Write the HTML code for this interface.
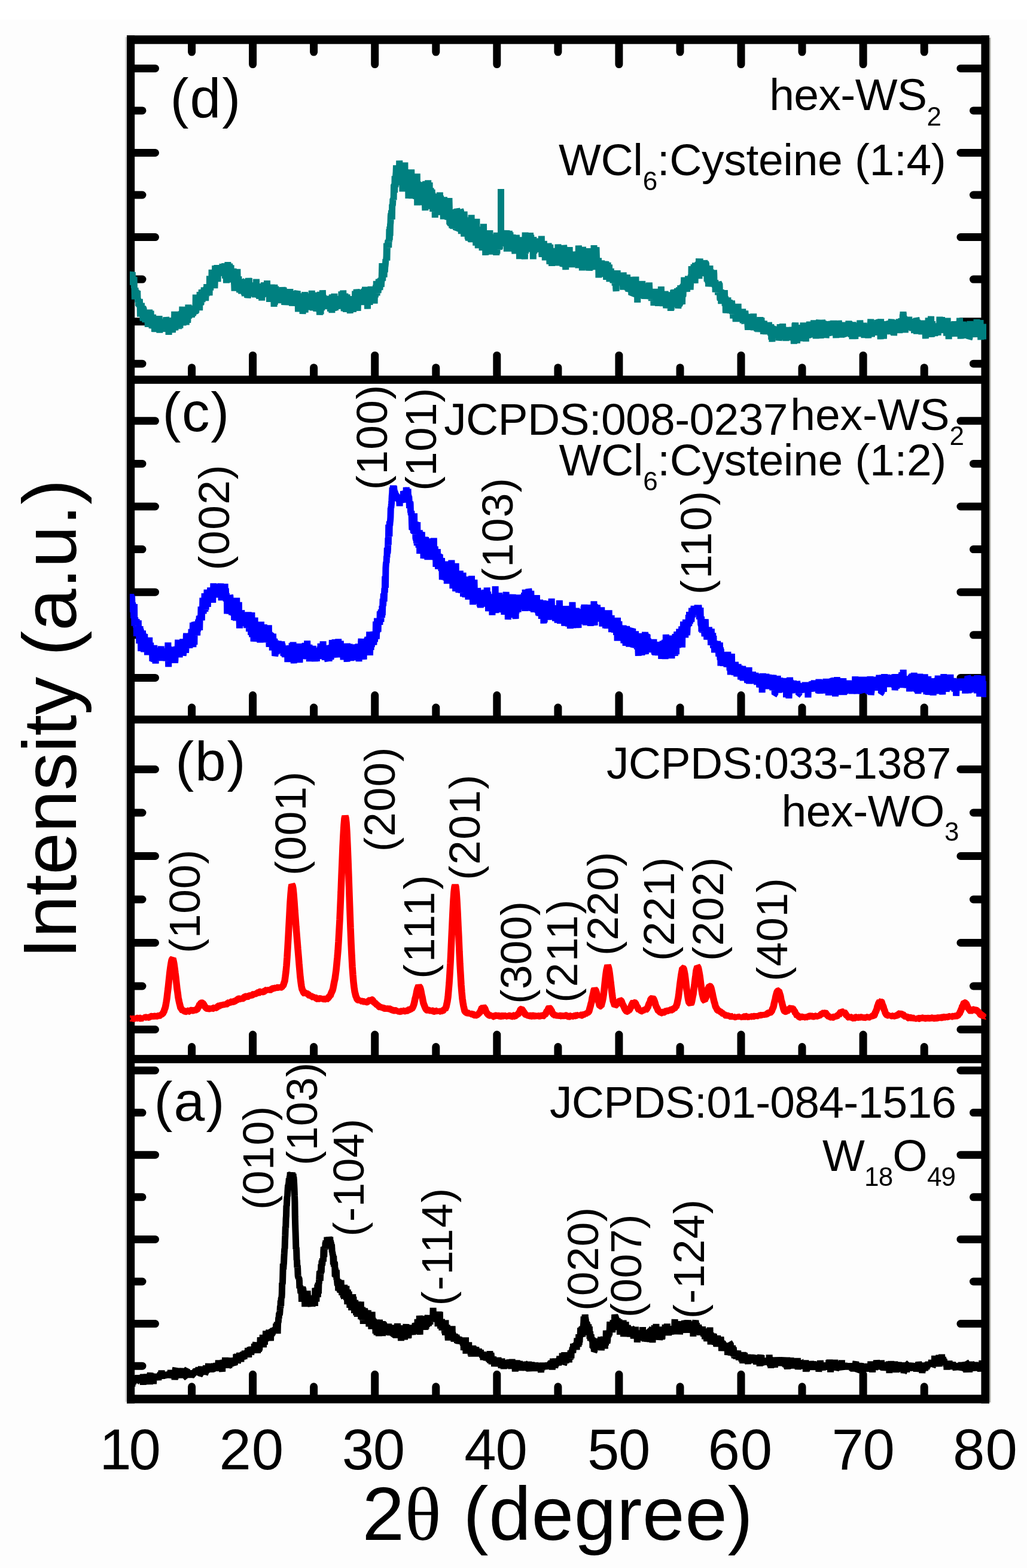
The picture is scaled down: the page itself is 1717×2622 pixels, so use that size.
<!DOCTYPE html><html><head><meta charset="utf-8"><title>XRD</title><style>html,body{margin:0;padding:0;background:#fff}svg{display:block}text{font-family:"Liberation Sans",Arial,sans-serif;fill:#000}</style></head><body>
<svg width="1717" height="2622" viewBox="0 0 1717 2622">
<rect x="0" y="0" width="1717" height="2622" fill="#fdfdfd"/>
<rect x="0" y="0" width="1717" height="33" fill="#fff"/>
<rect x="209.2" y="62" width="2.8" height="2282" fill="#d4d4d4"/>
<rect x="1654" y="63" width="2.4" height="2282" fill="#a8a8a2"/>
<rect x="212.0" y="59.2" width="13.2" height="2287.6" fill="#000"/>
<rect x="1640.4" y="59.2" width="13.6" height="2287.6" fill="#000"/>
<rect x="212.0" y="59.2" width="1442.0" height="14.4" fill="#000"/>
<rect x="212.0" y="2332.3" width="1442.0" height="14.3" fill="#000"/>
<rect x="212.0" y="628.2" width="1442.0" height="13.6" fill="#000"/>
<rect x="212.0" y="1196.6" width="1442.0" height="13.2" fill="#000"/>
<rect x="212.0" y="1764.1" width="1442.0" height="13.8" fill="#000"/>
<path fill="none" stroke="#000" stroke-width="13" stroke-linecap="round" d="M320.6 70.0V87.1M320.6 631.2V614.7M320.6 1199.6V1183.1M320.6 1767.1V1750.6M320.6 2335.3V2318.8M422.6 70.0V107.6M422.6 631.2V594.2M422.6 1199.6V1162.6M422.6 1767.1V1730.1M422.6 2335.3V2298.3M524.6 70.0V87.1M524.6 631.2V614.7M524.6 1199.6V1183.1M524.6 1767.1V1750.6M524.6 2335.3V2318.8M626.7 70.0V107.6M626.7 631.2V594.2M626.7 1199.6V1162.6M626.7 1767.1V1730.1M626.7 2335.3V2298.3M728.8 70.0V87.1M728.8 631.2V614.7M728.8 1199.6V1183.1M728.8 1767.1V1750.6M728.8 2335.3V2318.8M830.8 70.0V107.6M830.8 631.2V594.2M830.8 1199.6V1162.6M830.8 1767.1V1730.1M830.8 2335.3V2298.3M932.9 70.0V87.1M932.9 631.2V614.7M932.9 1199.6V1183.1M932.9 1767.1V1750.6M932.9 2335.3V2318.8M1034.9 70.0V107.6M1034.9 631.2V594.2M1034.9 1199.6V1162.6M1034.9 1767.1V1730.1M1034.9 2335.3V2298.3M1137.0 70.0V87.1M1137.0 631.2V614.7M1137.0 1199.6V1183.1M1137.0 1767.1V1750.6M1137.0 2335.3V2318.8M1239.0 70.0V107.6M1239.0 631.2V594.2M1239.0 1199.6V1162.6M1239.0 1767.1V1730.1M1239.0 2335.3V2298.3M1341.0 70.0V87.1M1341.0 631.2V614.7M1341.0 1199.6V1183.1M1341.0 1767.1V1750.6M1341.0 2335.3V2318.8M1443.1 70.0V107.6M1443.1 631.2V594.2M1443.1 1199.6V1162.6M1443.1 1767.1V1730.1M1443.1 2335.3V2298.3M1545.2 70.0V87.1M1545.2 631.2V614.7M1545.2 1199.6V1183.1M1545.2 1767.1V1750.6M1545.2 2335.3V2318.8M222.0 114.4H259.5M1643.0 114.4H1605.9M222.0 184.9H238.0M1643.0 184.9H1627.4M222.0 255.5H259.5M1643.0 255.5H1605.9M222.0 326.0H238.0M1643.0 326.0H1627.4M222.0 396.6H259.5M1643.0 396.6H1605.9M222.0 467.1H238.0M1643.0 467.1H1627.4M222.0 537.7H259.5M1643.0 537.7H1605.9M222.0 608.2H238.0M1643.0 608.2H1627.4M222.0 703.8H259.5M1643.0 703.8H1605.9M222.0 775.4H238.0M1643.0 775.4H1627.4M222.0 847.0H259.5M1643.0 847.0H1605.9M222.0 918.6H238.0M1643.0 918.6H1627.4M222.0 990.2H259.5M1643.0 990.2H1605.9M222.0 1061.8H238.0M1643.0 1061.8H1627.4M222.0 1133.4H259.5M1643.0 1133.4H1605.9M222.0 1286.5H259.5M1643.0 1286.5H1605.9M222.0 1359.0H238.0M1643.0 1359.0H1627.4M222.0 1431.5H259.5M1643.0 1431.5H1605.9M222.0 1504.0H238.0M1643.0 1504.0H1627.4M222.0 1576.5H259.5M1643.0 1576.5H1605.9M222.0 1649.0H238.0M1643.0 1649.0H1627.4M222.0 1721.5H259.5M1643.0 1721.5H1605.9M222.0 1790.0H259.5M1643.0 1790.0H1605.9M222.0 1860.6H238.0M1643.0 1860.6H1627.4M222.0 1931.2H259.5M1643.0 1931.2H1605.9M222.0 2001.8H238.0M1643.0 2001.8H1627.4M222.0 2072.4H259.5M1643.0 2072.4H1605.9M222.0 2143.0H238.0M1643.0 2143.0H1627.4M222.0 2213.6H259.5M1643.0 2213.6H1605.9M222.0 2284.2H238.0M1643.0 2284.2H1627.4"/>
<defs><clipPath id="cp"><rect x="217" y="59" width="1432" height="2288"/></clipPath></defs>
<g clip-path="url(#cp)" fill="none" stroke-linejoin="bevel" stroke-linecap="butt">
<path stroke="#008080" stroke-width="11" d="M218.5 471.7l.4 2.6 .4-11.4 .4-6.4 .4-1.8 .4 11.3 .4-8.3 .4-2.6 .4 15.8 .4 .6 .4 4.8 .4-11.8 .4 9.3 .4 .5 .4-11.5 .4 19.2 .4-.7 .4 19.3 .4-17.8 .4-1.7 .4 13.3 .4-7.6 .4 7.6 .4-9.6 .4 6.5 .4 8.3 .4-1.3 .4-3.4 .4-8.8 .4 14.4 .4-1.7 .4 6.9 .4-2.8 .4 8.8 .4-7.9 .4 3.7 .4 5.5 .4-12.9 .4 7.2 .4 .7 .4 21.7 .4-15.6 .4 7.3 .4 .8 .4-6.2 .4-9.3 .4 21.2 .4-10.2 .4 9.8 .4-15.5 .4 7.7 .4 14.3 .4 2 .4-21.1 .4 .4 .4 10.8 .4 6.8 .4-4 .4 1.7 .4-9.6 .4 13 .4 4.7 .4-11.7 .4-7.4 .4 5.9 .4 12.4 .4-19.1 .4 13.4 .4-6.6 .4 7.2 .4-.4 .4 2.4 .4 12 .4-8 .4 7.5 .4-11.2 .4-2.3 .4 7 .4-22.1 .4 19.4 .4 1.8 .4-10.5 .4 13.4 .4-7.8 .4-14.5 .4 17.6 .4-5.8 .4 3.7 .4 3 .4 11 .4-8.7 .4-.9 .4 3.3 .4-16.9 .4 23.7 .4-17.8 .4 11.8 .4-12 .4 1.2 .4 4.6 .4 17.7 .4-9.1 .4-10 .4 2.5 .4-6.6 .4 8.7 .4-4.1 .4 10 .4-15.9 .4 7.9 .4-3.8 .4 1 .4 11.1 .4-4.4 .4 3.5 .4 4.7 .4-.2 .4-19.3 .4 14.7 .4-17.6 .4 13.1 .4 15.3 .4-16.2 .4-1.4 .4 4.2 .4-1.1 .4 .1 .4-6 .4 14.2 .4-1.5 .4-8.4 .4 4 .4 2.7 .4 2.9 .4-5 .4 2.4 .4-7.4 .4-6.2 .4 4.4 .4 11.6 .4-.3 .4-6.4 .4-5.6 .4 6.7 .4 10.4 .4-2.4 .4-15.8 .4 4.9 .4-10.9 .4 2.4 .4 10.1 .4-1.4 .4 7.2 .4 2.2 .4-3.4 .4 3.7 .4-14.5 .4-4.6 .4 12.5 .4 15.3 .4-16.6 .4-11.7 .4 10.6 .4 9.1 .4-19.1 .4 14.1 .4-11 .4 14.5 .4-3.9 .4-3.7 .4 13 .4-18.7 .4-2.2 .4 19.6 .4-21.2 .4 23.7 .4-17.3 .4-7.8 .4 7.9 .4 1 .4 .5 .4-3.1 .4 9.7 .4-26.4 .4 13.6 .4 2.2 .4 16 .4-29.6 .4 12.7 .4-6.4 .4 3.6 .4 10 .4-1.9 .4 7.8 .4-16 .4 6.6 .4 6.8 .4-2.3 .4-9.8 .4 11.2 .4-16.2 .4 21 .4-13 .4-2.3 .4 2.7 .4 4.3 .4 6.7 .4-14.9 .4-2.1 .4 7.2 .4-11.6 .4-6.7 .4 19.5 .4-9.8 .4 11.6 .4-17.2 .4-11.8 .4 21.6 .4-1.3 .4 11.1 .4-8.7 .4-2 .4 1.9 .4-7.8 .4 3.2 .4-11.6 .4 14.5 .4-10.8 .4 2.5 .4 8.8 .4 1.4 .4-15.6 .4 23.5 .4-21 .4 11 .4 .6 .4-6.2 .4-.8 .4 12.5 .4-7.6 .4-4 .4-18.6 .4 8.1 .4 14.9 .4-8.2 .4-9.7 .4 2 .4 2.2 .4 7.5 .4-2.9 .4 4.4 .4-15.1 .4 14 .4-12.5 .4 1.1 .4 16 .4-13.9 .4-2.3 .4-1.1 .4-1.9 .4 15.3 .4-1.9 .4-5.9 .4-4.9 .4 6.5 .4-9.6 .4 3.8 .4-.9 .4-3.1 .4 12.3 .4 .4 .4-4.1 .4-27.3 .4 30.5 .4-9.9 .4-10.1 .4 3 .4 9.2 .4-.3 .4-3.1 .4-6.5 .4-1.4 .4 6.1 .4-8.2 .4-7.3 .4 1.8 .4 3.6 .4 3.4 .4 15.7 .4-31 .4 15 .4-5.2 .4 2.8 .4 8.4 .4-1.4 .4-12.3 .4-3.9 .4-7.3 .4 10.5 .4 10.7 .4-13.3 .4 7.7 .4-.4 .4-3.2 .4 5.4 .4-10.7 .4-6.6 .4-3.4 .4 17.4 .4-11.5 .4-.1 .4 9.3 .4-14.4 .4 21.5 .4-10 .4-10.8 .4-1.5 .4 14.3 .4-20.1 .4 4.2 .4 5.1 .4 1.2 .4-2.2 .4 2.7 .4-7.1 .4 1.6 .4 11.5 .4-5.9 .4-10.1 .4 18.3 .4-33 .4 17.6 .4 4.5 .4 2.1 .4-8.2 .4-5 .4 7.9 .4-7.6 .4 5.3 .4-27.1 .4 24.9 .4-11.2 .4 14.7 .4-2.4 .4-.9 .4-10.8 .4 6.8 .4-7.7 .4 4.3 .4-3.9 .4-7.3 .4 24.8 .4-12 .4-26 .4 25.9 .4-21.5 .4 9.7 .4-4 .4-.4 .4 6.3 .4-5.9 .4-10.9 .4 12.5 .4 2.9 .4 12.4 .4-20.4 .4-7.3 .4 7.2 .4 9.4 .4-14.2 .4 1.5 .4 11.8 .4-5.2 .4 2.2 .4-7.8 .4-1.8 .4 4.6 .4 1.4 .4-1.9 .4 6.8 .4 .7 .4-.3 .4-.9 .4-12.8 .4-2.4 .4 17.7 .4-7.3 .4 1.1 .4-11.6 .4 9.1 .4-3.6 .4-1.7 .4 2.6 .4-7.6 .4 14.9 .4 10.3 .4-16.8 .4 7.6 .4-10.6 .4 16.4 .4 11.1 .4-28.2 .4 9.3 .4 15.2 .4-9.6 .4-2.2 .4-19.6 .4 17.3 .4 9.9 .4 4.8 .4-7.2 .4-11.1 .4-.8 .4-10.2 .4 6.9 .4 20.2 .4-11.1 .4-10.9 .4 24.4 .4-27 .4 27 .4-14.1 .4 6.4 .4 3.4 .4-3.4 .4 9.5 .4-11 .4-2.8 .4-2.6 .4-6.7 .4 7.2 .4 15.5 .4-1.1 .4 5.5 .4 10.4 .4-15.8 .4-1.5 .4-15.9 .4 10 .4 22.3 .4-14.6 .4-5.5 .4 4.4 .4-19.3 .4 9.9 .4-3.8 .4-7 .4 26.4 .4 2.2 .4-9.7 .4 5.1 .4-11.6 .4 13.5 .4 3.2 .4 7.3 .4 .7 .4-9 .4-5 .4-5.7 .4 2.4 .4 11.2 .4 0 .4-4.4 .4 14.9 .4-8.5 .4-5.1 .4-1.5 .4 2.8 .4-8.6 .4 .1 .4 12 .4-7.8 .4 3.2 .4 13.4 .4-12 .4 13.5 .4-11.1 .4 13.6 .4-8.8 .4-19 .4 26.4 .4-12.2 .4-15 .4 18.3 .4 .7 .4-12.3 .4 6.2 .4 10.3 .4 7.7 .4-2.2 .4 .9 .4-.7 .4-30.9 .4 15.3 .4 8 .4-23 .4 28.3 .4 1.2 .4-14.3 .4 3.5 .4-4.8 .4 8.1 .4-.2 .4 .4 .4-8.7 .4 12.2 .4-6.2 .4 11.1 .4-5.4 .4-15.5 .4 .4 .4 13.1 .4-4.8 .4 8.3 .4 2.9 .4-6.7 .4-14.7 .4 4.3 .4 15.2 .4-13.9 .4 18.6 .4-10.3 .4 5.3 .4-12 .4 6.8 .4-20.7 .4 19.8 .4 6.8 .4-12.6 .4 .5 .4 6.8 .4 1 .4-7.4 .4 12.7 .4-19.9 .4 23.8 .4-21.7 .4 5.1 .4 18.5 .4-20 .4-5.6 .4 14.9 .4-8.6 .4-1.6 .4 3.6 .4-.4 .4-1.9 .4-.5 .4 22.8 .4-19.6 .4 14.1 .4-20.4 .4 16.8 .4-15.4 .4 6.9 .4 9.4 .4-10 .4-12.2 .4 12.1 .4 3.5 .4 6.3 .4-13.4 .4 6 .4 3.2 .4-14.6 .4 13.3 .4-6.2 .4 10.9 .4-4.6 .4-.4 .4-19.2 .4 19.8 .4-2.2 .4-4.8 .4 3.8 .4-6.4 .4 12.4 .4 4.2 .4-.5 .4-9.5 .4 18.9 .4-7 .4-15.4 .4 7 .4-12.6 .4 13 .4 7.1 .4 4.8 .4-14.3 .4-11.7 .4 13.9 .4 13.2 .4-10.4 .4 9.7 .4-3.7 .4 6.3 .4-8.2 .4-10.7 .4 9.5 .4 17.6 .4-25.8 .4-11.3 .4 33.8 .4-14.4 .4-8.8 .4 .2 .4-7.9 .4 19.2 .4-4.7 .4-6.6 .4 1.9 .4 0 .4 12.8 .4-10.6 .4 13.4 .4-18.8 .4 2 .4 1.2 .4-.4 .4 3.9 .4 9.6 .4 1.7 .4-19.4 .4 20.2 .4-10 .4 12.9 .4-14.9 .4-5.5 .4 14 .4-1.3 .4-9 .4 4.2 .4 1.1 .4 1.7 .4-17.1 .4 4.5 .4 10.9 .4 1.9 .4-6.5 .4-10.3 .4 26.5 .4-13.9 .4-6.1 .4 22.6 .4-3.8 .4-.6 .4-1.6 .4-2 .4-12.9 .4 8.6 .4 2.9 .4 2.5 .4-1.1 .4-12.4 .4 3.5 .4 2.5 .4 1.3 .4-5.6 .4-7.8 .4 5.2 .4 13 .4-2.5 .4 5.1 .4-20.6 .4 12.5 .4 11.1 .4-23.8 .4 7.5 .4-4.7 .4 24.3 .4-9.8 .4-4.9 .4 6.2 .4-1.9 .4 8.5 .4 2.3 .4-2 .4-4.7 .4 3.7 .4 .5 .4 3.1 .4-25.1 .4 18.4 .4-2.1 .4 .8 .4-3.4 .4 1.6 .4 4.8 .4-2.4 .4-.5 .4-9.9 .4-1.5 .4 4.3 .4-8.6 .4 10.7 .4-2.7 .4-7.9 .4-1.1 .4 12.3 .4-.9 .4 23.1 .4-10.9 .4-13.7 .4 2.4 .4-4.2 .4 1.9 .4 3.7 .4 2.6 .4-4.8 .4 12.2 .4-1.5 .4 11 .4-27.2 .4 16.6 .4-8.7 .4-10.2 .4 11 .4-11.1 .4 13.5 .4 21.1 .4-9.9 .4 4.4 .4-5.2 .4-22.7 .4 16.4 .4-2.2 .4 2.5 .4-12.2 .4-7.8 .4 34.1 .4-7.5 .4-7.3 .4-6.6 .4 5.7 .4-11.8 .4 18.4 .4-6.6 .4-2.5 .4-2.3 .4 3.1 .4 1.7 .4-4.4 .4 11.4 .4-6.2 .4-2.5 .4-6.3 .4 17.3 .4 .7 .4-5 .4-21 .4 12.4 .4 11.2 .4-7.9 .4 10.3 .4-14.2 .4 10.2 .4-2.2 .4-24.7 .4 17 .4 1.4 .4-3.3 .4-2.2 .4 20.6 .4-14.2 .4 7.6 .4-17.7 .4-6.1 .4 13.3 .4 7.3 .4-9.4 .4 10.4 .4 2.2 .4-10.4 .4 3.3 .4-5.7 .4 15.1 .4 5.7 .4-10.6 .4-8.3 .4-1.7 .4 3.6 .4 9.7 .4-13.7 .4 18.6 .4-22.4 .4 10 .4 11 .4 3.9 .4-18.2 .4 10 .4 14.1 .4-11 .4-27.9 .4 20.5 .4 17.4 .4-29.3 .4 17.2 .4-24.9 .4 30.5 .4-20.2 .4 13.7 .4 .9 .4-28.3 .4 8.8 .4 14.6 .4-15.3 .4 12.4 .4-7.7 .4 19 .4-15.3 .4-3.4 .4 12.9 .4 4.8 .4-11.4 .4 3.6 .4 1.8 .4-8.2 .4-5.8 .4 14.3 .4-7.3 .4-8.5 .4 18.5 .4-3.5 .4-2.4 .4-7.5 .4 4.5 .4 6.9 .4-1.1 .4-10.8 .4-.7 .4 10.3 .4-1.3 .4 5.5 .4-16.6 .4 17.2 .4 7 .4-6.7 .4-6.8 .4 6.4 .4-18.2 .4 7 .4 20.8 .4-30.7 .4 4 .4 16.4 .4-12.3 .4 .8 .4-4.6 .4 23.3 .4-19.1 .4 2.8 .4-12.8 .4 21.5 .4-6.5 .4 4.2 .4 9 .4-11.9 .4-11.1 .4 1.4 .4 9.1 .4 10.3 .4-20.9 .4 7.9 .4 .8 .4 6.7 .4-12.9 .4 10 .4 3.9 .4-6.8 .4-.5 .4 6 .4-.3 .4 5.6 .4-19.4 .4 19.2 .4-12.1 .4-7.6 .4 4.9 .4-5.6 .4 8.6 .4 10.2 .4-27.2 .4 8.9 .4 16.2 .4-8.9 .4 9.1 .4-17.5 .4 10.6 .4-20.3 .4 13.7 .4 13.2 .4 4 .4 3.5 .4-14 .4-6.8 .4 4.1 .4-12.6 .4 27.1 .4-1.4 .4-17.3 .4 22.8 .4-26.4 .4 15.9 .4-11.3 .4-7.6 .4 17.7 .4-12.8 .4 19.5 .4-17.3 .4 8.4 .4-4.8 .4 5.2 .4-6.3 .4 12.2 .4-1.6 .4-4.4 .4-1.5 .4 17.5 .4-21.8 .4 2.2 .4 10.2 .4-6.3 .4-13.3 .4 12.5 .4-1.9 .4-5 .4 9.9 .4-11 .4 7.3 .4-7.4 .4 22.2 .4-15.4 .4 5.8 .4-1.5 .4 3.2 .4-7.4 .4 7.2 .4-5.6 .4-21.6 .4 22.5 .4-13.7 .4 18.3 .4-6.5 .4-5.2 .4-18 .4 2.6 .4 7.8 .4 6.3 .4-8.6 .4 27.8 .4-13 .4-4.8 .4-7.8 .4 5.1 .4 .6 .4-2 .4 2.8 .4 7.1 .4-21.8 .4 16.5 .4 7.1 .4-21 .4 9.7 .4-1.9 .4-6.6 .4 17.4 .4-10.9 .4 12.2 .4-6.3 .4-6 .4 4.6 .4-5.7 .4-10.8 .4 25.8 .4-9.1 .4 6.6 .4-25.1 .4 24 .4-1.9 .4-7.4 .4-17.7 .4 18.7 .4-6.5 .4 3.9 .4 2 .4-8.2 .4 6.5 .4 1.1 .4 12.2 .4-13.2 .4 20.7 .4-29.9 .4 8.9 .4 11.6 .4-23.8 .4 18.6 .4-1.9 .4-8.5 .4 3.1 .4 15 .4-16.9 .4 6.1 .4 1.3 .4 6.4 .4-27.8 .4 4.9 .4 .9 .4 8.8 .4 7.3 .4 1.6 .4-9.8 .4 15 .4-13.8 .4 6.2 .4-12.7 .4 13.2 .4-13.7 .4 15.6 .4-2.9 .4 8.1 .4-20.1 .4-6.9 .4 16.5 .4-4.9 .4-7.9 .4-7.6 .4 17.7 .4-24.5 .4 12 .4 12.5 .4-12.3 .4 5.2 .4-.6 .4 0 .4 3.1 .4-4.5 .4-10 .4-8.5 .4 7.4 .4-4.2 .4 8.4 .4 6.4 .4-4.8 .4-14 .4 7 .4-2.7 .4-5.3 .4 14.8 .4-7.3 .4-3.6 .4-15.7 .4-13.1 .4 14.3 .4 15.2 .4-14.3 .4-.1 .4-4.1 .4 4.9 .4-6.4 .4 14.1 .4-19 .4-3.3 .4 13.8 .4-8.3 .4-2.6 .4-3.6 .4-7.5 .4 1.2 .4 0 .4-6.4 .4-21.4 .4 29.3 .4-20.3 .4-3.2 .4-.2 .4-6.2 .4-4.1 .4 5.3 .4 7 .4-14.5 .4 4.9 .4-21.5 .4 18.4 .4-22.6 .4 15.4 .4-18.7 .4-2.8 .4-11.5 .4-4.7 .4 7 .4-11.9 .4 4.3 .4 11 .4-25.3 .4 1.9 .4-1.5 .4-9.9 .4 1.8 .4-2.7 .4 3 .4-25.8 .4 1.9 .4-2.3 .4 14 .4-27.7 .4 12.3 .4 5.8 .4-3.4 .4-16.4 .4-5.3 .4-11 .4 14.2 .4 1.9 .4-16 .4 26.7 .4-9.1 .4-5.8 .4-4.2 .4 11.3 .4-9.6 .4 9 .4-12.1 .4 18.2 .4-32.4 .4 6.6 .4 34.5 .4-9 .4 7.3 .4-29.1 .4 18.5 .4 3.5 .4-.7 .4-12.9 .4 20.2 .4-12.3 .4-20.1 .4 45.4 .4-27.5 .4 14 .4-22.8 .4-2.3 .4 22.1 .4-.2 .4-18.1 .4 12.3 .4-18.3 .4-8.1 .4 37.8 .4-26.1 .4 22.8 .4 4.3 .4-7.8 .4 14 .4-13.2 .4-.4 .4-3 .4 5.3 .4-.3 .4-14.8 .4 10.9 .4-3.4 .4 34.3 .4-14.5 .4-23.2 .4 16.7 .4-27.1 .4 21.7 .4 21.2 .4-19.8 .4 14.6 .4-18.7 .4 10.2 .4-.4 .4-29.3 .4 16.9 .4 32 .4-31.1 .4 24.2 .4 6.6 .4-19.9 .4 12.7 .4-6.9 .4-10.6 .4 14.2 .4-1.3 .4-16 .4 6.7 .4-10.1 .4 12 .4 3.8 .4-10.5 .4-9.9 .4 29.5 .4 7 .4-24.7 .4 11.5 .4-8.3 .4-20.8 .4 53.2 .4-20.7 .4-19.3 .4 30.9 .4-6.1 .4 8.1 .4-7.6 .4-2.1 .4 10.6 .4-19.4 .4 6.1 .4-14.9 .4-.5 .4 15.7 .4 .5 .4-20.5 .4 22.6 .4 7.5 .4-25.6 .4 10.7 .4 23.7 .4-29 .4 16.4 .4 2.7 .4-6.7 .4-.1 .4 5 .4-2.9 .4-1.4 .4-18.2 .4 19.8 .4-11.5 .4 26.2 .4 8.4 .4-12.3 .4-36.8 .4 36 .4-9.8 .4-13.4 .4-1.2 .4 26 .4-19.1 .4 6.7 .4 1.9 .4 10.1 .4-38.6 .4 42.4 .4-22.8 .4 4.8 .4 11.8 .4-2.6 .4-30 .4 33.1 .4-8.2 .4-9.7 .4 5 .4-10.9 .4 27.1 .4 8 .4-23.5 .4 2.1 .4-10.9 .4 8.7 .4-3.3 .4 11.9 .4 19.5 .4-7.5 .4-.6 .4-21.7 .4 20.4 .4-17.2 .4-1.7 .4 18.4 .4-9.2 .4 29.1 .4-25.5 .4-5.3 .4 11.9 .4-21.1 .4 20.8 .4 10 .4-18.7 .4-4 .4 18.5 .4-24.8 .4 16.9 .4-9.8 .4 9.4 .4-11.8 .4 15.8 .4-.2 .4 13.6 .4-23.2 .4 9.3 .4-24.1 .4 11.2 .4 12.1 .4-17.7 .4 14.4 .4-8.3 .4 15.7 .4 1.7 .4-11.3 .4 12.9 .4-12.9 .4 7.9 .4 4.9 .4 .9 .4 .9 .4 12.6 .4-25.3 .4 5.9 .4-17.9 .4 30.1 .4-21.4 .4 6.2 .4 1.3 .4 10.6 .4-7.2 .4 .4 .4 4.3 .4-4 .4 3.8 .4-10 .4 5.1 .4-6.8 .4 22.9 .4 .9 .4-2.2 .4-3.1 .4-9.8 .4 13 .4-22.4 .4-9.9 .4 14.6 .4 29.4 .4-13.2 .4 14.5 .4-24.1 .4 19 .4 6.6 .4-6.2 .4-7.2 .4 8.9 .4-16.2 .4 24.1 .4-31 .4 4.6 .4 8.7 .4-8.2 .4 27.3 .4-11.3 .4-14.8 .4 26.1 .4-3.1 .4-18.3 .4 21 .4-3.8 .4-17.7 .4-.3 .4 9.5 .4 9.2 .4 4.8 .4-.4 .4-20.9 .4-13.6 .4 1.3 .4 34.3 .4-4.5 .4 1.6 .4-12.3 .4 1.2 .4 4.5 .4 0 .4-3.7 .4-10.9 .4-3.9 .4 16.4 .4-3 .4 16.9 .4-26 .4-9.4 .4 .5 .4 20.7 .4 18.3 .4-21 .4-3.5 .4 11.6 .4 12.6 .4-4.5 .4-2 .4 .9 .4-12.6 .4 4.2 .4 3.8 .4 14.9 .4-41.9 .4 17.7 .4 9.9 .4-6.1 .4 1.4 .4-1.1 .4-6.9 .4 15.5 .4 8.6 .4-17.1 .4 8.7 .4 7.2 .4-18.1 .4 6.2 .4-12.4 .4 30.4 .4 1.7 .4-19.8 .4 23.2 .4-11.6 .4-27.7 .4 24.4 .4-2.2 .4 3 .4 2.1 .4-11.5 .4 16.7 .4-8.2 .4 16.7 .4-20.6 .4-24.4 .4 45.9 .4-13.7 .4-24.5 .4 13 .4-1.6 .4 18.1 .4-15.9 .4 18.8 .4-16.9 .4 15.4 .4-15.9 .4-5.8 .4 18.7 .4-8.2 .4 8 .4-22 .4 6.6 .4 7.3 .4 24.1 .4-15.8 .4-21.1 .4-8.1 .4 45 .4-15.4 .4-16.1 .4 23.4 .4-1.1 .4 13.5 .4-19.7 .4-6.8 .4 13.8 .4-21.9 .4 9.5 .4-5.3 .4 4.6 .4-7 .4-1.4 .4 3.8 .4 15.5 .4-3.4 .4-.8 .4 5.8 .4 3.1 .4-2.5 .4 16.5 .4-17.9 .4 1.3 .4-8.5 .4 16.2 .4 3.8 .4-39.5 .4 33.9 .4-19.1 .4 14.9 .4-2.4 .4-13.3 .4-.6 .4 11.3 .4 28 .4-37.4 .4 8.7 .4 1.4 .4 .5 .4 14.2 .4 9.6 .4-21 .4 4.8 .4-7.2 .4 19.2 .4-16.2 .4 7.5 .4-8.7 .4 13.4 .4-11.9 .4-7.7 .4 27.6 .4-38.6 .4 21.3 .4-5.3 .4-5.5 .4 30 .4-17.5 .4-7.6 .4-4.8 .4 12.3 .4-3.5 .4-2.4 .4-4.3 .4 21.9 .4-13.2 .4-4.1 .4-10.8 .4 4.7 .4 15.1 .4-15 .4 14 .4-7.8 .4 5 .4-.6 .4-8.1 .4 1.6 .4 1.8 .4 7.1 .4 17.4 .4-15.7 .4-22.2 .4 35.4 .4-23.8 .4-6 .4 8.1 .4-2.1 .4 3 .4-3 .4-.2 .4 12.9 .4 4.3 .4-16.3 .4 15 .4-6.7 .4 2.6 .4-9.4 .4-.6 .4 5.9 .4-17.8 .4 10.4 .4-12 .4 20.7 .4-7 .4 3.9 .4-9.3 .4-4.3 .4 17.6 .4-14 .4 2.3 .4 2.6 .4 4.5 .4-4 .4-11 .4 .1 .4 20.9 .4-13.3 .4 .9 .4-6.3 .4 18.4 .4-4.6 .4-10 .4-11.7 .4 35.6 .4-23.6 .4-5.9 .4 7 .4-6.4 .4 11.6 .4-5.3 .4-6.1 .4 18.9 .4-15.2 .4-9.8 .4 22.2 .4-8.7 .4-5.2 .4-5.6 .4 9.8 .4 1.2 .4 1.3 .4 0 .4 17.8 .4-1.9 .4-7.3 .4 2.6 .4-10.1 .4-9.9 .4 20 .4 8.5 .4-20.6 .4 .1 .4 .1 .4-6.2 .4 18.8 .4-16.3 .4 24.7 .4 2.9 .4-15.7 .4-1.2 .4-8 .4 17.6 .4-8.1 .4-15.7 .4 5.6 .4 14.1 .4-9.6 .4 9.4 .4-1.9 .4 11.9 .4-15.3 .4 11.6 .4 .5 .4 2.2 .4-16.6 .4 6.3 .4 22.1 .4-26.8 .4-4 .4 7.2 .4-12.9 .4 3.3 .4 4.2 .4 1.5 .4 12.9 .4-21 .4 9.2 .4 4.4 .4-5.5 .4 10.3 .4 14.9 .4-33 .4 2.2 .4 3.5 .4-.2 .4 0 .4 9.6 .4 13.2 .4 7.2 .4-25.3 .4-19.6 .4 35.9 .4-15.3 .4-4.3 .4 15.1 .4-12 .4-1.1 .4-6.5 .4 17.9 .4-.7 .4-16.9 .4 2.9 .4 17.9 .4-19.5 .4 3 .4-3.4 .4 5.2 .4 10.9 .4-7.9 .4 9.3 .4-3.9 .4-26.1 .4 19.9 .4-.1 .4-16.3 .4 24.3 .4-8.2 .4-4.6 .4 10.2 .4 4.4 .4-2.3 .4-12.4 .4 4.8 .4 24.8 .4-37.3 .4 13.7 .4-.4 .4 14.6 .4-8.8 .4-3.8 .4-5.2 .4 15.4 .4-11.6 .4-1.6 .4 2.7 .4 5.2 .4-6.4 .4 2.3 .4 5.4 .4-15 .4 5 .4 3.2 .4 6.2 .4-1.1 .4-10.2 .4-5.3 .4 6.7 .4-1 .4 14 .4-2.3 .4-5.5 .4-11 .4-2 .4 14.3 .4 5.1 .4-2 .4-6 .4 8.5 .4-24.8 .4 31 .4 3.8 .4-12.8 .4 1 .4-4.1 .4 11.1 .4-17.5 .4 3.6 .4 9.9 .4-17.6 .4 19.1 .4-.1 .4-4.3 .4-4.5 .4 22.2 .4-22.1 .4 7 .4 6.6 .4-7.7 .4 10.6 .4-9.9 .4 2.7 .4-2.3 .4 6.8 .4-12.4 .4 15.2 .4 1.7 .4-20 .4-4.1 .4 1.9 .4 5.5 .4 14.7 .4-5.8 .4 17.9 .4-2.7 .4-30 .4 11.4 .4 1.1 .4 18.7 .4-7.8 .4 1.6 .4-16.6 .4 27.7 .4-30.1 .4 11.1 .4-9.4 .4 .8 .4 11.2 .4-10.9 .4 15.4 .4-1.5 .4-4.4 .4 5.7 .4 4.8 .4-.3 .4-21.4 .4 17.4 .4 2.3 .4-12.1 .4-.1 .4 15.4 .4-5.2 .4-5.1 .4 12.6 .4-4.8 .4 7.8 .4-20.4 .4 13.2 .4-28.5 .4 12.9 .4 22.3 .4-25.4 .4 7.9 .4-1.8 .4 8 .4 6.4 .4 4.5 .4-16.8 .4 4.7 .4 5.3 .4 2.8 .4-13.8 .4 15.8 .4-26.8 .4 16.5 .4-15.8 .4 8.8 .4-3.1 .4 24.7 .4-.9 .4-8.5 .4-5.8 .4-20.3 .4 2.5 .4 18.2 .4 5.3 .4-2.1 .4-11.8 .4-.4 .4 12.7 .4 16.7 .4-14.7 .4-7.3 .4-.7 .4 5.4 .4-1.2 .4-16.6 .4 28.6 .4-10.3 .4 1 .4-9.6 .4 15 .4-.8 .4-16.6 .4 16.9 .4-16.5 .4-10.8 .4 25.8 .4-17.5 .4 4.3 .4-3.5 .4 8.3 .4-2.6 .4 5 .4 3.1 .4 11.2 .4-11.1 .4 .6 .4-.1 .4 3.2 .4 .9 .4-5.8 .4-13.7 .4 2 .4 12 .4-5.7 .4-.8 .4-.9 .4-1.8 .4 17.4 .4-2.9 .4-19.5 .4 14 .4-1.9 .4-4.1 .4 14.5 .4-6.9 .4-2.2 .4-8.8 .4 17.3 .4-6.5 .4 .4 .4-9.2 .4 20.9 .4-37.9 .4 10.7 .4-2.5 .4 3.6 .4 2.6 .4 5.1 .4 1.7 .4 5.1 .4 11.1 .4-7.4 .4-4.1 .4-2.5 .4 5.1 .4 4.2 .4-14.6 .4 23.7 .4-16.7 .4 8.4 .4-31.3 .4 25.1 .4-5.5 .4 16.7 .4-3.2 .4-6.5 .4 3 .4-8.9 .4-5.5 .4 19.4 .4-22.1 .4 6.4 .4-6 .4 2.1 .4 5.2 .4 11.8 .4-17.1 .4 16.2 .4-24.5 .4 9.7 .4-.3 .4 14.6 .4 6.2 .4-34.4 .4 22.6 .4 14.6 .4-15.1 .4 15.4 .4-4.7 .4-8.2 .4-16.1 .4 7 .4 20.9 .4-23.1 .4-1.9 .4 5.9 .4 16.2 .4-11 .4-15.5 .4 8.4 .4 12.3 .4 4.4 .4 3.5 .4-9.7 .4-.4 .4-13.7 .4 3.8 .4-7.6 .4 11.5 .4 5.2 .4-3.4 .4-9.4 .4 14.3 .4 3.4 .4 3.1 .4-32.1 .4-2.3 .4 12.8 .4 15.7 .4 5.1 .4-2.2 .4-5.9 .4 2.6 .4-4.2 .4-3.5 .4-2.5 .4 33.2 .4-25.3 .4 8 .4 .4 .4 3.7 .4-8.3 .4 9.6 .4 10.4 .4-24.1 .4 1 .4-3.4 .4 6.4 .4-7.6 .4 14.9 .4 3.5 .4 5.5 .4 1.1 .4-15 .4 5.6 .4-8.8 .4 8.3 .4 .7 .4 4.1 .4-4.8 .4-8.9 .4 19.3 .4-10.1 .4-11.1 .4-2.7 .4 22.3 .4-22.2 .4 22.8 .4 8 .4-8.6 .4 2.9 .4-1.9 .4-10.4 .4 7.8 .4-18.7 .4 23 .4 .5 .4-4.1 .4 8.8 .4-11 .4-13.7 .4 28.7 .4-11.6 .4-6.1 .4 1.2 .4 1.7 .4 5.5 .4-13 .4 12.8 .4-3.8 .4 9.4 .4-8.4 .4 8.9 .4-13.2 .4 11.4 .4-5.5 .4 12.6 .4-5.8 .4 6.1 .4-13 .4-.8 .4 5.5 .4-8.5 .4 7.1 .4 14 .4-20.4 .4 4.8 .4 6.1 .4 14.1 .4 4.8 .4-23.5 .4 1.1 .4 6.8 .4-7.8 .4-11.4 .4 23 .4-1.6 .4-.6 .4 2.6 .4-2.9 .4-6.9 .4 11.3 .4-5.6 .4 2 .4-10.8 .4 10.5 .4-1 .4-6.8 .4 1 .4 3.1 .4 4 .4-5.3 .4-4 .4 10.4 .4-11.1 .4 13.6 .4-10.1 .4 5.9 .4 11.7 .4-29 .4 7.8 .4 7.3 .4 3.5 .4-6.2 .4-.5 .4 3 .4-3.2 .4 9.8 .4-6.7 .4 4.8 .4 1.9 .4 5.7 .4-11.1 .4 1.9 .4 7.6 .4-22.2 .4 19.4 .4-8.2 .4 15.6 .4-10.2 .4-4.6 .4 16.8 .4-13.6 .4-2.6 .4 11.7 .4-20.5 .4 15.4 .4 7.8 .4-16.7 .4 19.1 .4-10.6 .4-1.9 .4-9.5 .4 26.7 .4-.4 .4-14.3 .4 6.3 .4-19.3 .4 17.1 .4 2.8 .4-9.6 .4 1.3 .4 3.9 .4-5.1 .4-7.2 .4 21 .4 1.2 .4-2.3 .4 1.4 .4 2.9 .4-11.4 .4-18.7 .4 22 .4-4.8 .4-5 .4 14.4 .4-12.7 .4-1.3 .4 30.7 .4-23.6 .4 5 .4 3.8 .4 .3 .4-5.8 .4 5.4 .4-5 .4-2.8 .4 1.8 .4 7.6 .4 .8 .4-2 .4-16.3 .4 11.1 .4 6.4 .4-7.4 .4 7.6 .4-3 .4 9.2 .4-29.2 .4 20.9 .4 7.8 .4-3.2 .4-9.8 .4 2.6 .4-.9 .4 6.7 .4 2.8 .4-11 .4 14 .4-4.9 .4-21.2 .4 14.4 .4 2.3 .4-4.4 .4 6.6 .4-1.1 .4-.2 .4-1.4 .4 4.9 .4-7.2 .4 9.7 .4-19.4 .4 15.7 .4-4.5 .4 1 .4 5.7 .4-7.5 .4-15.8 .4 9.2 .4 10.6 .4-.5 .4-1.6 .4-1.2 .4 11.3 .4-5.5 .4-8.6 .4 1.6 .4 15.3 .4-6.9 .4 2.3 .4-2.8 .4 1.8 .4-6.2 .4-3.5 .4 .2 .4 1 .4 22.1 .4-9.3 .4-4.7 .4-1.2 .4-12.4 .4 19.9 .4-20.6 .4 23 .4-12.5 .4-7.4 .4 24 .4-20.3 .4 6.1 .4 1 .4-10.9 .4 16.1 .4-14.6 .4 9.6 .4-7.7 .4 22.7 .4-12.7 .4 11.8 .4-16.3 .4 6.4 .4 2.7 .4-3.8 .4-2.6 .4 11.6 .4-6.1 .4-2.4 .4 6.3 .4-27.6 .4 12.5 .4 12.6 .4-6.9 .4 .9 .4-9.9 .4 9.3 .4 14.4 .4-15.4 .4-4.1 .4 5.9 .4 11.1 .4-14 .4-8.1 .4 15.4 .4-4.8 .4 4.1 .4-15.3 .4 4.9 .4 6.5 .4 5.3 .4 11.6 .4-3.2 .4-1.9 .4-1.6 .4 .6 .4-3.4 .4-.1 .4-8.5 .4-1 .4 14.8 .4-20.5 .4 4.7 .4 2.8 .4 3.3 .4-7.2 .4 1.6 .4-2.9 .4 .3 .4 2.8 .4 24.2 .4-31 .4 29.8 .4-30.6 .4 11.6 .4-2.2 .4 5.7 .4-7.9 .4-6.5 .4 4.2 .4 1.7 .4-9.7 .4 11.4 .4 1.4 .4-13.4 .4 1.4 .4 17.5 .4-14.7 .4 2.3 .4 .4 .4-.5 .4 9.6 .4-2.7 .4 15.6 .4-20.8 .4 5.9 .4-9 .4 13.5 .4-20.8 .4 5.6 .4 4.9 .4 22.9 .4-3 .4-2.2 .4-16.9 .4-13.1 .4 17.3 .4 4.1 .4-15 .4 21.8 .4-.3 .4-31.2 .4 10.3 .4 .8 .4-.4 .4 .3 .4 1.1 .4-3.1 .4 23.1 .4-26.2 .4-7 .4 19.7 .4-2.2 .4-18.9 .4 1.4 .4-.7 .4-11.7 .4 6.4 .4 14.5 .4-16.1 .4 8.6 .4-.9 .4-3.4 .4 8.6 .4-3.3 .4 8.6 .4-8.6 .4-8.9 .4 19.1 .4-12.7 .4 1 .4-2.5 .4-6.2 .4-6.1 .4 18.4 .4-18.1 .4 3 .4 9.8 .4 .3 .4-9.3 .4 16.8 .4-20.4 .4 22.2 .4-9.3 .4-11.2 .4-4.4 .4 11.5 .4-25.9 .4 21 .4-.9 .4 7.5 .4-2.2 .4-10.5 .4 1 .4-13.5 .4 13.1 .4-12.5 .4-6 .4 27.8 .4-.3 .4-17.6 .4 3.3 .4 18.5 .4-34.6 .4 25.8 .4-17.1 .4 8.2 .4-6.9 .4 14.4 .4-3.4 .4-12.9 .4 12.1 .4-2.6 .4 3.9 .4-22.9 .4 17.4 .4-8.2 .4 2.1 .4-16.9 .4 34 .4-20.5 .4 4.6 .4-17.9 .4 11.7 .4 3.5 .4-.5 .4-11.3 .4 13.6 .4-6.8 .4 12.2 .4-18.6 .4 21.6 .4-20.1 .4-.5 .4 15.1 .4 1.6 .4-1.2 .4-8.8 .4 3.1 .4-5.3 .4 19.3 .4-25.9 .4 5.9 .4 .9 .4 16.1 .4-17.7 .4 21.6 .4-22.1 .4 .5 .4 19.4 .4 1.3 .4-6.3 .4 16.1 .4-15.5 .4-.1 .4 3.6 .4 14.3 .4-13.1 .4 19.1 .4-4.1 .4-2 .4-1.1 .4 4 .4-6.8 .4-24.9 .4 23.3 .4-2.3 .4-8.8 .4-5.7 .4 18.5 .4-10.5 .4 10.3 .4-6.8 .4 10.8 .4-11 .4 11.2 .4-2 .4-3.1 .4 2.2 .4 5.3 .4-24 .4 5.7 .4 18.3 .4-.1 .4 2.3 .4 1.4 .4-11 .4 20.4 .4-4.2 .4-3.1 .4-4.6 .4-3.6 .4 1.6 .4 9 .4-1.8 .4 6.8 .4-4.5 .4-5.4 .4 14.5 .4-21.7 .4 1.2 .4 15.6 .4-6.8 .4-7.5 .4 .3 .4 13.3 .4 12.4 .4 1.2 .4-12.4 .4-.6 .4-4.1 .4 23.9 .4-16.2 .4-1.6 .4 10.3 .4 4 .4-8.7 .4 10.9 .4-20.3 .4 15.1 .4 2 .4-.8 .4 2.9 .4-3.2 .4 4.1 .4-21.4 .4 12.4 .4 14 .4-15.4 .4 2.6 .4 24.7 .4-15.3 .4 2.4 .4 1.5 .4 11.7 .4-15.8 .4-4.1 .4 9.4 .4 9.7 .4-25.6 .4 13.9 .4-1.8 .4 4.7 .4 4.6 .4-2.5 .4-15 .4 11.2 .4 1.1 .4 .9 .4 9.4 .4-11 .4-2.3 .4 4.1 .4 1.8 .4 5.7 .4-19.3 .4 3.2 .4 10.6 .4 8.4 .4-7.7 .4 2.7 .4 12.4 .4-12.9 .4 1.7 .4-2.4 .4 8.4 .4-3.4 .4-5.9 .4 8.1 .4-1.8 .4-7.2 .4 10.1 .4 10.8 .4-24.9 .4 .5 .4 8 .4-.4 .4 3.8 .4-1.9 .4 1.8 .4 8 .4 1.6 .4-26.6 .4 21.3 .4-3.8 .4 4.3 .4-3.6 .4 2.8 .4-4.3 .4-3.1 .4 4.1 .4 7.9 .4-5.8 .4-.6 .4 10.7 .4-2.8 .4-13.5 .4 1 .4 5.2 .4 5.4 .4 4.6 .4-21.3 .4 24.1 .4-9.8 .4 1.5 .4 5.1 .4-4.1 .4-.4 .4 6.4 .4 1.8 .4-17.7 .4-3.5 .4 4.4 .4 10.6 .4-3.9 .4 .7 .4-2.1 .4-2.5 .4 11 .4-4.2 .4 2.9 .4 2.1 .4 7.5 .4 5.3 .4-20.8 .4 14.8 .4-8.3 .4 2.2 .4 5.6 .4-13.1 .4 3.8 .4 8.8 .4-2.6 .4 9.7 .4-9 .4-3.6 .4-1.6 .4 5.8 .4-18.4 .4 24.2 .4-7.1 .4-7.1 .4 5.8 .4 3.7 .4-13 .4 16.2 .4-23.3 .4 28.1 .4-13.1 .4 4.3 .4-3.7 .4-2.3 .4 12.2 .4-14.5 .4 7 .4 4.9 .4-13.1 .4 14.2 .4-11.4 .4 13.8 .4-9.1 .4 12.6 .4-10.1 .4-7 .4 15.2 .4 1.9 .4-1.7 .4-18.3 .4 3.3 .4 15.3 .4-3.2 .4-5.8 .4 1 .4 2.9 .4-17.5 .4 7.4 .4 0 .4 17.2 .4-10.6 .4-12.8 .4 14.8 .4-1.4 .4-2.6 .4-5.4 .4 4.2 .4 9.3 .4-5.4 .4 9.2 .4 4.4 .4-12.5 .4-9.2 .4 4.7 .4 8 .4 5.3 .4-6.9 .4 1.2 .4 2.1 .4 7.7 .4-3.7 .4-8 .4-1.6 .4 4.4 .4-4.2 .4-2.7 .4 15.3 .4-6.2 .4-9.4 .4 11.3 .4-10.9 .4 .8 .4-4.8 .4 3.4 .4 5.4 .4 5.6 .4-2.5 .4 3 .4-1.7 .4-3.6 .4 12.2 .4-16.9 .4 .8 .4 23 .4-13.5 .4 0 .4 17.3 .4-26.8 .4 20.2 .4-12.2 .4-1.1 .4-5.9 .4 7 .4 6.1 .4-5.6 .4-3.4 .4 6.6 .4 6.5 .4-9 .4-3.4 .4 .2 .4 5.9 .4-7.2 .4 14.9 .4-14.6 .4 12.2 .4-9.2 .4 6.8 .4-14 .4 7.1 .4-5.8 .4 1.6 .4 5.6 .4-8.4 .4 23.5 .4-2.1 .4-5.7 .4-6.6 .4-4.4 .4-8.3 .4 18.9 .4-14.8 .4 8.4 .4-4 .4 4.6 .4 12.5 .4-13 .4-.7 .4 8.3 .4-10.6 .4-10.5 .4 8.8 .4 3.9 .4-3.8 .4 13.2 .4 1.6 .4-16.3 .4 7.9 .4 1.3 .4-4.6 .4-1.6 .4 8.1 .4-6.2 .4 16.5 .4-13.6 .4 .3 .4 1.4 .4 .3 .4-4.8 .4 7.5 .4 1.8 .4-4.4 .4 1.4 .4-13.2 .4 7 .4 3.9 .4-3 .4 10.4 .4-5.3 .4-2.9 .4-4.8 .4 2.1 .4 1 .4 14.1 .4-21.1 .4 15.8 .4-9.7 .4 14.8 .4-5.1 .4-13.3 .4 8.9 .4-12.9 .4 15.6 .4-6.3 .4-6.8 .4 7.5 .4 4.6 .4 13.7 .4-11.8 .4-3.5 .4-3.2 .4-16.2 .4 5.7 .4-6.6 .4 8.5 .4 16.3 .4 2.1 .4-7.4 .4-5.1 .4 8.2 .4 12.1 .4-16.1 .4 9.1 .4-.3 .4-16.1 .4 7 .4-7.1 .4 8.5 .4-5.7 .4-3.7 .4 12.1 .4-5.7 .4-1.4 .4 8.2 .4-3.1 .4 5.8 .4 4.4 .4-22.9 .4 12.7 .4-16.7 .4 19.8 .4 7.6 .4-21.6 .4 16.1 .4-4 .4-2.3 .4-19.3 .4 8.4 .4 4.9 .4 3.2 .4 .4 .4 5 .4-5.2 .4-2.5 .4-6.1 .4 1.6 .4 4 .4 18 .4-19.5 .4 2 .4 7.9 .4-1.6 .4-1.4 .4-4.1 .4 11.2 .4-16.5 .4 14.7 .4 .9 .4-9.7 .4-6.2 .4-.8 .4 6.6 .4-17 .4 24.4 .4-16.2 .4-2.9 .4 12.8 .4-3.3 .4-7.1 .4 16.2 .4-18.8 .4 4.4 .4-7.7 .4 24.9 .4-8.9 .4-15.3 .4 14.5 .4-8.5 .4-2 .4 5 .4-13.6 .4 16.1 .4-1.6 .4 11.2 .4-18 .4-4 .4 3.2 .4 2.7 .4 10.7 .4 10.4 .4-12.5 .4-1.2 .4-11.8 .4-2.2 .4 1.5 .4 14 .4 3.6 .4-10.3 .4-8.2 .4 15.7 .4-6.7 .4-4.8 .4-6.2 .4-2 .4 25.3 .4-14.9 .4 5.9 .4 1.4 .4 3 .4 10.2 .4-18.1 .4 10.5 .4-15.6 .4-4.2 .4 10.7 .4-14.5 .4 3.3 .4 5.7 .4 10.7 .4-6.4 .4-11.7 .4 13.3 .4-4.1 .4 .6 .4-.4 .4 3.6 .4 6.7 .4-1.9 .4-3.5 .4-6.5 .4-5.5 .4 26.2 .4-2.8 .4-24.2 .4 15.7 .4 .2 .4-2.1 .4 .6 .4-4.5 .4 13.9 .4-8.1 .4 4.9 .4-5.4 .4-.6 .4-4.9 .4 12.5 .4-23 .4 24.1 .4-12 .4 3.5 .4-5.9 .4-9.9 .4 6.8 .4 9.9 .4-6.6 .4 7 .4-10.4 .4-6.9 .4 12.3 .4-2.3 .4-2.7 .4 16.5 .4-24.6 .4 14.5 .4-3.3 .4 12 .4-9 .4 1.5 .4-.8 .4-.4 .4-3.4 .4 .4 .4 7.5 .4 10.3 .4-24.4 .4 9.3 .4-10.1 .4 22.6 .4-1.4 .4-11.3 .4 8.8 .4-9.1 .4-10.5 .4 22.4 .4-25.4 .4 3.9 .4 16.8 .4-2.2 .4-2.2 .4-7.3 .4-2.5 .4-3.6 .4 18.1 .4-5 .4 12.5 .4-13.2 .4 .8 .4-8.3 .4 .5 .4 7.5 .4-9.9 .4 14 .4 .2 .4-17.6 .4 14.2 .4-2.7 .4-.2 .4-4.2 .4 11.4 .4-7.1 .4 3.3 .4-2 .4-7.7 .4-3.9 .4 21.4 .4 .5 .4-13.2 .4 8.4 .4 1.8 .4 1.5 .4-4.1 .4-8.1 .4 6.1 .4-8.9 .4 5.6 .4-8.9 .4-5.1 .4 5.5 .4-4.9 .4 14.9 .4 2 .4-1.6 .4-9.2 .4 5.6 .4-9.6 .4 13 .4 1.2 .4 10.2 .4-22 .4 6.5 .4 .4 .4 18.5 .4-15.8 .4 1.7 .4-14.6 .4 10.2 .4 17.6 .4-6.1 .4-5.2 .4-7.8 .4-3.9 .4 8.6 .4-6.3 .4 21.6 .4-21.1 .4 .6 .4 9.3 .4-3.7 .4-8.5 .4-3.2 .4 3.8 .4 18 .4-16.1 .4 3.2 .4 8.1 .4 5.2 .4-5.9 .4-3.1 .4-7.4 .4-2.4 .4 8.1 .4-1.6 .4 2.2 .4-17.1 .4 5 .4 16.4 .4 5.1 .4-9.8 .4-10.5 .4 13.8 .4-11.1 .4 4.4 .4 .1 .4 7.7 .4 2.5 .4-3.6 .4-11.8 .4 15.1 .4-11.6 .4-7.6 .4 18.2 .4 7.1 .4-22 .4 4.9 .4-1.7 .4 .9 .4 12.5 .4-2.9 .4-4.8 .4-.1 .4-7 .4 1.7 .4-1.4 .4 9.7 .4 .4 .4-7.7 .4 8.1 .4-11.9 .4 22 .4-23.7 .4 3.9 .4 3.4 .4 6.7 .4-4.2 .4-8.6 .4 10.8 .4 1.6 .4-14.4 .4-7.7 .4 20.3 .4-12.1 .4 15.3 .4 6 .4-4.1 .4-7.3 .4 4 .4-7.7 .4-5.2 .4 5.4 .4-2.2 .4 4.9 .4-10.6 .4 .8 .4 8.6 .4 .1 .4-.5 .4 6.7 .4-18.1 .4 15.7 .4-6.7 .4 1.7 .4 8.4 .4-7.2 .4 5.7 .4 5.3 .4-12.4 .4-13.3 .4 9.8 .4 .3 .4 5.1 .4-7.7 .4 7.2 .4 .7 .4-16.4 .4 26.5 .4-16.5 .4-5.7 .4 4.3 .4 11.4 .4 13.4 .4-34 .4 9.9 .4 13.8 .4-13.8 .4 5.5 .4-3.8 .4 3.1 .4 2.4 .4-9.7 .4-.1 .4-3.4 .4 12.5 .4 16.6 .4-9.7 .4-9.4 .4 10.4 .4-5.1 .4-7.1 .4-2.5 .4 5.8 .4-7.2 .4 5.8 .4 3.4 .4-12.6 .4 .6 .4 6.4 .4-4 .4 5.3 .4 3.1 .4 .2 .4 2.5 .4-4.7 .4 1.5 .4-3.1 .4 1.4 .4-1.2 .4 .4 .4-2.6 .4 4.8 .4 3.8 .4 3.8 .4 1.8 .4-6.2 .4-10.5 .4-5.3 .4-2.2 .4 9.5 .4 3.7 .4 6.2 .4-7.1 .4-.7 .4-9.3 .4 14.4 .4 8.8 .4-17.4 .4 19.1 .4-10.6 .4-11.9 .4 10.9 .4-3.1 .4 .9 .4-12 .4 11.8 .4 3.8 .4-15.9 .4 12.6 .4 5.8 .4-7.3 .4-7.8 .4 3.5 .4 7.1 .4-1.6 .4-5.1 .4-4.3 .4-.6 .4 3.8 .4-7.7 .4 11.8 .4 11.8 .4-16.6 .4 1.1 .4 1.1 .4 3.6 .4-6.7 .4 6 .4-10.6 .4-2 .4 3.7 .4 8.3 .4-8.8 .4-.7 .4 7.3 .4-17.1 .4 11.8 .4-14.4 .4 13.1 .4 19.1 .4-26.9 .4 21.2 .4-13.1 .4 .5 .4 1.4 .4 17.9 .4-19.2 .4 4.9 .4-4 .4 1.8 .4 7.7 .4-3.2 .4-1.3 .4-5.9 .4 6.8 .4-3 .4 1.5 .4 1.1 .4-4.5 .4-5.6 .4 12.9 .4-16.6 .4 20.6 .4-11 .4-2.4 .4 14.9 .4-12.7 .4 5.6 .4-7.3 .4 10.2 .4-.6 .4-4.3 .4 .4 .4-10 .4 20.4 .4-13.5 .4 4 .4-2.6 .4 5.6 .4-3.4 .4-1.1 .4 .6 .4 3.9 .4 10.1 .4-20.1 .4 16.4 .4-7 .4 2.8 .4-8.5 .4 12.6 .4-1.7 .4-19.8 .4 1.1 .4 25.8 .4-17 .4 2.6 .4-9.6 .4 11.3 .4 .6 .4-4.1 .4 13.5 .4-11.2 .4 7.9 .4-6 .4 1.1 .4-3.4 .4-2.1 .4 15 .4-2.2 .4 .3 .4-13.7 .4 1.9 .4 4.3 .4-3.8 .4 7.3 .4 7.7 .4-16.4 .4 1.1 .4-8.3 .4 20.8 .4-7.9 .4 1.2 .4-7.6 .4 5.3 .4-2.4 .4-2.8 .4 9.1 .4 5.9 .4-.5 .4-11.6 .4 21.4 .4-23.9 .4 5.1 .4-10 .4 7.8 .4 4.4 .4-6.9 .4 3.8 .4-6.5 .4 4.1 .4-6 .4 5.9 .4-12.7 .4 9.8 .4 2.9 .4 2.3 .4 10.6 .4-17.6 .4 2.8 .4 11.6 .4-13 .4 4.1 .4-10.1 .4-6 .4 35 .4-10.5 .4 9.6 .4-16 .4-9.9 .4 13.4 .4-9.7 .4 8.7 .4 1.3 .4 1.4 .4-10.3 .4 7 .4 1.8 .4 7.4 .4-13 .4 17 .4-9.4 .4-1.8 .4-7.5 .4 7.1 .4 2.1 .4-12.1 .4 12.3 .4-2.8 .4-4 .4-4.1 .4 4.5 .4 6.6 .4 7.8 .4-11.8 .4-3.6 .4 7.7 .4 2 .4-1.6 .4-6.8 .4-17 .4 19.6 .4-1.9 .4-8.2 .4 9 .4-7.8 .4 5.1 .4 11.6 .4-13.6 .4-13.4 .4 25.5 .4-8.6 .4 .8 .4-13.6 .4-.3 .4 11.2 .4-1.3 .4 5.2 .4-2.8 .4 4.1 .4-5.7 .4 5.9 .4-6.5 .4 7.5 .4 1.1 .4-16.2 .4 11.3 .4-2.6 .4 2.7 .4 13.9 .4-18.4 .4 3.4 .4 2.9 .4-17.9 .4 26.9 .4-6.1 .4-5.7 .4 8.1 .4 12.2 .4-25.1 .4 16.1 .4 2.9 .4-18.9 .4 9.6 .4-13.3 .4 11.9 .4-7.2 .4 9.6 .4-7.3 .4 12.3 .4-.2 .4 3.7 .4-13.5 .4-1.6 .4 .1 .4-2.4 .4 3.9 .4-6.7 .4 5.6 .4 8 .4 1.4 .4-4.3 .4-14.6 .4 22.9 .4 2.4 .4-7.1 .4-9.5 .4 7.9 .4-5.5 .4-11.1 .4 20.3 .4-2 .4-2.5 .4 1.3 .4-4.8 .4-9.2 .4 20.2 .4-13.6 .4 0 .4 6.1 .4-15.9 .4 10.7 .4 6 .4-6 .4-16 .4 19 .4 5.4 .4-16.4 .4 27 .4-15.7 .4-.9 .4 3.1 .4 4.2 .4-5.6 .4-2.4 .4 3.2 .4-11.5 .4 23.9 .4-27.4 .4 11.3 .4-4.4 .4 6.6 .4-1.6 .4 8.5 .4-8.3 .4-1.4 .4 17.6 .4-23 .4 7.6 .4-2.7 .4 10.1 .4-7.2 .4 9 .4-14.5 .4 7.8 .4 2.1 .4-4.1 .4 2.2 .4-13.9 .4 15.4 .4-5.7 .4 16.1 .4-21 .4-4 .4 26.2 .4-.6 .4-15.9 .4-12.8 .4 9 .4 7.7 .4 1.1 .4 4.2 .4 1.4 .4-4 .4-6 .4 11.5 .4 1.7 .4-9 .4-5.5 .4 8.7 .4-4.6 .4-1.3 .4 1 .4 7.9 .4 2.6 .4-3.6 .4-4.3 .4-5.7 .4-9.1 .4 10.2 .4 5.3 .4-10 .4 9.5 .4-9 .4 8 .4-20.8 .4 22 .4 2.3 .4-5.1 .4 5 .4-12.3 .4 7.9 .4-3.6 .4 3.6 .4-.5 .4 1.4 .4-6.7 .4 2.3 .4-9.9 .4 11.4 .4-16.6 .4 21.1 .4 12 .4-17.9 .4 .4 .4 3.9 .4 2.6 .4 2.4 .4-9.3 .4 1.7 .4 5.4 .4 .1 .4-12.1 .4 12.8 .4 9.1 .4-25.6 .4 10 .4 .9 .4-5.4 .4-2.1 .4 22.3 .4-10.9"/>
<path stroke="#008080" stroke-width="11" stroke-linecap="butt" d="M837.5 400.0L837.5 316.0"/>
<path stroke="#008080" stroke-width="11" stroke-linecap="butt" d="M993.0 430.0L993.0 410.0"/>
<path stroke="#008080" stroke-width="11" stroke-linecap="butt" d="M1510.0 538.0L1510.0 521.0"/>
<path stroke="#0000ff" stroke-width="11" d="M218.5 1023.8l.4-30.6 .4 12.8 .4 .3 .4 9.6 .4-19.6 .4 12.5 .4-.6 .4-.6 .4 4.8 .4 5.6 .4 4.6 .4-3.7 .4 14.9 .4-7.2 .4-16.6 .4 36.8 .4-13.1 .4-1.5 .4 11.2 .4 1.4 .4 .1 .4-6.7 .4 11.3 .4-14.3 .4 28.8 .4-23.2 .4 11 .4 3.4 .4 3.1 .4-3 .4 7.7 .4-25.6 .4 21.3 .4 .5 .4-1.5 .4 18.4 .4-21.3 .4 8.8 .4-16.4 .4 21.2 .4-15.9 .4 1.2 .4 35.3 .4-13.8 .4-5.5 .4 2.2 .4-13.5 .4 4 .4 13.5 .4-21.6 .4 21.3 .4-17 .4 16.7 .4-10.3 .4 25.4 .4-6 .4-12.8 .4-11.5 .4 10.1 .4 6.8 .4-7.7 .4 11.5 .4 6.5 .4-8.6 .4-2.8 .4 10.9 .4-8.9 .4 10.2 .4-9.6 .4 16.9 .4-15.9 .4-6.3 .4 10.3 .4-5.9 .4-2.3 .4 7.3 .4 7.8 .4-24.6 .4 18.4 .4-.6 .4 .3 .4 8.4 .4-17.6 .4 17 .4-7.3 .4 3.2 .4-2.6 .4-.6 .4-1.4 .4 8.2 .4 14.5 .4-8.6 .4-1.4 .4-2.2 .4-8.5 .4 9.4 .4 12.5 .4-28 .4 18 .4 1.8 .4-6 .4 4.5 .4 5.2 .4 7.1 .4-7.5 .4 3.1 .4-10.9 .4 4.3 .4-5.3 .4 1.1 .4-6.2 .4 9.7 .4 6.5 .4-13.3 .4 3.6 .4 3.1 .4-4.9 .4 7.8 .4-5.6 .4-11.8 .4 1.3 .4 14.7 .4-.7 .4 4 .4-7 .4-.3 .4-14.7 .4 24.7 .4-19.1 .4 16.3 .4-18 .4 4 .4 6.9 .4-4.7 .4-2.2 .4 13.3 .4-1.8 .4-2.3 .4-5.9 .4-4 .4 2.9 .4-.3 .4 4.2 .4 6.6 .4-7.7 .4-5.1 .4 1.4 .4 15.7 .4-9.2 .4 .6 .4 .4 .4 2.5 .4-3.7 .4 8.5 .4-3.1 .4-27.1 .4 19.2 .4 21.6 .4-31.2 .4 11.5 .4 7.7 .4-9 .4 10.9 .4-21.5 .4-.1 .4 8.7 .4-4.7 .4-2.9 .4 13.5 .4-2.6 .4-2.3 .4-3.6 .4 5.4 .4-3.3 .4-5.1 .4 10.1 .4-1.3 .4-2.5 .4 4.9 .4-15 .4 7.8 .4-3.3 .4 15.2 .4-6.9 .4 13.1 .4-4.6 .4-16.3 .4-6.2 .4 12.9 .4-6.5 .4 .8 .4-7.7 .4 13.6 .4-3.6 .4 1.5 .4-1 .4-10.3 .4-11.4 .4 16.1 .4-3.3 .4 .6 .4 12.1 .4-9.2 .4 13.2 .4-11.4 .4 3.9 .4-1.8 .4 2.2 .4-17.6 .4 19.4 .4-8.5 .4-9.5 .4 13.1 .4-2.6 .4 7.7 .4-5.1 .4-3.4 .4-17.3 .4 27.7 .4-2 .4-6.4 .4-3.1 .4 6 .4-18.1 .4 12.9 .4-6.2 .4-9.2 .4 11.3 .4-.6 .4 11.1 .4-6.9 .4-22.3 .4-3.6 .4 15.7 .4-1.6 .4-6.8 .4-5 .4 10.4 .4-8.9 .4 3.5 .4 13 .4-6 .4-9.2 .4-3.9 .4 7.6 .4 16.2 .4-20.2 .4 18.9 .4-22.7 .4 4.5 .4 7.3 .4-13.6 .4 6.7 .4-13 .4 17.2 .4 3.8 .4-16.6 .4 6.9 .4-5.9 .4-16.2 .4 41 .4-17.3 .4 1.2 .4-4.5 .4-2.5 .4 19.1 .4-38.4 .4 13 .4-1.7 .4 1.2 .4 7.5 .4-13.6 .4-6.2 .4 1 .4 13.7 .4 3.7 .4-2.1 .4 6.4 .4-20.3 .4 13 .4-3.7 .4-8.9 .4-6.4 .4 14.1 .4-15.6 .4 2.5 .4-7.5 .4 24.4 .4-18.1 .4-5.4 .4 1.2 .4-1 .4 1.8 .4-18.3 .4 3.9 .4 14.8 .4 4.3 .4-21.5 .4 9.6 .4-8 .4-17.9 .4 17.8 .4-8.9 .4 17.9 .4-11.9 .4 .4 .4-15.3 .4 14.6 .4-22.1 .4 20.3 .4 10.4 .4-27.2 .4 19.5 .4 4.5 .4-17.3 .4 12.2 .4-11.4 .4-6.9 .4-10.2 .4 5.7 .4-3.8 .4 26.9 .4-16 .4-3.8 .4-9.1 .4 21.6 .4-21.3 .4 18.6 .4-3.3 .4-7.7 .4-5.8 .4 4.1 .4-9.6 .4 14 .4 7.2 .4-6 .4 .9 .4-13 .4 7.1 .4-9.9 .4 4 .4 8.4 .4 12.7 .4-17.8 .4-.5 .4-14.2 .4 15 .4-8 .4-3.8 .4-.7 .4 11.8 .4-4 .4 7.8 .4-6.8 .4 1.6 .4 10.7 .4-4.9 .4-.3 .4 5.1 .4-9.2 .4-8.9 .4 1.4 .4-5.7 .4 14.1 .4-5.6 .4 6.8 .4 2.4 .4-12.1 .4 7.4 .4 8.1 .4-8.6 .4 6.3 .4-8.1 .4-5.3 .4 5.5 .4-11.9 .4 19.2 .4-8.7 .4 18.1 .4-26.6 .4 14.5 .4 2.6 .4-5.4 .4 6.5 .4-11.5 .4-3 .4-3.1 .4 9.2 .4-2.2 .4 11.4 .4-5.9 .4-2.5 .4-.3 .4-11.6 .4 16.4 .4 8.5 .4-17.5 .4 11.7 .4 10.2 .4-13.5 .4 9.8 .4-5.7 .4 30.3 .4-10.2 .4-1.4 .4-18.4 .4 14.3 .4-7.6 .4 6.1 .4-8.9 .4 8.1 .4-8.7 .4 11.4 .4 15.5 .4-31 .4 1.2 .4 19.1 .4 3.6 .4-11.1 .4 10.3 .4-1 .4 1.9 .4 8.9 .4-19.7 .4 13.7 .4-4 .4-8.3 .4 12.4 .4-17.4 .4-1.4 .4 26 .4-21.2 .4 28.2 .4-6.1 .4-15 .4-3.2 .4-12.9 .4 21.6 .4-15 .4 32 .4-31.7 .4 17.6 .4-24.5 .4 21.1 .4 16.9 .4-17.1 .4-3.3 .4 3.7 .4 8.8 .4 5.4 .4-10.7 .4-17.5 .4 23.5 .4 6.9 .4 13.3 .4-20.5 .4 .3 .4-6.6 .4 13 .4 10.2 .4-26.6 .4 10.9 .4-10.6 .4 3.8 .4 5.2 .4 7 .4-12.6 .4 5.6 .4 16.5 .4-8 .4 2.2 .4-2.6 .4-5.3 .4 6.2 .4 1.3 .4-4.7 .4 10.3 .4-9.5 .4 9 .4-8.1 .4 7.1 .4-13.1 .4 1.4 .4-5.3 .4 23 .4-6.3 .4-2.5 .4 4.3 .4-13.5 .4 9.3 .4-5.4 .4-12.5 .4 15.6 .4-5.3 .4 22.3 .4-20.3 .4 1.7 .4 15.6 .4-9 .4-12.1 .4 15.2 .4-8.8 .4 23.6 .4-25.7 .4 3.4 .4-15.5 .4 16.9 .4 24.4 .4-18.5 .4-7.5 .4 12.1 .4-5.2 .4 2.7 .4 23.6 .4-3.8 .4-3.7 .4 .9 .4-24 .4-9.4 .4 25.4 .4-3 .4-3.1 .4-1.3 .4 8 .4-1.2 .4-2.7 .4 2.4 .4-6.3 .4-1.4 .4 16.6 .4-15 .4 21 .4-12.3 .4-5.2 .4 10 .4-14.7 .4 3 .4-1.2 .4 3.4 .4 6.5 .4 13.1 .4-14.2 .4-14.5 .4 2.4 .4-8.8 .4 23.6 .4 1.6 .4-4.9 .4 .5 .4 1.8 .4-.7 .4 2.2 .4-3.6 .4-10.8 .4 17.9 .4 3.9 .4-26.9 .4 13.2 .4-7.9 .4 15.4 .4-6.9 .4 16 .4-2.5 .4-14 .4 .3 .4-.5 .4 11 .4-13.3 .4 12.9 .4-16.2 .4 22.5 .4-4.7 .4-14.3 .4 3.8 .4 8.7 .4 1.7 .4-24 .4 24.1 .4 12.2 .4-17.2 .4-7.7 .4 23.5 .4-8.3 .4 0 .4 4.2 .4-16.1 .4 5.4 .4-3.7 .4 .4 .4 7.6 .4-6.2 .4 24 .4-9.5 .4 3.3 .4-21.7 .4 13.1 .4 .9 .4 3.1 .4 2.8 .4-10.7 .4-.7 .4 16.8 .4 11.7 .4-1.3 .4-20.4 .4-4.1 .4 8.9 .4 2.7 .4 11.6 .4-17.1 .4-4.2 .4 15.9 .4-15.1 .4-.9 .4 12.4 .4-6 .4-7.2 .4 7.1 .4-1 .4 2 .4-4.2 .4 11.7 .4-7.8 .4-1.9 .4 14.6 .4-16.8 .4 14.8 .4-1.2 .4-7.3 .4 4.7 .4-14.3 .4 15.2 .4-10.7 .4 1.8 .4 9.9 .4-8.2 .4 7.7 .4 2.6 .4 5.7 .4-5.2 .4 5.7 .4-15 .4 3.5 .4 8.8 .4 4.8 .4-6 .4-8.1 .4-4.4 .4 1.2 .4 17.6 .4-17.6 .4 6.5 .4 7.4 .4-1.6 .4-9.5 .4 22.8 .4-15.3 .4 1 .4 4.6 .4-9.4 .4 8.5 .4-7 .4-6.2 .4-.6 .4 11.3 .4-2.4 .4-2.1 .4-2.5 .4 1.7 .4 8.8 .4 2.5 .4-11.3 .4 4.3 .4-17.7 .4 5.9 .4 3.7 .4-1.7 .4 13.4 .4-23.2 .4 21.5 .4 1.7 .4 12.7 .4-22.6 .4 8 .4 8.6 .4-4.6 .4-15.6 .4 4.9 .4-6.7 .4 10.2 .4 5.2 .4 5.6 .4-6.7 .4 2.8 .4 1.4 .4-15.7 .4 12.5 .4 2.5 .4-9.7 .4-6.4 .4 9.2 .4 0 .4 4.5 .4-20.7 .4 11.8 .4 20 .4-6.1 .4-12 .4-1.2 .4 .2 .4-5.9 .4 4.3 .4 3.5 .4-9.7 .4 9.4 .4 2.8 .4-12.9 .4 6.9 .4-9.1 .4 13.2 .4 1.5 .4-6.1 .4 4.9 .4 4 .4 1.1 .4-16.8 .4 8.4 .4-9.3 .4-3.7 .4 24.2 .4-2.2 .4 4.2 .4-4.1 .4-10.6 .4 5.9 .4-6.2 .4 15.8 .4-30.9 .4 22.9 .4-7.9 .4 10.6 .4 4 .4-15.3 .4 16.6 .4-2.3 .4-22.1 .4 28.3 .4-25 .4-1.5 .4 19.1 .4-13.8 .4 7.8 .4-2.2 .4-8.1 .4 21.8 .4-1 .4-11.7 .4 12.5 .4-13.2 .4 2.2 .4-4.6 .4-8.5 .4 8.2 .4-5.1 .4 11.3 .4-2.2 .4-6 .4 15.5 .4-7.6 .4 12.1 .4-18.4 .4 0 .4-2.9 .4 8.1 .4-3.3 .4 1.6 .4 14.3 .4-8 .4-11.8 .4 8.6 .4-5.6 .4-.3 .4 .7 .4 2.4 .4 4.7 .4 3.1 .4-8.1 .4-7 .4 6.7 .4-1.5 .4-.7 .4-7.8 .4 8.9 .4-13.9 .4 25.6 .4-4.4 .4 .1 .4-14 .4 9.8 .4 8.6 .4-12.4 .4-7.1 .4 8 .4-17.9 .4 26.5 .4-4.1 .4-15 .4 17.2 .4 3.6 .4-4.1 .4 .1 .4 7.3 .4-11 .4 9.8 .4-13.3 .4-4.1 .4 3 .4-6 .4 11.9 .4-9.1 .4 8.8 .4-.4 .4 10.9 .4 1.1 .4-19.3 .4 3.1 .4 0 .4-3.8 .4 20.1 .4-4.7 .4-12.1 .4-9.8 .4 6.2 .4 5.5 .4 12.8 .4-23.8 .4 22.7 .4-24 .4 14.8 .4-12.6 .4 6 .4-16.3 .4 24.8 .4-4.7 .4-9 .4-9.1 .4 17.1 .4 .3 .4-11.8 .4 16 .4-5.1 .4-8.5 .4 2.8 .4-13.8 .4 26.4 .4 2.1 .4-9.8 .4-8.9 .4 1 .4 6.8 .4-4.8 .4 9.7 .4-9.7 .4 14.7 .4 2.4 .4-14.9 .4-1.9 .4-13.9 .4 20.9 .4 2.9 .4-11 .4 17.1 .4-14.9 .4-4.3 .4 16.7 .4-3.1 .4-21 .4 11.4 .4-5 .4 8.9 .4 3.3 .4-5.3 .4 5.1 .4 6.2 .4-10.2 .4-7.9 .4 2.4 .4 15.2 .4 7.3 .4-15.7 .4 4.6 .4-9.9 .4 1.9 .4 12.8 .4-12.2 .4 5.7 .4-.4 .4 8.6 .4-7.7 .4-2.4 .4-2.1 .4-1.9 .4 12.9 .4 9.4 .4-31 .4 21.7 .4-16.8 .4 3.1 .4 2.6 .4-1.1 .4 .6 .4-1.9 .4 19.9 .4-27 .4 6.7 .4-1.1 .4 8.1 .4-12.3 .4 10.6 .4 1.1 .4 15.2 .4-10.8 .4-5.9 .4 1.4 .4 14.4 .4-16.2 .4-4.8 .4 .6 .4 2.1 .4 10.4 .4-15.6 .4 3.4 .4 4.6 .4-7.4 .4 13 .4-8.6 .4 7.4 .4 .1 .4 8.1 .4 2 .4-21.6 .4-3.7 .4 1.2 .4 13.6 .4 .4 .4-4.4 .4-.3 .4 13 .4-5.2 .4-5.6 .4 3.3 .4-17.5 .4 22.2 .4 7.3 .4-15.9 .4-4.8 .4 13.8 .4-14.4 .4 4.9 .4 4.2 .4-6.4 .4 7 .4-22 .4-4.3 .4 26.2 .4-1.9 .4-2.7 .4-5.4 .4 3.4 .4 3 .4-13.6 .4 11.3 .4-9 .4 23.5 .4-14.8 .4-1.1 .4 5.7 .4-1 .4-.4 .4-14 .4 6.3 .4 5.7 .4-6 .4-1.3 .4-6.3 .4 6 .4 9.7 .4-22.2 .4-1.8 .4 1 .4-3.3 .4 23.6 .4 4.9 .4-12.1 .4-3.9 .4 10.7 .4-3.1 .4-28.8 .4 18.4 .4 21.2 .4-24.7 .4-3.2 .4 .3 .4 18.4 .4-17.8 .4 6.8 .4 6.1 .4-9.3 .4-2.1 .4-9.8 .4-2.4 .4 19.3 .4-21.4 .4 19.9 .4 .8 .4 1.4 .4-15.6 .4-6.6 .4 7.3 .4 9.7 .4-7.5 .4-1.6 .4-6.3 .4 8.3 .4-26.6 .4 5.8 .4 23.3 .4-10.9 .4 .9 .4-24.8 .4 8.3 .4 2.5 .4 1.6 .4 10.4 .4-17.3 .4 4.9 .4-9.2 .4 3.1 .4 4.1 .4-1 .4 3.9 .4-22.6 .4 17.5 .4-4.7 .4-13.5 .4 18.2 .4-20.7 .4 .9 .4 6.5 .4 6.4 .4-20 .4 15.8 .4-13.1 .4-14.4 .4 11.9 .4-9.7 .4-11.1 .4 2.5 .4 11 .4-12.6 .4-9.7 .4 7.2 .4-27.2 .4 17.2 .4 2.1 .4-33 .4-6.2 .4-3.8 .4 1.4 .4-11.7 .4 2.9 .4-16.7 .4 9.5 .4-1.8 .4-6.6 .4-17.4 .4 11.8 .4-34.1 .4 5.9 .4 2.2 .4 11.9 .4-25.5 .4 7.5 .4-5.3 .4-3.3 .4-5.6 .4-15.5 .4 .1 .4-3.6 .4-4 .4-5.6 .4-7.5 .4-3.7 .4-10 .4 5.8 .4-4 .4-5.2 .4 10 .4-7.2 .4-1.9 .4 6.7 .4 .8 .4 2.4 .4-1.4 .4 5.7 .4-.9 .4 6.6 .4-2.2 .4-3.6 .4 .3 .4 7.8 .4 2.4 .4-9.6 .4 9.7 .4-2.3 .4 2 .4-4.2 .4-.8 .4 2.6 .4-.6 .4 1.9 .4 2.4 .4-.2 .4 8 .4-12.3 .4 2 .4 2.1 .4 2 .4-7.4 .4-2.2 .4 6.9 .4 0 .4 .3 .4-.5 .4-10.1 .4 10.5 .4-5.9 .4 8.9 .4-11.2 .4-8.1 .4 8.4 .4 .9 .4 .3 .4-.9 .4-3.5 .4-5.4 .4 5.8 .4-1.3 .4-2.4 .4 2.3 .4-2.4 .4-8.1 .4 4.7 .4-.1 .4 2.6 .4 8.6 .4-6.5 .4 3.5 .4-10.2 .4 15.7 .4-5.7 .4 6.8 .4-4.5 .4 6.9 .4 13.1 .4-7.7 .4 5.8 .4-9.1 .4 3.6 .4 15.2 .4-2.7 .4 6.6 .4-7.2 .4 5.6 .4 16 .4 10.1 .4-20.3 .4-1.3 .4 11 .4 11.3 .4-6.5 .4 11.1 .4-14.4 .4-8.2 .4-10.3 .4 34.6 .4-6.3 .4-10 .4 13.2 .4-17.5 .4 27.7 .4 1 .4 2.5 .4-18.8 .4 23.7 .4-6.5 .4 10.2 .4-39.2 .4 32.7 .4 5.4 .4-18.5 .4 15.8 .4-9.4 .4 16.9 .4-19.7 .4 4.2 .4-14.1 .4 39.6 .4-34 .4-2 .4 2.4 .4 12.4 .4 .4 .4 5.1 .4 13.9 .4-6.2 .4-28.4 .4 19.9 .4-3.7 .4 11.7 .4-6.9 .4 14.8 .4-13.5 .4 22 .4-33.8 .4 25.5 .4-2.4 .4-18.9 .4-6.5 .4 8.5 .4 12.6 .4 15.4 .4-36 .4 14.3 .4-11.1 .4 24.5 .4-6.9 .4-1 .4 8.8 .4-4.7 .4 13.9 .4-20 .4-3.1 .4 7.5 .4-.2 .4 15.7 .4-18.9 .4-1.2 .4-1.3 .4-.7 .4-13.4 .4 24.6 .4 4.7 .4-3.5 .4-10.4 .4 19.9 .4-2 .4-4.9 .4 4.7 .4-8.2 .4 6.2 .4 1.9 .4-19.7 .4 8.5 .4-2.1 .4 13 .4-33.5 .4 33 .4-3.1 .4-1.6 .4 6.9 .4-21.1 .4 19.8 .4-10.7 .4 1.9 .4 23.1 .4-19.2 .4 16.3 .4-12.1 .4-2.6 .4-.5 .4-11.6 .4 12.9 .4 5.9 .4 14.8 .4-7 .4 1.3 .4-19.3 .4 2.6 .4 13 .4 2.2 .4-17.3 .4 24 .4-18.2 .4 10.6 .4-7.8 .4 14.1 .4 2 .4 2.2 .4-21 .4 12.3 .4 23.9 .4-24.4 .4 5.6 .4-3.3 .4-6.4 .4 25.1 .4-1.1 .4-24.4 .4 13.8 .4 15.5 .4-14.8 .4-3.7 .4 10.5 .4-1.1 .4-21.9 .4 4.9 .4 27 .4-23.1 .4 6.2 .4-6.1 .4 28.5 .4-33.9 .4 15.9 .4-5.7 .4 1.5 .4-9.6 .4 4.9 .4 6.9 .4 5.4 .4-22.4 .4 21.4 .4-10.1 .4 9.3 .4-3.9 .4 3.9 .4-1 .4 8 .4-4.6 .4-17.9 .4-7.4 .4 10.7 .4 19 .4-20.9 .4 7.5 .4 31 .4-23.3 .4 2.1 .4 6.1 .4 3.6 .4-12.1 .4 7.1 .4-22.6 .4 25.6 .4 3.1 .4-24.4 .4 28.7 .4 10.9 .4-47.1 .4 25.3 .4 17.5 .4-7.2 .4-14.5 .4 1.3 .4 2.9 .4 11.6 .4-16 .4-6.2 .4 17.4 .4-9.3 .4 26.5 .4-28.5 .4 14.3 .4-5 .4-12.9 .4 10.6 .4-15.3 .4 25.4 .4-13.8 .4-2.7 .4-3.2 .4 31.8 .4-8.9 .4-15.7 .4 9.2 .4 8.6 .4-.1 .4-5.6 .4-21.7 .4 40.1 .4-18.8 .4 16.3 .4-27.7 .4 22.1 .4 6 .4-1.6 .4-24.6 .4 10.5 .4 19.1 .4-24.5 .4 16 .4-8.8 .4-13.5 .4 25.7 .4 1.7 .4-4.6 .4-3.9 .4 8 .4-31.1 .4 20.3 .4 18.3 .4-12.7 .4 6.2 .4-13.8 .4 6.1 .4-15.7 .4 17.6 .4-2.5 .4-6.8 .4 3.7 .4 1.2 .4 1.3 .4 5.9 .4 2.7 .4-32.9 .4 25.2 .4 9.3 .4-23.6 .4 10.5 .4 26.8 .4-31 .4 17.2 .4-7.5 .4-17.1 .4 12.6 .4-15.9 .4 15.8 .4 13.5 .4-2.3 .4-3.2 .4-8.2 .4 12.7 .4 6.5 .4-4.3 .4 2.8 .4-5.1 .4 .4 .4-13.4 .4 25.1 .4-25.9 .4 2.1 .4 2.3 .4 .1 .4 21.4 .4-15.3 .4-.3 .4 .2 .4 3.2 .4 13.9 .4 2.1 .4-19.4 .4 22.2 .4-11 .4-2.6 .4 10.4 .4-11.7 .4 2.4 .4-1.4 .4-13 .4-.7 .4 3.2 .4 1.2 .4 3.2 .4 .7 .4 16.8 .4-10.7 .4 7.9 .4-4.2 .4-11.8 .4 6 .4-12 .4-2.2 .4 21.3 .4-4.1 .4 1.4 .4 9.1 .4-23.3 .4 12.1 .4-20.8 .4 13.8 .4 14.8 .4-21.3 .4 2.4 .4 10 .4 20 .4-9.1 .4-9.5 .4 8.1 .4-5.3 .4-4.9 .4-1.2 .4 9.8 .4-5.6 .4 8.8 .4-13.1 .4 13.8 .4-12.4 .4 16 .4-1.9 .4-16.9 .4 29.9 .4-19.3 .4-10.4 .4-5.7 .4 13.4 .4 .3 .4-9 .4-3.4 .4 6.2 .4-6 .4 4.1 .4-2.4 .4 13.1 .4-29.3 .4 44.9 .4-24.6 .4 4 .4-12.9 .4 24.1 .4-12.4 .4-2.1 .4-5.7 .4 15.1 .4-1.2 .4-11.1 .4 22.5 .4-25.2 .4 21 .4-10.2 .4-15.4 .4 11.1 .4 8.1 .4-9.4 .4 5.1 .4-1.7 .4 5.2 .4-10.6 .4 25.1 .4-15 .4 11.6 .4-17 .4 4.6 .4-11.5 .4 10.3 .4 14.8 .4-11.8 .4-10.1 .4 1.9 .4 11.4 .4-7.3 .4 22.1 .4-17.8 .4-1.8 .4 7.1 .4 9.2 .4-31 .4 8.2 .4 .4 .4-12.5 .4 18.1 .4 1 .4 9.5 .4-1.9 .4 .4 .4-.3 .4-10 .4 29.4 .4-10.2 .4-17.6 .4-5.6 .4 14 .4 5.1 .4-5.1 .4 3 .4 2.1 .4-5.5 .4-13.3 .4 4.3 .4-12.6 .4 26.6 .4-14.4 .4 7 .4 19.1 .4-28.7 .4 7.9 .4-8.2 .4-10.1 .4 27.7 .4-10.7 .4 .3 .4 8.1 .4-9.7 .4 8.7 .4 5.6 .4-19.3 .4 11 .4-3 .4 8.9 .4 13.6 .4-34 .4 24.8 .4-14.2 .4 5.3 .4-2.9 .4-5.3 .4-11.1 .4 12 .4-8.9 .4 22.9 .4-10.1 .4-10.3 .4 1.8 .4 14.4 .4-25.1 .4 15.6 .4-.6 .4-10.5 .4 19.1 .4-14.4 .4 14.2 .4-8.6 .4-8.2 .4 5 .4 10.9 .4-19.2 .4 1.1 .4 7.1 .4 6.4 .4 .5 .4-15.7 .4-2.2 .4 10.7 .4-1.3 .4 5 .4-18 .4 10.2 .4-6.1 .4 26.7 .4-36.1 .4 11.2 .4 3.9 .4-12.1 .4 12.8 .4-3 .4-7.9 .4 10.7 .4 17.7 .4-11.6 .4 12.1 .4-.8 .4-11.1 .4-4.2 .4-18.7 .4 1.6 .4 22.3 .4-1.3 .4 1 .4-10 .4 5.8 .4-7.6 .4 19.1 .4-7.4 .4-20.5 .4 14.2 .4 17.9 .4-22.1 .4-.4 .4 1.6 .4 4.2 .4 6.5 .4-2.3 .4 3.4 .4-7.1 .4 12.3 .4 7.6 .4-22.1 .4 11.5 .4 .5 .4-1.1 .4-1.8 .4 5.2 .4-6.4 .4-3.9 .4-1.1 .4 14.8 .4-12 .4-12.2 .4 13.1 .4-.3 .4 13.6 .4 1.6 .4-20.1 .4 22.6 .4-8.4 .4 11.8 .4-19.7 .4 11.5 .4 .9 .4 8.3 .4-27.2 .4 12.2 .4 1.7 .4-3 .4-6.2 .4 6.2 .4 3.3 .4 18 .4-17.8 .4 9.8 .4-14.8 .4 7.2 .4-2.3 .4 1.3 .4-14.4 .4 13.9 .4 24.8 .4-24.4 .4-12.2 .4 34.5 .4-17.4 .4-.9 .4-17.8 .4 12 .4 .7 .4 .9 .4-7.9 .4 15.8 .4-18.6 .4 23.5 .4-10.9 .4-3.8 .4-10.5 .4 18.1 .4 .3 .4-17.3 .4 29.9 .4-18 .4-12.1 .4 26.1 .4-21.4 .4 1.6 .4-4.9 .4 4.6 .4 6.4 .4-7.5 .4 12.9 .4-12.2 .4 8.8 .4-20.1 .4 16.2 .4 4.5 .4 6.7 .4-9.1 .4 4.6 .4 2.3 .4-11.3 .4 13.5 .4-2.2 .4-7.7 .4-6.3 .4 23.6 .4-1.5 .4-8.2 .4 8.6 .4 3.6 .4-14.7 .4 6.9 .4 .1 .4-.6 .4-5.4 .4-3 .4 11.6 .4-4.9 .4 13.4 .4-10.8 .4-3.3 .4-12.3 .4 10.7 .4 3.8 .4-3.7 .4-5.3 .4-16.9 .4 15.4 .4 9.7 .4 13.9 .4-25.5 .4 15.5 .4-16.7 .4 20.8 .4-10.7 .4 2.2 .4 3.4 .4-9.4 .4 0 .4 15.4 .4-22.2 .4 4.5 .4 16 .4-.5 .4-14.2 .4 .5 .4 8.2 .4 16.4 .4-3.6 .4-16.5 .4-2.3 .4 4.3 .4-15.4 .4 18.9 .4-6.3 .4 13.6 .4-17.2 .4 10.5 .4-8.6 .4 .7 .4 21.5 .4-24.7 .4 7.4 .4 4.6 .4 14.1 .4-14.7 .4-6.8 .4 6.5 .4 13.7 .4-10.9 .4 1 .4 14.8 .4-29 .4 18.9 .4-18.4 .4 19.4 .4-6.6 .4 1.1 .4-3.4 .4 0 .4-26.2 .4 12.5 .4 30.9 .4-18.7 .4-2.1 .4 6.8 .4 3.3 .4-7 .4 7.9 .4-3.8 .4-11.3 .4 7.1 .4 7.9 .4-17.8 .4 8.8 .4-7.4 .4 4.4 .4-11.8 .4 15.4 .4-6.9 .4 16 .4-13.3 .4 22.2 .4-8.4 .4-17.4 .4 26 .4-18.1 .4 2.6 .4-15.5 .4 11 .4-5.3 .4-5.8 .4 1.7 .4 22.7 .4-17.6 .4 4.8 .4-7.2 .4 3.2 .4-.9 .4 3.8 .4 1.4 .4 7.6 .4-8.6 .4-.7 .4-6.6 .4 13.2 .4-1.5 .4-6.9 .4-13.9 .4 15.7 .4-18.5 .4 33 .4-13.3 .4 11.3 .4-13.8 .4 9.9 .4 7.6 .4-7.9 .4-17.5 .4-4.7 .4 8.9 .4 6.8 .4-12.8 .4-7 .4 11.8 .4 4.3 .4-16 .4 15.8 .4 8.3 .4-17.9 .4 11.9 .4-2.4 .4 3.3 .4 .1 .4-11.7 .4 13.9 .4 14.1 .4-15.8 .4-16.9 .4 10.2 .4 20.4 .4-19.6 .4 3 .4-13.6 .4-2.7 .4 13.4 .4 3.9 .4-9.8 .4 9.5 .4-7.2 .4-16.3 .4 16.7 .4 8.2 .4 15.8 .4-35.5 .4 17 .4 .3 .4 .7 .4-2.6 .4 13.2 .4-3.2 .4-17.4 .4-1.4 .4 8.2 .4-13.8 .4 15.3 .4 6.2 .4-12.3 .4 2.6 .4-3.5 .4 8 .4 3.5 .4-13.9 .4 18.5 .4-17.6 .4 10 .4 2.2 .4-11.5 .4 6.2 .4-6.7 .4 19.8 .4-10.6 .4-12.3 .4 21.3 .4-10.4 .4 21.3 .4-18.5 .4 7.6 .4-16.3 .4 8.4 .4 1.2 .4 9.9 .4 4.4 .4-11.2 .4-2 .4-6.9 .4 2.5 .4 5.2 .4 11.4 .4 7.1 .4-18.7 .4-3.7 .4-2.4 .4 17 .4 5.5 .4-6.5 .4 9.4 .4-14.4 .4-4 .4 6 .4-12.8 .4 9.4 .4-3 .4-11.8 .4 18.1 .4 5.2 .4 7.3 .4-13.3 .4 12.3 .4-17.7 .4 18.9 .4-17.3 .4 5.7 .4-10.7 .4 28.2 .4-19 .4 14.4 .4-10.8 .4 3.7 .4 4.6 .4-16.9 .4 14.9 .4-6.7 .4-5.3 .4 19.1 .4-10.9 .4 13.7 .4-10.2 .4-4 .4-1.6 .4 5.8 .4-5.3 .4 14.6 .4-13.5 .4 18.1 .4-15.4 .4 3.1 .4-4.7 .4 26.8 .4-38.7 .4 26.2 .4 2.9 .4 .7 .4 6.2 .4-2.3 .4-27.8 .4 16.4 .4-9.6 .4 7.1 .4 .2 .4 11.7 .4-1.6 .4-7.1 .4-6.8 .4 10.6 .4-2.1 .4-4.1 .4 12.1 .4 4.2 .4-18.7 .4 19.1 .4-20.9 .4 5.9 .4-9.5 .4 17.4 .4 12.5 .4-25.7 .4 5.3 .4-3.1 .4 10.2 .4 8.9 .4-21.7 .4 19.7 .4 10.6 .4-19.2 .4 2.5 .4 5.6 .4-21.8 .4 9.3 .4 12.6 .4-4.2 .4 6.8 .4-14.7 .4 7.4 .4-5 .4-3 .4 16.1 .4 9.2 .4-22.4 .4 11.5 .4 2.3 .4 6.5 .4-17.3 .4-7.1 .4 17.6 .4-10.6 .4-4 .4 8.3 .4 2.8 .4 1.9 .4-3 .4-15.8 .4-.7 .4 22.8 .4 7.9 .4-7 .4-13.3 .4 17.5 .4-16.1 .4 19.7 .4-8.4 .4 4.9 .4-14.2 .4 12.5 .4-22.4 .4 28.4 .4-21.2 .4 10.3 .4 8.5 .4 .4 .4-6.5 .4-14.2 .4 24.8 .4-14.2 .4-8.8 .4 24.8 .4 9.1 .4-24.3 .4 12.8 .4-1.1 .4-4.7 .4 2.2 .4-2.7 .4-20 .4 11.1 .4 2.3 .4-3.1 .4 8.1 .4-1.1 .4 6.4 .4 13.3 .4-25.1 .4 13 .4 8.7 .4-15.3 .4-13.5 .4 13.5 .4 10.9 .4-5.1 .4-17.4 .4 14.9 .4-3.8 .4-2.8 .4 11.3 .4-28.5 .4 34.1 .4 3.2 .4-19 .4-4.9 .4-4.1 .4 15.8 .4-8.2 .4-12.3 .4-.3 .4 22.2 .4 3.4 .4-19.3 .4 23.7 .4-16.8 .4 5.6 .4-9.6 .4 17.4 .4-10.6 .4 1.5 .4 3.4 .4-9.1 .4 18.1 .4-9 .4-8.1 .4-4.6 .4 11.8 .4-.5 .4-2.5 .4-8.3 .4 21 .4-10.1 .4 7.7 .4-3.5 .4-6.2 .4-4.3 .4-5.4 .4 18.9 .4-9.3 .4 13.6 .4 .8 .4-7.8 .4-3.7 .4 8.3 .4 5.8 .4-15.2 .4 6.6 .4 7.9 .4-21.8 .4 14 .4-6.9 .4 6.2 .4 3.2 .4-9 .4 4.9 .4 10.6 .4-7.8 .4-1.5 .4-3.6 .4-.2 .4 8.3 .4-10.7 .4-1.7 .4-1.2 .4 2 .4 4.3 .4-1.7 .4-1.4 .4 21 .4-28 .4 10.2 .4 4.4 .4-5.7 .4 .9 .4-12 .4 11.9 .4 5.6 .4-13.7 .4 10.6 .4 3.9 .4-6.7 .4 .7 .4-14.1 .4 22.6 .4 9.6 .4-8.7 .4 3.5 .4-35.8 .4 15.2 .4 1.9 .4 4.7 .4-5.3 .4-11 .4 13.6 .4-11.8 .4 10.8 .4 10.5 .4 8 .4-10.7 .4 1.7 .4-21.9 .4 5.4 .4 15.4 .4-.3 .4-3.8 .4-7.2 .4 2.1 .4 7.4 .4 11.6 .4-15.8 .4-18.9 .4 38.4 .4-13.2 .4-10.6 .4 16.7 .4-5.9 .4-10.7 .4-.8 .4 11.8 .4-6.8 .4 11.1 .4-17.2 .4-1.4 .4-5.3 .4 8.9 .4 19.3 .4-36.9 .4 22.2 .4-13.7 .4 1.2 .4 24.6 .4-34.6 .4 12.5 .4-16 .4 13.3 .4 9.9 .4-4.9 .4 8.3 .4-2.7 .4-11.3 .4 4.3 .4 3.2 .4-8.1 .4-16.6 .4 14.8 .4 6.1 .4-1.6 .4-18.9 .4 8 .4 13.1 .4-13.8 .4 14.6 .4-19.1 .4-7.2 .4 4.8 .4 30.2 .4-28 .4 .1 .4 9.1 .4-10.1 .4-14.4 .4 12.1 .4 13.8 .4-25.5 .4 1.7 .4 9.4 .4 2.7 .4-8.9 .4 21.7 .4-20.5 .4-9.8 .4 12.3 .4-.5 .4-2.9 .4-3.3 .4 20.6 .4-6 .4-10.4 .4-7.2 .4 7.9 .4-.3 .4-5.7 .4-12.4 .4 18.6 .4-6.1 .4-17.5 .4 17.6 .4 2.1 .4-4.1 .4-10.1 .4 .2 .4-5 .4 1.7 .4 14.5 .4-6.3 .4-17.1 .4 14.1 .4 .5 .4 .7 .4-5.7 .4-7.4 .4 1.7 .4-2.4 .4-.9 .4-3.9 .4 6.1 .4-.1 .4-4.8 .4 11.7 .4-12 .4 6 .4 5.8 .4-11 .4 10.8 .4-7 .4 7.7 .4-4.9 .4-8.3 .4 1.8 .4-3.2 .4 5.2 .4 .4 .4 5.5 .4-10.7 .4 2.1 .4 8.4 .4 0 .4 12.7 .4-10.3 .4-2.7 .4 13 .4-19.3 .4 20.4 .4 8 .4 .6 .4-14.4 .4 25.7 .4-11.4 .4 1.8 .4 6.3 .4 4.5 .4-20.9 .4 9.8 .4-.8 .4 2.5 .4 5.3 .4 2.5 .4-6.4 .4 9.2 .4 5.2 .4-8.7 .4-16.3 .4-3.8 .4 15.5 .4 2.4 .4 1.2 .4 2.7 .4-.8 .4 13.4 .4-11.7 .4-3.4 .4 .5 .4 10.9 .4-11.3 .4 4.4 .4 2 .4-5.8 .4-6.5 .4 3.7 .4 2.1 .4 1.1 .4 6.1 .4 8.1 .4-6.9 .4-6.9 .4 22.9 .4-10.5 .4-17.2 .4 18 .4-10.5 .4 9.4 .4-.1 .4 7.8 .4-17.6 .4 17.3 .4 8 .4-20.5 .4 19.2 .4-1.3 .4-1.3 .4 11.5 .4-19.1 .4 3 .4 7.8 .4 2.6 .4-4.1 .4 3.1 .4-4.4 .4 6 .4-6.8 .4 6.8 .4-7.1 .4 2.2 .4-9.2 .4 8.2 .4 6 .4-5 .4 7 .4 9.5 .4-10.3 .4-4.3 .4 3.9 .4-12.6 .4 23.9 .4 5.4 .4-21.4 .4 31.2 .4-28.2 .4 15.4 .4-5.6 .4 13.1 .4-4.2 .4 1 .4 3 .4-9 .4 3.7 .4-12.3 .4 23.5 .4-14.8 .4 5.7 .4-3.5 .4-6.9 .4-1.4 .4 4.1 .4 2.3 .4-6.1 .4 10.1 .4 4 .4-.6 .4-7.5 .4 5 .4 11.1 .4-2.9 .4-9.3 .4-.4 .4 10.1 .4-23.1 .4 22.1 .4-13.3 .4 4.5 .4 2.2 .4 9.8 .4-19.9 .4 18.2 .4 7.9 .4-19.8 .4 12.4 .4 14.5 .4-19.9 .4 9.2 .4-9.9 .4 4.5 .4-19.2 .4 17.3 .4 17.4 .4-1 .4-18.5 .4 8.5 .4-6.3 .4 2.9 .4-5.5 .4 18.4 .4-14.9 .4 16.3 .4-14.4 .4 15.7 .4-14.3 .4-7.7 .4 5 .4 7 .4 6.4 .4-1.4 .4-13.5 .4 20.9 .4-9.4 .4 0 .4-6.7 .4 13.6 .4-8.8 .4-9.6 .4 11 .4 3.5 .4-4.6 .4-1.1 .4 6 .4-12.4 .4 17.3 .4-11 .4-5.6 .4 13.5 .4 9.2 .4-2.2 .4-18.5 .4 3.4 .4 12.2 .4-2.7 .4 1.5 .4 1.7 .4-18 .4 24.7 .4-21 .4 11.6 .4-8.5 .4 10.7 .4 6.7 .4-5.3 .4-9.6 .4 5.6 .4-.2 .4-1.4 .4 8.6 .4-13 .4 11 .4-12 .4 13.5 .4 .7 .4-4.2 .4 7.5 .4 2.2 .4-10.5 .4 2.2 .4-11.7 .4 2.8 .4 15.8 .4-24.1 .4 27.5 .4-5.3 .4-10.9 .4 6.6 .4-6.9 .4 15.3 .4-14.5 .4 15.6 .4-10.4 .4-7.6 .4 15.3 .4-2.1 .4-.3 .4 4.5 .4-12.2 .4-7.3 .4 10.7 .4 3.7 .4-.1 .4-8.2 .4 9.8 .4-12.8 .4 11 .4 3.7 .4-2.1 .4 2 .4-15.8 .4 9.7 .4 .1 .4 .1 .4-.8 .4 4.3 .4 4.1 .4 1.5 .4-7.1 .4-.6 .4 4.5 .4-14.2 .4 17.7 .4-10.4 .4 10.7 .4-3 .4-.3 .4 7.9 .4-1.7 .4-3.8 .4-11.3 .4 .2 .4 3.4 .4 1.4 .4-2.7 .4-1.9 .4 16.4 .4-22.6 .4 31.5 .4-18.1 .4 .2 .4-14.4 .4 15.9 .4 2.2 .4 3.7 .4-20.9 .4 8.9 .4 16.8 .4-10.3 .4 8.9 .4-4.2 .4 4 .4-13.2 .4 9.7 .4-4.8 .4-15.9 .4 17.9 .4-7.6 .4 7.3 .4-2.4 .4-11.4 .4 21.8 .4-10.9 .4 2.8 .4-16.3 .4 15.5 .4 1.2 .4 2.5 .4-13.3 .4 18.7 .4-19.5 .4 14.3 .4 0 .4 1.5 .4-12.7 .4 11 .4-18.6 .4 20.7 .4-4.8 .4 4.2 .4-2.2 .4-14.4 .4 22.6 .4-8.5 .4 6.6 .4-23.9 .4 23.9 .4-11.1 .4-3.2 .4 11.5 .4-1.7 .4 13.1 .4-.2 .4-16.7 .4 5.7 .4-.1 .4-3.1 .4-7.6 .4 2.3 .4-5 .4 4.4 .4 9.2 .4 5.6 .4-25.5 .4 6.5 .4 6.2 .4 6.9 .4-.7 .4 9.4 .4-8.9 .4-7.5 .4 13.1 .4-21.9 .4 12.4 .4 4.6 .4 2.7 .4-7.2 .4 9.7 .4-7.4 .4-7.2 .4 7.8 .4 6 .4-2.9 .4 4.1 .4-2.6 .4 3.1 .4-.9 .4-21.6 .4 11.7 .4 7.9 .4-12.9 .4 10.9 .4-8.7 .4 10.6 .4-12.8 .4 16 .4-19.4 .4 5.3 .4-6 .4 29.7 .4-14.9 .4-9.7 .4 9.1 .4 0 .4 5.5 .4-12.4 .4 4 .4 8.7 .4-6.1 .4 11.5 .4 5.8 .4-8.1 .4-3.3 .4-4 .4-19.7 .4 16.5 .4-10.2 .4 .3 .4 .9 .4 14.7 .4-11.5 .4 15.9 .4-10.9 .4-3 .4 8.1 .4-9.6 .4 .2 .4 3.3 .4 10.3 .4-19.7 .4 19.4 .4-5.1 .4-.1 .4-10.7 .4 8.6 .4 7.7 .4-6 .4 1.7 .4 .2 .4-3.2 .4-1.6 .4 3.6 .4 5.6 .4-2.5 .4-16.4 .4 2.7 .4 7.5 .4 4 .4-11.3 .4 9.7 .4-9 .4 18.6 .4-.1 .4-9.1 .4 6.8 .4-12.6 .4-3.6 .4 5.6 .4 3.5 .4-4.5 .4 3.6 .4-8.4 .4 5.5 .4 7.8 .4-3.2 .4-8.2 .4 7.2 .4 3.7 .4-7.5 .4 3.5 .4-.9 .4 6 .4-4 .4 4.6 .4-6.3 .4 3.5 .4-7.4 .4-.1 .4-5.9 .4 11.8 .4 3.2 .4 .8 .4-6.8 .4 1.9 .4-.7 .4-8.7 .4 8.3 .4-.3 .4 2.2 .4-7.6 .4 21.4 .4-11.8 .4-7.4 .4 9.4 .4-6.8 .4 2.6 .4-7.4 .4 10.7 .4-7.8 .4 0 .4 3.1 .4-4.7 .4 10.4 .4-10.3 .4 8.4 .4-8.2 .4-6.8 .4 10.8 .4-1.2 .4 1.2 .4-6.2 .4-5.1 .4 15.1 .4 1.7 .4-9.8 .4 1.1 .4-9.7 .4 12.2 .4-10.1 .4 9.4 .4 6.8 .4-11.7 .4 0 .4-3.8 .4 2.4 .4-1.9 .4 11.6 .4-10.2 .4 9.5 .4 1.2 .4-6.9 .4-.1 .4 .7 .4-3.5 .4 15.8 .4-23.3 .4 10.5 .4 9.6 .4-15 .4 19 .4-17.9 .4 7.1 .4 6.9 .4 .3 .4-8.6 .4 7.9 .4-16 .4 13.6 .4-13.1 .4 6.9 .4-6 .4 4.5 .4 3.6 .4 5.3 .4 .8 .4 .6 .4-2.3 .4-8.8 .4 15 .4-11.6 .4-2.4 .4-8.9 .4 4.5 .4 3.3 .4 1.9 .4-11.5 .4 11.2 .4-4.2 .4 3.6 .4-.9 .4 1.1 .4 3.3 .4 2.9 .4-12.5 .4 7.6 .4-1.6 .4 17.5 .4-13.2 .4-.8 .4-2.6 .4-6.1 .4 15.1 .4-19.4 .4 .5 .4 9.9 .4-8.4 .4 16.8 .4 1.7 .4-11.5 .4-9 .4 22.5 .4 .3 .4-11.5 .4 4.5 .4-6.4 .4-.6 .4-.4 .4-10.9 .4 23.9 .4-6.4 .4-1.5 .4-.1 .4 1.2 .4-.6 .4 14.7 .4-24.1 .4 1.2 .4 9 .4-13.3 .4 16.2 .4-7.4 .4-14.1 .4 12.1 .4-2.8 .4 20.8 .4-20.5 .4 11 .4-8.2 .4 5 .4-8.7 .4 15.5 .4-3.5 .4-12.7 .4 16.2 .4-5.4 .4-9.1 .4-2.3 .4 7.9 .4 2.7 .4-7.8 .4 4.4 .4 7.3 .4-18.8 .4 23.5 .4-6.2 .4-11.9 .4 9.4 .4-15.9 .4 17.4 .4 10.4 .4-4.7 .4-2.8 .4-10.2 .4 16.3 .4-14.6 .4-1.5 .4-4.4 .4 6 .4-7.1 .4 10.4 .4-6.3 .4 .1 .4 7.6 .4 8.5 .4-11 .4-4.1 .4 .8 .4 7.7 .4-14.9 .4 11.4 .4-10.2 .4 5.9 .4 13.3 .4-10.1 .4 9.1 .4-5.4 .4-11 .4 16.3 .4-18.5 .4 3.2 .4 8.5 .4-3 .4 9.2 .4 3.6 .4-4.6 .4-6.7 .4 2.8 .4 1.4 .4 .8 .4-9.8 .4 13.4 .4-11.1 .4 6.8 .4-12.5 .4 9.6 .4-8.1 .4 6.3 .4-17.1 .4 11.9 .4-1.1 .4 15.5 .4-18.7 .4 14.8 .4-14.7 .4 17.8 .4 3.4 .4-11.7 .4 .6 .4-2.3 .4-1.9 .4-5.7 .4 16.6 .4 3.5 .4-3.2 .4-21.1 .4 10.4 .4 6.2 .4-2 .4 .8 .4-18.7 .4 17.3 .4-5.5 .4 12.1 .4 2 .4 .7 .4-12.4 .4 8.1 .4-.3 .4-14.2 .4 0 .4 4.9 .4 12.4 .4 1 .4-17.1 .4 4.4 .4 .9 .4 10.4 .4-.4 .4-2.2 .4-13.3 .4 10.4 .4-11.1 .4 10.1 .4-18.1 .4 10.6 .4 12.5 .4 3.1 .4-9.1 .4-11.9 .4 14.8 .4 2.3 .4-7.7 .4-6.8 .4 3.7 .4 17.4 .4-16.9 .4 7 .4-6.8 .4 5.7 .4-1.6 .4-17.2 .4 15.9 .4-7.6 .4 23.1 .4-4.4 .4-.7 .4-19 .4 9.1 .4-2.5 .4-.7 .4 10.7 .4-11.6 .4 .9 .4 8.9 .4-11.8 .4 3 .4-12.4 .4 14.3 .4 4.7 .4-8 .4 1.2 .4 3.5 .4-1.7 .4 2.2 .4-16.3 .4 7.2 .4 11.2 .4-11 .4 2.7 .4-1.2 .4 9.6 .4-7 .4 11.7 .4-14.5 .4 1.9 .4 10.7 .4-3 .4-21.2 .4 15.5 .4-3.6 .4-7.8 .4 8.9 .4 10 .4-21.9 .4 13.9 .4-3.2 .4 18.5 .4-.2 .4-24.7 .4 2.7 .4 6.5 .4-15 .4 15.5 .4-4.9 .4-.5 .4 3.8 .4 15 .4-21 .4 2 .4-10.9 .4 5.7 .4 8.4 .4-5.1 .4 1 .4-2.6 .4-2.5 .4-1.2 .4 11.4 .4-3.9 .4-10.6 .4 15.6 .4 .3 .4-6.3 .4-1.3 .4 12.9 .4-20.4 .4 12.3 .4 4.5 .4-16.9 .4 3.6 .4 9.3 .4-6.4 .4-5.5 .4 5 .4-2.8 .4 6.7 .4-4.5 .4 8.1 .4-9.5 .4 4.9 .4 3.2 .4 3.5 .4-12.7 .4 4 .4-.5 .4 13.3 .4-4.9 .4-8.1 .4 4.4 .4 1.1 .4-2.5 .4 11.6 .4-22.6 .4 26.8 .4-3.7 .4-4.4 .4-9 .4-9.8 .4 17.5 .4 6.9 .4-7.6 .4 5 .4-9.5 .4 6.7 .4-5.6 .4-4.8 .4-6.5 .4 4.8 .4 7.9 .4 .5 .4-1.9 .4-2.2 .4 3.8 .4-1.8 .4-.5 .4-6.1 .4 4.5 .4-2.9 .4-5.2 .4 7.5 .4-10.9 .4 6.9 .4-9.4 .4 4.8 .4 15.5 .4 5.3 .4-10.5 .4-6.4 .4-13.2 .4 13.9 .4 6.2 .4-4 .4-4 .4 9.4 .4-9.1 .4 6.5 .4-3.9 .4-.8 .4 16.2 .4-2.2 .4-4.9 .4-12.6 .4 13.4 .4-3.3 .4 2.7 .4 3.7 .4-16.3 .4 10.6 .4-.1 .4 1.9 .4-.5 .4-4.7 .4 10.7 .4-15 .4 22.7 .4-8.3 .4-3.3 .4-12.8 .4-.1 .4-.7 .4 11.7 .4 2.1 .4 1.5 .4-3.7 .4-2.1 .4-14.2 .4 11.5 .4 8.4 .4-6.2 .4 10.4 .4-8.2 .4 9.3 .4 .7 .4-27.5 .4 13.9 .4 14.1 .4 0 .4-10.4 .4 2.7 .4 4.9 .4 3.8 .4-.4 .4-15.8 .4 1.9 .4-2.1 .4 4 .4 9 .4-2.9 .4-1.8 .4-1.1 .4 15.4 .4-10.9 .4-7.9 .4 6.9 .4-4.9 .4-.6 .4-1.1 .4-14.8 .4 8.5 .4 8.5 .4-9.8 .4 3.6 .4-4.1 .4-3.6 .4 15.6 .4-2.4 .4-9.2 .4 12.2 .4 11.6 .4-10.1 .4-3.2 .4-9.5 .4 14 .4 1 .4-16.8 .4 8.9 .4 10.6 .4-7.8 .4-17.3 .4 18.7 .4 0 .4 .3 .4-2.7 .4 7.4 .4-2.4 .4 12.5 .4-15 .4 1.8 .4-2.3 .4-7.6 .4 7.1 .4 0 .4-14.3 .4 31.1 .4-14.7 .4 4.1 .4-3.4 .4-2.7 .4 4.2 .4 6.9 .4-5.2 .4-9 .4 8.7 .4-.3 .4-10 .4 6.7 .4 .9 .4-4.8 .4 3.6 .4-5.5 .4-2.3 .4 2.5 .4-3.6 .4 24.8 .4-9.8 .4-8.2 .4-9.4 .4 16.1 .4 1.3 .4-18.9 .4 8.7 .4 12.1 .4-5.9 .4 8.4 .4-16.3 .4 1.5 .4-1.5 .4-3.5 .4-.4 .4 8.3 .4 15 .4-16 .4 3.1 .4-17.9 .4 18 .4-4.3 .4-3.6 .4-6.9 .4 21.1 .4-1.8 .4-10.2 .4-2.7 .4 6.2 .4-7.3 .4-6.5 .4 6.4 .4 18.2 .4-22.2 .4 11 .4-1.4 .4-8.7 .4 18.6 .4 7.9 .4-11.8 .4-3.2 .4 6.7 .4-1.3 .4-24.7 .4 22.9 .4-3.6 .4 1.2 .4 3.5 .4-5.7 .4 2.2 .4-8.8 .4 .3 .4 5.2 .4-1.7 .4 13.7 .4-2.1 .4-9.1 .4 5.8 .4-8 .4-8 .4 10.9 .4-1.8 .4 5.7 .4-4.2 .4-.7 .4 1.4 .4 7.1 .4-6.1 .4-1.1 .4 8.1 .4-18.2 .4-8.1 .4 14.6 .4 8.1 .4-15.5 .4 2.7 .4 16.3 .4-12.3 .4 9.2 .4-5.3 .4 .2 .4 3.3 .4-15.3 .4 15.8 .4-10.2 .4 3.3 .4-6.2 .4 8.2 .4 8.7 .4 2.5 .4-1.7 .4-9 .4-1.4 .4-1.1 .4-7.6 .4 28.6 .4-10.6 .4 1 .4-8.7 .4 .1 .4 .9 .4 .6 .4-12.5 .4 12 .4 2 .4-13 .4 17.7 .4-11.4 .4 12.8 .4-10.4 .4-2.4 .4 .6 .4 1.6 .4 4.5 .4-10.2 .4 13.7 .4-10.6 .4-1.7 .4 10.7 .4-16.1 .4 16.1 .4-4.9 .4 1.6 .4-3.6 .4-.9 .4 7 .4 1.6 .4-10.4 .4 5.9 .4 4.4 .4-8.4 .4 8.1 .4-7.9 .4 16.5 .4-12.3 .4-2.8 .4 2.6 .4-10.2 .4 .7 .4-.4 .4 15.1 .4-.5 .4-6 .4-15.1 .4 .8 .4 11.1 .4 16.5 .4-4.1 .4-2.9 .4-17.5 .4 9.1 .4-8.6 .4 9.7 .4 12.7 .4-2.6 .4-19.4 .4 8.8 .4 2.6 .4-9 .4 15.9 .4-16 .4 8.5 .4 3.2 .4-5.4 .4-12.8 .4 12 .4 8.6 .4-13.2 .4-7.7 .4 13.4 .4 .3 .4-6.2 .4 8.2 .4 3.1 .4 6.6 .4-16.4 .4 3.8 .4 .3 .4 .5 .4 7.8 .4-9 .4-4.1 .4 20.3 .4-30.4 .4 7.5 .4 13 .4-14 .4 22.1 .4-13.1 .4 10.9 .4-4.9 .4-12.2 .4 9.8 .4 16.7 .4-20.3 .4 .1 .4-10.4 .4 20.8 .4-7.6 .4-5.2 .4 6.2 .4 .5 .4-2.3 .4 12.4 .4-29.2 .4 16.8 .4 2.3 .4-4.3 .4 4.4 .4 6.9 .4-10.8 .4 6.8 .4 6.2 .4-19.3 .4 8.1 .4 5.2 .4 13.5 .4-7.2"/>
<path stroke="#0000ff" stroke-width="11" stroke-linecap="butt" d="M834.0 1005.0L834.0 993.0"/>
<path stroke="#ff0000" stroke-width="11.5" d="M219 1703.6l1-.4 1 1 1-1.3 1 .9 1-.4 1-.7 1 .8 1-1 1 .7 1-.8 1 0 1 .6 1 .7 1-1.5 1 .2 1 .7 1 .6 1-.8 1-.5 1 1.1 1-1.9 1 1.5 1-1.4 1-.4 1-.2 1 .2 1 .8 1-1.4 1 .6 1 0 1-.7 1 .2 1-1.2 1-.1 1 .1 1 .8 1-.7 1-.4 1 .4 1-.5 1-.4 1 .8 1-.4 1-1 1 .5 1-.3 1 .5 1-.6 1-1.1 1 1 1-2.3 1-.1 1-.3 1-2.6 1-1.3 1-3.5 1-2.3 1-4.2 1-6 1-6.1 1-8.8 1-7.9 1-9.4 1-9.4 1-9.3 1-7.2 1-6.4 1-5.4 1-1.9 1-.9 1 4.1 1 4.9 1 7.4 1 7.8 1 7.7 1 9.2 1 9.2 1 6.6 1 7.9 1 5.3 1 4.6 1 3.7 1 4.3 1 .8 1 1.7 1 1.3 1 1.6 1-1.2 1 .9 1 .3 1 .6 1-.1 1 0 1-1.3 1 .2 1-.2 1 1 1 0 1-1.7 1 0 1 0 1-.1 1 .5 1 .1 1-.7 1-.7 1 .6 1-.4 1-.1 1 0 1-1.6 1-1.8 1-1.6 1-1.9 1-3.2 1 0 1-1.4 1-.3 1 .2 1 .3 1 1.6 1 1.2 1 2.8 1 .5 1 1.3 1 1.1 1 .5 1 .7 1-.4 1-.1 1 .2 1-.2 1 .4 1-.8 1 1.5 1-.8 1-1.3 1-.1 1-.2 1-.3 1-.8 1 1.1 1-.1 1-1.4 1-.3 1-1.2 1-.3 1 .2 1-.5 1 .7 1-1.6 1-.7 1 1.5 1-1.2 1-1.1 1 .5 1-1.4 1 .7 1 .5 1-.6 1-.7 1-1.2 1-.2 1-.7 1 .8 1-.8 1 .1 1-1.2 1-.6 1 .8 1 0 1-.6 1-.5 1-.3 1-.5 1-1.4 1 .2 1-.7 1-1 1-.4 1 .2 1-.4 1 .5 1 .2 1-1.4 1 .6 1-.2 1-.4 1-1.5 1-.7 1-.3 1-.4 1-.4 1 .5 1 .2 1-.4 1-1.1 1 0 1 0 1-1.8 1 .8 1 .1 1-.6 1-.4 1-.9 1-.9 1 .9 1-1.3 1 .6 1 .1 1-1.5 1-.2 1 .8 1-.7 1-1.4 1-.4 1-.2 1 1.3 1-.5 1-1.6 1 1.1 1 0 1-.9 1-.9 1 .1 1-1.1 1-.5 1 1.7 1-1 1-.5 1 .6 1-1.3 1 .6 1-.3 1-1.5 1-.1 1-.2 1-.4 1 .5 1-.9 1 0 1-.8 1 1.3 1-1.3 1-.1 1 0 1 .4 1-.9 1 1.1 1-.9 1 0 1-.3 1-1.7 1-.2 1-2.4 1-3.3 1-2.7 1-7.4 1-7.8 1-10.3 1-13.9 1-16.4 1-17.7 1-19.1 1-18.7 1-19.1 1-14 1-11.2 1-5.5 1 1.3 1 4.9 1 9.8 1 13 1 14.4 1 13.2 1 13.8 1 12.4 1 12.2 1 12.4 1 11.7 1 12.4 1 11.5 1 11.4 1 8.3 1 7 1 4.9 1 1.9 1 2.6 1 2 1 .5 1-.8 1 .3 1 1 1-.4 1 .8 1 .1 1 1.7 1 .6 1 .7 1-1 1 1.5 1 .4 1-.6 1 1.9 1 .6 1-1 1 1.9 1-.7 1 .6 1 1.5 1 .1 1-.9 1 .6 1 .3 1-.3 1-.2 1 .3 1 .9 1-1.4 1 1.2 1-.2 1-.8 1 .6 1 .6 1-.2 1-1 1 1.5 1-.8 1-.1 1-2.5 1-.6 1-1.6 1 0 1-2.9 1-2.5 1-2.2 1-2.2 1-4 1-5.4 1-5.3 1-4.2 1-7.3 1-7.4 1-10.3 1-10.7 1-11.4 1-15.5 1-18.1 1-18.1 1-22.8 1-23.7 1-26.5 1-23.5 1-25.2 1-19.2 1-17.4 1-11.2 1-4.1 1 3.3 1 8.1 1 15.7 1 22.2 1 24.9 1 27.8 1 29.1 1 28.4 1 27.3 1 24.7 1 21.4 1 18.9 1 13.8 1 12.2 1 8.4 1 7.1 1 4.2 1 4 1 2 1 3.1 1 .7 1 .1 1 1.1 1 1.3 1-1.4 1 1.7 1-.6 1 .3 1 .9 1-.8 1 .4 1 .5 1 .8 1-1.2 1 1 1-.2 1-.3 1-.7 1-.5 1-1 1-.5 1-.7 1 .9 1-1.2 1 .1 1 .4 1 2.4 1 1.2 1 .8 1 .4 1 1 1 1.1 1 1.2 1 .1 1 1.2 1 .2 1 1.9 1 .5 1-.4 1-.1 1 1.9 1-.9 1 .6 1-.3 1 1 1 .3 1 .3 1-.4 1 .8 1-.8 1 .7 1-.2 1 .8 1-.5 1 .2 1 .7 1 .1 1 .9 1 0 1 .7 1 0 1 .3 1 .5 1-.8 1 .1 1 1.5 1-1.5 1 1.4 1 0 1-1 1 1.5 1 0 1-.6 1 .1 1 0 1-1.4 1 .7 1-.2 1 .6 1-.1 1-.1 1-.6 1 .5 1-.5 1-.1 1-1.1 1-.6 1 0 1 0 1-1.1 1 .6 1-1.7 1-1.5 1-2.3 1-2.9 1-4.1 1-5.3 1-3.1 1-4.9 1-5.1 1-3.7 1-2.5 1-2.4 1 1.7 1 .9 1 2.8 1 4.5 1 5.6 1 3.8 1 5.7 1 4.5 1 2.6 1 2.6 1 2.4 1 2 1 1.3 1 .5 1 .6 1-.8 1 .4 1 .5 1 1.1 1-.7 1 .7 1-1 1 .2 1 .4 1 .7 1 0 1-.1 1-.8 1 .4 1-.2 1 0 1-.8 1 1.5 1-1.5 1 1.5 1-.1 1-1.9 1 .8 1 .5 1 .1 1-1.1 1-.7 1-.7 1 .5 1-3.2 1-1.9 1-4.7 1-4.8 1-6.8 1-11.7 1-11.4 1-16.2 1-17.4 1-20.8 1-22.7 1-20.7 1-21.7 1-19.2 1-14.2 1-8.1 1-3.1 1 2.9 1 8.9 1 14.9 1 18.5 1 22.1 1 20.6 1 23.5 1 20.8 1 17 1 17.5 1 12.6 1 10.6 1 6.7 1 5.9 1 4.2 1 4.1 1 1.1 1 .8 1 1 1 .2 1-.1 1 .4 1 1.7 1-.9 1 1.5 1-1.2 1 .2 1 .6 1-.5 1 .5 1 1.3 1 0 1 0 1-.2 1 .5 1 0 1-1 1-.1 1-2 1 .3 1-2 1-1.2 1-2.2 1-2.7 1-2.2 1 .6 1-1.9 1 1.2 1 1 1 1.8 1 3 1 2.6 1 .5 1 2.4 1 .5 1 1.4 1 .2 1 0 1 .2 1 .2 1 1.5 1-.8 1-.6 1 1.4 1 .2 1-1.1 1-.6 1 .1 1-.2 1 .5 1-.5 1 .3 1 0 1 .6 1 .7 1-.3 1-.7 1 0 1 .2 1-.2 1-.1 1-.6 1 .5 1 1.3 1-1.6 1 .7 1 .3 1 .4 1-1.3 1 .1 1 0 1 .3 1 .1 1 1 1-.2 1 0 1-1.7 1 0 1 1.3 1 .2 1-1 1-.2 1-1.8 1-.1 1-.1 1-1.7 1-1.6 1-1.4 1-2.8 1-1.2 1-.3 1 1.1 1 1.3 1 1.9 1 1.2 1 1.5 1 1.7 1 .5 1 1.1 1-.4 1 1.9 1-.9 1 1.5 1-.5 1-.6 1-.4 1 .3 1 .8 1 .1 1-1.2 1-.1 1 .9 1 .2 1-.4 1-.4 1 .8 1-1.2 1 .6 1 .3 1 1 1-.6 1 .5 1-.9 1-.5 1 0 1 1.3 1-.7 1-1.2 1-1.2 1 0 1-.9 1-2.1 1-2.2 1-1.1 1-1.3 1-2.8 1-1.1 1 .7 1 1 1 2 1 .9 1 3.2 1 1.7 1 1.1 1 .6 1 2.4 1-.8 1 1.4 1-1 1 .1 1 1.1 1-.9 1 1.3 1-.9 1-.6 1 0 1 .4 1 .5 1 .6 1-1.6 1 .5 1-.4 1 1.5 1-1.6 1-.2 1 0 1 .7 1 1 1 0 1-.3 1 .5 1-.1 1-1.2 1-.3 1 1.5 1-.4 1-1.4 1 1.2 1-.5 1-.1 1 0 1-.5 1-.5 1 .4 1 0 1 1 1-1.8 1 1.6 1-1.7 1 .1 1 .8 1-.1 1-1 1-.9 1 .5 1-.5 1 .8 1-1.8 1-.1 1 .5 1-2.4 1-.2 1-.6 1-2.1 1-4 1-3.4 1-4.2 1-3.1 1-6.7 1-4.2 1-4.3 1-4.6 1-2 1 1.3 1 1.1 1 2.6 1 5.2 1 3.9 1 4.5 1 3.5 1 4.5 1 2.1 1 .1 1-.1 1-4.1 1-3.4 1-4.9 1-5.9 1-8.1 1-9.9 1-9.3 1-8.1 1-6.8 1-3.9 1-3.6 1 2.2 1 3.6 1 6.3 1 7.8 1 8.5 1 8.3 1 8.4 1 7.3 1 6.7 1 2.8 1 3.1 1 2.5 1-.7 1-1.1 1-1.2 1-.6 1-2.2 1-.2 1-1.4 1-.5 1-1.4 1 .4 1 1.3 1 2.7 1 2.6 1 1.8 1 1.9 1 2.4 1 2.2 1 1.5 1 1.2 1 .9 1-.1 1-1.2 1 .7 1-2.3 1-1 1-2.4 1-1.4 1-3.3 1-2 1-1.7 1-1.3 1 1.1 1-.2 1 .6 1 1.8 1 3.2 1 1 1 1.3 1 2.8 1 1 1 1.6 1-1.1 1 1.1 1 .9 1 .1 1 0 1-1.8 1 .5 1-.5 1-.1 1 1.1 1-1.5 1-.4 1-2.6 1-.9 1-3.1 1-2.9 1-1.6 1-2.2 1-3.9 1-.7 1-.8 1-.7 1 1.2 1 1.3 1 2.5 1 2.9 1 3.6 1 2.9 1 1.7 1 1.8 1 2.5 1 2.1 1 0 1 1.1 1 .3 1 1.6 1-.2 1-1.2 1-.2 1 .3 1 0 1-.2 1-1.4 1-.2 1 .7 1-.9 1-.6 1-.3 1 1 1-1.6 1 .2 1-.8 1-.2 1 .5 1-.1 1-1.5 1-.6 1 .6 1-1.7 1-1.5 1 .1 1-3.3 1-2.6 1-5.2 1-4.7 1-7.7 1-8.3 1-8.5 1-7.1 1-7.2 1-5.4 1-5.3 1-.1 1 1 1 4.3 1 5.4 1 7.7 1 8.5 1 8.8 1 5.7 1 7 1 5.6 1 3.9 1 .6 1 .6 1 1 1-2 1-4.4 1-5.7 1-4.4 1-8.4 1-7 1-8.8 1-7.4 1-7.9 1-3.4 1-3.3 1 .8 1 3.9 1 5.3 1 5.6 1 7.9 1 8.3 1 7.5 1 6 1 4.3 1 3.8 1 2.8 1 .5 1-2.9 1-1.4 1-3 1-5.4 1-2.4 1-5.1 1-1.9 1-1.7 1 0 1 .6 1 2.9 1 4.1 1 4.2 1 5.3 1 4.3 1 4.4 1 2.9 1 4.4 1 2.2 1 1.4 1 2.5 1 1 1 .4 1 .3 1 1.4 1-.1 1 .7 1 1.2 1-.1 1 1.3 1 .7 1-.4 1 1.8 1-.6 1 1.9 1 .7 1-.5 1-.8 1 1.1 1-.2 1 1.3 1-1.5 1 1.6 1 .4 1-.5 1 .3 1-1.1 1 1.7 1-.9 1 1.1 1 0 1-1.3 1 1.3 1 .4 1-1.6 1 .7 1 .9 1-1 1 1.6 1-1.2 1 1.2 1-1.4 1 .7 1 .7 1-1.5 1 0 1 .5 1-.5 1-.6 1 .2 1-.1 1 1.4 1-.6 1 .4 1-1.5 1 1.1 1-1.4 1 .8 1 .1 1-.6 1 .9 1-.7 1 0 1 .5 1-1.6 1 1.7 1-.8 1-.7 1 .6 1-1.3 1 1.3 1-1 1-.7 1 .6 1-.8 1-.7 1 .9 1-1.6 1 1.3 1-1.3 1 .6 1 .5 1-1 1-.1 1-.9 1-.9 1-.3 1-.1 1 .4 1-1.1 1-.9 1-.7 1-3.2 1-2.2 1-2.1 1-4.9 1-4.3 1-3.8 1-4.9 1-3.6 1-3.6 1-1.4 1-.7 1 0 1 3.1 1 3.1 1 3.5 1 6.1 1 3.2 1 4 1 3.6 1 4 1 2.6 1 1.4 1 .1 1 0 1-.8 1 .5 1-1.1 1-1.7 1-.7 1-1.5 1 .1 1-.9 1-1 1 1.8 1-.8 1 2.4 1 1.4 1 1.4 1 1.4 1 3.2 1-.1 1 2.4 1 1.8 1-.8 1 .8 1 1.3 1 .3 1 .3 1 .3 1-1.3 1 .2 1-.1 1-.6 1 1.6 1-.3 1-.2 1-1.5 1 1.6 1-.2 1-.7 1 .5 1-.6 1-.6 1-.3 1 .2 1-.5 1 .5 1 .8 1-.2 1 .2 1-.3 1-1 1 .5 1-.2 1 .8 1-.5 1-.6 1 .7 1 .5 1-1.8 1 .8 1-2.4 1-.4 1-1 1 0 1-.4 1-1 1-.9 1 1.3 1-.4 1 .8 1 2.4 1 .6 1 1.1 1 .8 1 1.2 1-.5 1 1 1 0 1 .4 1-.7 1 .6 1-.2 1-.6 1-.2 1 .7 1-1.3 1 1.4 1-2 1-.8 1-.6 1 .7 1-2.3 1-1.6 1-1.4 1-1 1 .5 1-.7 1 0 1 .3 1-.8 1 2 1 .7 1 2.1 1 1.2 1 1.3 1-.6 1 2.4 1 .7 1 .6 1-1.3 1 .4 1 0 1 0 1 1.7 1 0 1-.3 1 .3 1-.4 1-.7 1-.5 1 0 1 1.3 1-1.2 1 .2 1 .2 1-.9 1 .5 1 0 1 .8 1-.7 1-.2 1 1.3 1-1 1 .7 1-.5 1-1.2 1 .7 1 0 1 .6 1-.9 1 .7 1-.4 1-.7 1 1.1 1-1.6 1 1.2 1-1.6 1-.8 1-.3 1 .1 1-1 1-3.8 1-1.3 1-2.7 1-2.4 1-4.4 1-2.5 1-3.1 1-1.1 1-2.4 1 1.1 1-.6 1 1.5 1 3.4 1 2.5 1 2.3 1 4.1 1 1.6 1 3.8 1 1.7 1 1.6 1 .7 1 .2 1 .5 1 .3 1 1.2 1-1.4 1 1.8 1-1.6 1 .4 1 .2 1 1.2 1-.8 1-.3 1 .8 1-1.6 1 .1 1-.4 1-.1 1-.6 1-.9 1-1.1 1-.5 1-.6 1 1.3 1-.1 1 .6 1-.5 1 1.3 1 1.4 1 .5 1-.2 1 1.4 1 1.4 1-.8 1 .2 1 .5 1 1.1 1 .4 1-1.2 1 .1 1 .3 1 .3 1 .5 1-.7 1 .5 1-.2 1 1.7 1-.6 1-1.2 1 1.6 1-1.7 1 .5 1 1.2 1-.4 1-.1 1-.7 1-.5 1 .9 1-1.1 1 .2 1 .3 1-.7 1 .7 1 .7 1-.2 1-.4 1 .3 1-.4 1-.7 1 .9 1-.4 1 .6 1 .3 1-.9 1 .2 1 .4 1-.7 1-.4 1 .9 1 .3 1-.2 1-.2 1 .3 1-.4 1-.1 1-.4 1-.4 1 .5 1-1.2 1 .6 1 .6 1-.3 1-.2 1-.9 1 .2 1 0 1 .2 1-.6 1 .5 1 .3 1-1.6 1 .9 1 .1 1-.9 1 .1 1 .8 1-1.9 1 .8 1-.8 1 1.1 1 .2 1-1 1-.8 1 .9 1-.1 1 .3 1-.6 1 0 1-.1 1-1.4 1-1.3 1-.3 1-3.3 1-1.2 1-3.1 1-1.9 1-3.9 1-.6 1-3.2 1-1.8 1 .1 1 .6 1 .3 1 2.5 1 2 1 2.6 1 1.3 1 1.4 1 1.1 1 1.7 1 .7 1-.8 1-.9 1 .7 1-1.2 1-.7 1-.4 1 1.3 1 .2 1 .1 1 .3 1 .9 1 .3 1 2.5 1-.1 1 1.6 1 1.4 1 .9 1 .2 1 .4 1 1.2 1-.3 1 1.9 1-.6 1 1.3"/>
<path stroke="#000" stroke-width="11" d="M218.5 2311.4l.4 4.9 .4-9.3 .4 8 .4-5.4 .4-.1 .4 8.9 .4-7.4 .4-.9 .4 3.1 .4 1.6 .4-5 .4 2.5 .4-6.6 .4 2.4 .4-.3 .4-3.9 .4-.8 .4-.6 .4 5.8 .4 .2 .4-.7 .4 1.6 .4-5.9 .4 5.2 .4 1.2 .4 2.1 .4-6.7 .4 1.8 .4-6.8 .4 6.3 .4-7.2 .4 3.2 .4 10.5 .4-13.9 .4 12.6 .4-2.1 .4-2.7 .4 3.2 .4 .2 .4 2.2 .4-5.4 .4-1.6 .4-.1 .4-1.7 .4 4 .4-3.2 .4 7.8 .4-12.4 .4 3.2 .4 .6 .4-4.8 .4 16.8 .4-18.2 .4 8.9 .4-1 .4 9.2 .4-15.4 .4 12.9 .4-7.6 .4 2.4 .4-2.2 .4 5.5 .4-7.5 .4 4.4 .4 1.8 .4 6.2 .4-17.9 .4 16.5 .4-2.5 .4-6.1 .4 3.3 .4-3.3 .4 8.8 .4-6.1 .4-1.9 .4-.2 .4 .1 .4 0 .4-3.1 .4 12.2 .4-16.8 .4-2.6 .4 9.9 .4-.2 .4 2 .4-2.5 .4 .1 .4 1.8 .4 2.6 .4-6.1 .4 .2 .4 9.5 .4-6 .4-6.5 .4 13.7 .4-6.6 .4-5.9 .4-2.6 .4 6.1 .4-4.9 .4-1.1 .4-1.1 .4 3.2 .4 6.7 .4-6.6 .4-4.4 .4 8.8 .4-2.6 .4 3.2 .4 1.4 .4-5.9 .4 .1 .4 .3 .4-4.7 .4 7.5 .4 2.9 .4-5.1 .4-1.8 .4-.2 .4-2.2 .4-.2 .4 1.6 .4-1.9 .4 1.6 .4-4.8 .4 8 .4-1.4 .4-5.1 .4-4.8 .4 9.5 .4 4.6 .4-7.8 .4 1 .4-.4 .4 5 .4-6.6 .4 7.9 .4-5.5 .4 5.1 .4-3.9 .4-1.1 .4-5.4 .4 3.3 .4 1.7 .4 3.8 .4-1.9 .4-4 .4 4.6 .4 2.3 .4-4.8 .4-1.3 .4 .1 .4 4.9 .4-1.2 .4-6.2 .4 5.4 .4-3.7 .4-1.2 .4 8.3 .4-1.9 .4-6.5 .4 3.3 .4 1.7 .4-4.9 .4 2.1 .4 3.2 .4-10.3 .4 8.8 .4 1.6 .4-1 .4-7.8 .4 6.9 .4-5 .4 5.9 .4 .1 .4-1.7 .4-4.1 .4 .6 .4 6.1 .4-7.5 .4 5.9 .4 0 .4-3.4 .4 11.2 .4-9.8 .4 8.7 .4-17.6 .4-1 .4 13.5 .4-1.4 .4-4.1 .4 1.1 .4-7.8 .4 5.3 .4-1.8 .4 3.4 .4 4.6 .4-3.5 .4 1.3 .4-4.5 .4 1.1 .4 2.2 .4-1.7 .4 6.5 .4-9 .4 11.6 .4-12.1 .4 8.5 .4-7.7 .4 10.2 .4-6.4 .4 1.1 .4 1.4 .4-5.8 .4-1.7 .4-4.2 .4 13.6 .4-8 .4 .4 .4 2.3 .4 8.5 .4-15.6 .4 8.3 .4-2.8 .4 3.9 .4-9.8 .4 5.9 .4 5.2 .4 3 .4 .1 .4-10.3 .4 3.8 .4-.7 .4-5.3 .4-.3 .4 9.2 .4-2.2 .4-1.6 .4 5.7 .4-9.4 .4 6.4 .4-2.1 .4-.3 .4 2.3 .4-1.4 .4 .4 .4 0 .4 7 .4-9.4 .4 5.5 .4-1.7 .4-4 .4 4.8 .4-7 .4 8.5 .4-8.3 .4 1.3 .4 3.4 .4 2.1 .4 .3 .4-.1 .4-4.6 .4-3.2 .4 6.2 .4-1.1 .4-5.3 .4 8 .4-3.3 .4-4.9 .4 5.8 .4-7.5 .4 1.8 .4 5.2 .4-8.3 .4 6.6 .4-5.9 .4 8.6 .4-6.2 .4 3.7 .4-7.2 .4 4.8 .4 5.3 .4-2.2 .4-9.8 .4 11.5 .4-.2 .4-5.5 .4 7.4 .4-10.5 .4 4 .4 4.9 .4 .7 .4-.2 .4-10.1 .4-3 .4 9 .4-7.7 .4 5.3 .4-4.9 .4 9.7 .4-1.1 .4-1.2 .4-2.3 .4 0 .4-1.5 .4 2.7 .4-.6 .4 .8 .4-3.8 .4 9.6 .4-6.8 .4 4.6 .4-.4 .4-9.4 .4-3.5 .4 12.3 .4-7 .4 1.9 .4-1.5 .4 1.5 .4-5.6 .4 4.5 .4-1.6 .4 1.8 .4-9.9 .4 13.2 .4-2.2 .4-8.8 .4 4.1 .4 3.2 .4 2.4 .4-2.8 .4 5.8 .4-5.9 .4-4.5 .4 1.3 .4 5.9 .4-5.9 .4 6.1 .4 .7 .4-2 .4 1.7 .4-5.2 .4 .6 .4-2.7 .4-.2 .4-4.2 .4 4.2 .4-2.3 .4-1.7 .4 6.6 .4 1.3 .4-3.6 .4 7.3 .4-2 .4 .3 .4-7.3 .4-4 .4 8.8 .4-1.2 .4 1.7 .4-1.5 .4 3.6 .4-6.9 .4 4.1 .4-7 .4-6.3 .4 8 .4 8.5 .4-14.1 .4 11.7 .4-7.6 .4 1.2 .4 1.8 .4 .6 .4-5.3 .4 4.7 .4 1.3 .4 1.6 .4-7.1 .4 10.1 .4 1.4 .4 2.2 .4-16.8 .4 6.6 .4-9.2 .4 9.9 .4 .6 .4-7.7 .4-2.1 .4 7.8 .4 1.8 .4-6.5 .4 2.3 .4-10.2 .4 7.9 .4 3.6 .4-.1 .4 6.3 .4-12.4 .4-5.2 .4 12 .4-4.9 .4 3.8 .4 1.8 .4-.7 .4 3.7 .4-.6 .4-13.9 .4 7.1 .4 9.2 .4-11.2 .4 6.1 .4-4.8 .4-1.9 .4 9 .4-2.7 .4-6.1 .4 5.1 .4-10.4 .4 2.5 .4 7.3 .4-4.2 .4-5.3 .4 6.8 .4-.7 .4 4.2 .4-1.7 .4-5.9 .4-1.2 .4 1.4 .4-.6 .4 7.7 .4 .4 .4-1.3 .4-4.8 .4-3.2 .4 5.2 .4-6.2 .4 2.6 .4-9.3 .4 5.7 .4 8.7 .4-12 .4-2.5 .4 6.1 .4 8.6 .4-1.3 .4-8.9 .4-.8 .4 1.5 .4-4.1 .4 4.4 .4-1.8 .4-6 .4 4.2 .4 1.3 .4-3.1 .4-1.5 .4 9.7 .4 4.6 .4-10.9 .4-.9 .4 4.4 .4-3.8 .4-2.9 .4 10.5 .4-12.2 .4 1.3 .4 .2 .4-1.3 .4 3 .4 3.8 .4 4.1 .4-4.1 .4-3.3 .4-6.6 .4 5.8 .4-4.6 .4 4 .4 5.2 .4-4.1 .4-2.2 .4-3 .4 3.5 .4 .5 .4-5.4 .4 1.9 .4 6.8 .4-13 .4 5.9 .4-3.9 .4 13.6 .4-5 .4-.6 .4-.8 .4-.7 .4-.2 .4-9.7 .4 9.2 .4 1.5 .4-10.5 .4 11.4 .4-1 .4-11.4 .4 5.2 .4 .7 .4-1.4 .4 4.6 .4-8.8 .4 5.3 .4 2.1 .4 2.4 .4-3.7 .4-1.7 .4 4.6 .4-14.1 .4 15 .4-6.7 .4-5.2 .4 4.1 .4-7.6 .4-1.4 .4 8.7 .4-2.6 .4 7.6 .4-8.8 .4-2.5 .4 1.4 .4 13.9 .4-9.3 .4-3.8 .4-2.4 .4-1 .4 4.6 .4 2.8 .4 3.5 .4-.4 .4-5.2 .4-5.5 .4-1.5 .4-8.4 .4 6.6 .4 7.5 .4-4.6 .4 3.4 .4-9.9 .4 12 .4-3.8 .4-1.9 .4 1.6 .4-15.2 .4 8.9 .4-2.5 .4 14.8 .4-11.7 .4-2.4 .4 7.2 .4-11.3 .4 13.6 .4-12.6 .4 3.2 .4-5.4 .4 9.4 .4-17.7 .4 16.1 .4-9.2 .4 4.6 .4-7.4 .4 7.6 .4-.6 .4 2 .4-2 .4 1.4 .4 1.9 .4-8.6 .4-5 .4-.9 .4 11.2 .4-6.6 .4 8.2 .4-6.3 .4-6.7 .4 11.1 .4 5.9 .4-13.1 .4-5 .4 .2 .4 10.1 .4-9.4 .4 .7 .4 6.3 .4-4.5 .4 .2 .4-4.4 .4-1 .4 4.5 .4-.5 .4 2.3 .4-7.2 .4 4.8 .4 .3 .4-2.9 .4 2.5 .4 2.1 .4-5.7 .4-1.4 .4-7.4 .4 7.5 .4-3.5 .4-2.3 .4-4.4 .4 7.9 .4 11.2 .4-15 .4-4 .4 .5 .4-8.8 .4 2.5 .4-7.4 .4-2.3 .4 3.6 .4-2.6 .4-5.2 .4-7.8 .4 4.2 .4-13 .4 9.2 .4-12 .4-2.1 .4 .6 .4-6.8 .4-18.4 .4 1.6 .4-1.6 .4-16.4 .4-15.7 .4 9.6 .4-6.8 .4-3.8 .4-9.7 .4-7.1 .4-7.2 .4-.2 .4-14.5 .4-7.9 .4-14.7 .4 2.7 .4-16 .4-4.2 .4-17.4 .4 1 .4-8.2 .4-7.8 .4 .1 .4-8.3 .4-6.5 .4-5.1 .4 5.2 .4-6.6 .4-2.6 .4-6.8 .4 5.5 .4-4.2 .4-4.3 .4-.6 .4-6.3 .4 7.2 .4-6.7 .4 6.3 .4-4.7 .4-.7 .4 3.6 .4-.4 .4-4.3 .4 4.1 .4 3.1 .4-2.2 .4-2.7 .4 5.4 .4-.4 .4 4.6 .4 7.2 .4 8.3 .4 11.2 .4 10.2 .4 25.5 .4 14.8 .4 11.5 .4 12.1 .4 15.4 .4-3 .4 6.3 .4 14.8 .4 .3 .4 12.3 .4-3.7 .4 5.6 .4 10.9 .4 3.7 .4-.3 .4 2.9 .4-1.4 .4 .4 .4 4.1 .4 12.6 .4-1.8 .4-2.8 .4 3.9 .4 5.2 .4 4 .4-7.8 .4 1.6 .4 4 .4 16.2 .4-14.9 .4 8 .4-18.8 .4 17.3 .4-15 .4 2.9 .4 3.7 .4 4 .4 2.7 .4 1.9 .4-.5 .4-4.1 .4 21.1 .4-14.2 .4 2.4 .4 9.9 .4-6.8 .4-2.3 .4-1.3 .4 11.2 .4-20.1 .4 1.2 .4 8.1 .4-14.8 .4 9.1 .4 13.5 .4-10.7 .4 4.6 .4 4 .4-12.6 .4 10.2 .4-6 .4-3 .4 6 .4 1.7 .4-2.2 .4-1.6 .4 11.4 .4 1.4 .4-4.1 .4-4.5 .4-6.7 .4 1.5 .4-2.1 .4 8.8 .4 4.6 .4-.4 .4-7 .4-3 .4 3.3 .4-1.1 .4 2.5 .4 5.3 .4-15.8 .4 18.3 .4-30.1 .4 1.2 .4 .7 .4 2.2 .4 4.3 .4 14.6 .4-20.5 .4 11.1 .4-11.6 .4 1.9 .4-9.7 .4 21.1 .4-17.9 .4-5.9 .4 18 .4-16.7 .4-.6 .4-6.3 .4-7.2 .4-6.7 .4 6.2 .4 9.8 .4-10.8 .4-6.7 .4 6.1 .4-16.2 .4 13.7 .4-12 .4-8 .4 8.2 .4-3.5 .4-8.3 .4 1.6 .4 3.1 .4 .7 .4-17.8 .4-6.7 .4 16.9 .4-11.6 .4-2.5 .4 1.6 .4-5.4 .4 4.4 .4-11.1 .4 2.7 .4-5.8 .4 10.2 .4-8.7 .4 4.5 .4 .2 .4-11.7 .4 3.2 .4 3.2 .4-3.3 .4-1.1 .4 3.8 .4 .2 .4-6.2 .4 2 .4 3.5 .4-1.4 .4 .3 .4-4.5 .4 12.9 .4-7.1 .4 3.4 .4 .4 .4 2.2 .4 2.4 .4-1.9 .4 7.4 .4 5.8 .4-.8 .4 3.9 .4 1.6 .4 .8 .4 15.2 .4-14.5 .4 10.5 .4 7.6 .4-1.9 .4-6.1 .4 2.9 .4 21.4 .4-14.6 .4 9.4 .4 6.2 .4-.6 .4-10.6 .4 1.4 .4 14.6 .4-2.6 .4 5.5 .4 4.1 .4 2 .4-9 .4-1.2 .4 19.2 .4-10 .4-3 .4-5 .4 18.2 .4-12 .4 2 .4 12.1 .4-1.8 .4 2.2 .4-12.3 .4-8.2 .4 11.1 .4 5.2 .4-2.2 .4 11.2 .4-3.4 .4-9.4 .4 11.5 .4-4.7 .4-2 .4 11.5 .4-19.2 .4 19.1 .4 .7 .4-21.6 .4 13.4 .4 .5 .4-6.5 .4 4.3 .4-1.4 .4 6.4 .4-4 .4-10.7 .4 23.6 .4-1.8 .4-11.7 .4 12.3 .4 8.3 .4-24.6 .4 8.4 .4-.4 .4 7.9 .4-5.7 .4-7.2 .4 18.9 .4-10.6 .4 7.7 .4 11.3 .4-20.8 .4 2.8 .4 9.6 .4-6.7 .4 4.8 .4-3.3 .4 18 .4-12.7 .4-1.6 .4-1.1 .4 2.2 .4-13.7 .4 9.9 .4 7.4 .4-13.2 .4 9.1 .4-.6 .4-2.6 .4 21.5 .4-12.1 .4-2.3 .4-7.4 .4 6.5 .4-2.2 .4 2 .4 2.6 .4 16.5 .4-7.6 .4 3.2 .4-1.8 .4 8.5 .4-21.5 .4-3.8 .4 11.1 .4 .9 .4-.9 .4-4 .4 9.7 .4 7.9 .4-10 .4-2.6 .4 10.5 .4-10 .4 .1 .4 5.2 .4-17.8 .4 29.6 .4-13.5 .4 4.8 .4-1.1 .4 1.1 .4-11.9 .4 22.1 .4-8 .4-1.5 .4 15.7 .4-26 .4 14.5 .4-5.5 .4-9.3 .4 24.4 .4-23.9 .4 12.2 .4-1.2 .4 2.3 .4-7.3 .4 16.3 .4-7.3 .4-10.1 .4 .8 .4 10.6 .4-9.4 .4 11.3 .4-.4 .4-5.8 .4-8.8 .4 4.6 .4 11.7 .4-5.6 .4 16.4 .4-15.2 .4 5.9 .4 2.4 .4-3.6 .4 1.8 .4 5 .4-7.3 .4 3.5 .4-4.3 .4 16.1 .4-11.8 .4 4.7 .4-21.8 .4 13.7 .4-3.8 .4 8 .4-2.9 .4-3.6 .4 5.4 .4 7.5 .4 2 .4-10.2 .4 10.7 .4-10.6 .4 8.3 .4-9.3 .4 12.7 .4 8.5 .4-16.6 .4 10.1 .4-17 .4 5.6 .4 20.4 .4-16.2 .4 3.9 .4-13.4 .4 10.6 .4-4.6 .4 12.9 .4-10.8 .4 19.5 .4-22.6 .4 9.3 .4-14.5 .4 10.4 .4 10.5 .4-8.2 .4-7.2 .4 11.5 .4 3.1 .4-3 .4 3.7 .4-14.9 .4 20.6 .4-6.8 .4-17.4 .4 25.1 .4-14.5 .4 6.4 .4-15.4 .4 8.7 .4-7.3 .4 16.8 .4-6.5 .4-4.1 .4 3.6 .4 9.5 .4-11.6 .4 8.5 .4-10.6 .4-2.8 .4 7.4 .4 1.5 .4 3 .4 4.9 .4-8.2 .4 .5 .4 7 .4-1.9 .4-2.8 .4 2 .4-14.8 .4 10.2 .4-6.3 .4 7.8 .4 7.7 .4-15.6 .4 16 .4-8.9 .4 2.2 .4-1.5 .4 7.3 .4-8.3 .4-8.5 .4 14.6 .4-2.8 .4 4.8 .4-.1 .4-11 .4 8.6 .4-.5 .4-1.1 .4 1 .4 1.3 .4-5.2 .4 2.4 .4 6.9 .4-12.5 .4 6 .4-5.7 .4-.3 .4 3.9 .4 3.6 .4 8.1 .4-10.5 .4 6.9 .4-2.4 .4-2.9 .4-15.7 .4 16 .4-.5 .4-6.7 .4 7.1 .4 8.2 .4-16 .4 3.9 .4 8.6 .4-16.5 .4 4.7 .4 8.1 .4 3.9 .4 1.6 .4-2.8 .4 9.5 .4-11.7 .4-10.2 .4 6.6 .4 5 .4-1.5 .4-14.1 .4 14.1 .4-7.2 .4 3.6 .4 10.1 .4-9.9 .4-3.1 .4 3.3 .4-3.2 .4 16.3 .4-7.5 .4 .5 .4-9.8 .4 .2 .4 5.4 .4-14.9 .4 19.4 .4-14.1 .4 8.3 .4 1.3 .4-7 .4 6.9 .4 2 .4 7.2 .4-9.4 .4 8.6 .4-8.5 .4-4.2 .4 6.3 .4-8.7 .4 4 .4 2.7 .4 3.1 .4-5.6 .4-10.9 .4 16.8 .4-7.1 .4-3.1 .4-3.4 .4 8.4 .4-1.7 .4 1.9 .4-5.3 .4 10.2 .4-11.4 .4 4 .4-1.6 .4 5.2 .4-11.2 .4 2.3 .4 .3 .4-3 .4-.2 .4-3.7 .4 12.1 .4 4.5 .4-15.8 .4 10.8 .4-12.4 .4 1.9 .4 2.9 .4 2.6 .4 1.9 .4-15.5 .4 3.7 .4 8.7 .4-2.4 .4 15 .4-15.6 .4-2.7 .4 11.7 .4-24.1 .4 3.9 .4 27.9 .4-20.4 .4 4.2 .4-1.9 .4-4.8 .4 4.6 .4-7.8 .4 14.5 .4-1.5 .4-.8 .4-10.6 .4-6.9 .4 9.2 .4-4.3 .4 9.5 .4-13.3 .4 4.3 .4 6.6 .4 1.8 .4-2.5 .4-9.1 .4 3.5 .4 17.5 .4-7.2 .4-11.9 .4 17.8 .4-13.8 .4 .6 .4-5.7 .4 15.3 .4-9.6 .4-1.5 .4-5.8 .4-2.7 .4 9.5 .4-1.4 .4 10 .4-16.8 .4 3.3 .4 8.8 .4-1.5 .4-10.4 .4 14.1 .4-7 .4 2.5 .4-4 .4 4 .4-9.8 .4 1.1 .4 8.7 .4-5 .4-.4 .4 5.1 .4-6.3 .4 1.1 .4-17.9 .4 11.4 .4 9.2 .4-11.6 .4 4.1 .4 3.6 .4-2.5 .4 7 .4-2.5 .4-4.3 .4 8.8 .4-9.6 .4-2.1 .4 7.3 .4 2.4 .4-4.9 .4-5.9 .4 4.1 .4 5.4 .4 3.5 .4 7.7 .4-12.6 .4 .1 .4-12.4 .4 23.3 .4-1.9 .4-5.5 .4-4.2 .4-11.2 .4 21.8 .4-9.3 .4 15.6 .4-4.4 .4 4 .4-8.7 .4 9.3 .4-16.3 .4 19.1 .4-9 .4-6.8 .4 5.5 .4-3 .4 8.4 .4-5.7 .4-3 .4 6.3 .4 1.4 .4 3.2 .4 3.5 .4 4 .4-4.9 .4 8.1 .4-25.2 .4 15.4 .4 6.6 .4-13.5 .4 7.2 .4 3 .4-10.6 .4 6.4 .4 7.5 .4-5.2 .4 11.6 .4 5.4 .4-14.5 .4-6.3 .4 7.1 .4-2.9 .4-4.9 .4 6.5 .4 0 .4 .9 .4 8 .4 1.2 .4-3.6 .4-4.3 .4 5 .4-2.1 .4 1.5 .4-6.8 .4-8.7 .4 20.4 .4-8.4 .4 .9 .4 3.2 .4 .1 .4-1.1 .4 11.1 .4-7.9 .4 .9 .4-6.1 .4 4.9 .4 3.6 .4-2.8 .4 2.7 .4-6.9 .4 7.9 .4-7.7 .4 3.7 .4-1.5 .4 5.8 .4 5.5 .4-4.2 .4-6.3 .4 6.1 .4 5.4 .4-1.4 .4-1 .4-8.8 .4 3.5 .4-.3 .4 1.4 .4 4.3 .4-.7 .4-1.9 .4 5.4 .4-6.8 .4 2.4 .4 2.7 .4-7.8 .4 3.1 .4-2.7 .4 2.2 .4 5.3 .4 .4 .4 2.8 .4 .2 .4-7.7 .4 16.6 .4-2.5 .4-13.7 .4 3.1 .4 1.4 .4 4 .4 2.5 .4-3.1 .4-13.3 .4 27.3 .4-8.7 .4 .1 .4-8.2 .4 4.8 .4 4.7 .4-7.3 .4 8.9 .4-5.4 .4 8.2 .4-7.9 .4 7.9 .4-16.2 .4 16.3 .4-5 .4-4.2 .4 7.9 .4-6.8 .4 5.9 .4 .9 .4 .7 .4 6.3 .4-4.1 .4 6 .4-9.1 .4-2.7 .4 1.5 .4-2.1 .4-6 .4 7.4 .4-6.7 .4 4.9 .4 .1 .4-1.1 .4-2.4 .4 6.2 .4-.4 .4 7.4 .4-3.7 .4 1.9 .4-7.1 .4 1.1 .4-4.6 .4 2.1 .4 8.3 .4-4.4 .4 .5 .4-1.9 .4 10.9 .4-7.9 .4 6.3 .4-5.7 .4 5.1 .4-9.4 .4-1.7 .4 12.6 .4-6.9 .4 3.1 .4 3.3 .4-.7 .4-1.9 .4-7.1 .4 2.7 .4 3.8 .4 3.2 .4-.3 .4-.6 .4-5.4 .4 4 .4 5 .4-8.8 .4 1.6 .4 7.5 .4 3.5 .4-5.6 .4-1.7 .4-4.5 .4 4.2 .4-3 .4 4.7 .4 3 .4-1.1 .4 4.3 .4-11 .4-1 .4 12.9 .4-1.4 .4-9.5 .4 5.5 .4-5.6 .4 5.3 .4 1.8 .4 3.2 .4-9 .4-1.3 .4 9 .4-4.1 .4 8.4 .4-11.9 .4 2.5 .4-8.7 .4 17.5 .4 1.1 .4-4.2 .4-3.2 .4-8 .4 3.3 .4 4.1 .4 11.6 .4-4.6 .4-6.9 .4 4.9 .4 .8 .4-.1 .4-6.6 .4 2.4 .4 6.8 .4-1.3 .4-4.7 .4 13.1 .4-9.9 .4-3.1 .4 6.2 .4-.3 .4-4.3 .4 9.1 .4-3.2 .4-4.8 .4 3.3 .4-.1 .4-4.3 .4 4.8 .4-5.7 .4 1.5 .4 4.2 .4-8.7 .4 4.3 .4-2.7 .4 7.8 .4-5.8 .4 11.2 .4-1.2 .4-10.1 .4 4 .4-2.2 .4 1.7 .4 3.3 .4 3.8 .4 3.3 .4-1.4 .4-14 .4 3.7 .4 1.5 .4-.5 .4 2.2 .4 2.4 .4-4.8 .4-.5 .4 13.4 .4-7.4 .4 6.8 .4-12.2 .4 8.9 .4 1.5 .4-1.5 .4-9.3 .4 6 .4-5.9 .4-1.4 .4 5.1 .4 2.4 .4-3.1 .4 .5 .4 3.4 .4-5.8 .4 5 .4 1.7 .4-.5 .4-.3 .4-7 .4 3.3 .4-.6 .4 5.2 .4-11 .4 8.5 .4-7.7 .4 10.1 .4-5.1 .4 2.5 .4 4 .4 3.5 .4-11.9 .4 5 .4-9.2 .4 7.9 .4-2.1 .4 6 .4-3.4 .4 1 .4-5.3 .4 3.5 .4-3.4 .4 5.1 .4-7 .4 8.2 .4 3.8 .4 6.2 .4-4.3 .4-.8 .4-2.2 .4 3.6 .4-7.1 .4 1.9 .4-9.9 .4 6.1 .4 7.4 .4-12.6 .4 9.1 .4-1.6 .4-1.3 .4 3.1 .4-1.2 .4-5 .4 4.6 .4-7.5 .4 14.6 .4-6.6 .4 4 .4-7.8 .4 12.1 .4-3.5 .4-2.9 .4-.5 .4 .7 .4-4.8 .4 2.7 .4-.4 .4 2.7 .4 5.1 .4-1.6 .4-3.9 .4 1.7 .4-4 .4-.8 .4-4.9 .4 1.5 .4 .4 .4 4.9 .4-.4 .4 2.7 .4 3.1 .4-2 .4-3.6 .4-1.3 .4 .8 .4 3.9 .4-6.6 .4-2.5 .4 5.6 .4 5.5 .4 .8 .4-2.7 .4-10.9 .4 7.6 .4 3.8 .4 1.7 .4 3.3 .4-12.1 .4 5.7 .4-8.4 .4 5.9 .4-.8 .4 5.3 .4-2.8 .4-8.3 .4 7 .4 2.1 .4 4.8 .4-9.5 .4-.6 .4 1.2 .4 7 .4-5.7 .4 1.6 .4 1.6 .4-5.5 .4 8.3 .4-11.8 .4 15 .4-10.8 .4-1.1 .4 .7 .4-1.8 .4 1.2 .4 .3 .4-1.6 .4 4.3 .4 2.1 .4-3.9 .4 3.3 .4-4.4 .4 4.5 .4-2.3 .4-3.4 .4 5.1 .4-1.1 .4-2.2 .4 2.7 .4 2.5 .4-7.7 .4 3.1 .4 4.9 .4-2.7 .4 3.3 .4 7 .4-15.9 .4 7 .4-3.2 .4 7.8 .4-3.7 .4-8.6 .4 10.7 .4-4.7 .4-1.4 .4 1.3 .4 .8 .4-4.7 .4 2 .4 7.6 .4-10.5 .4 1.8 .4 5.9 .4-7.5 .4 3.1 .4 2.2 .4-5.4 .4 2.5 .4-2.7 .4 3 .4 2.1 .4-1.3 .4 .9 .4 .5 .4 1.7 .4-8.2 .4 5.1 .4 6.3 .4-8.1 .4-.2 .4 1.1 .4-3.4 .4 5.6 .4-2.6 .4-.9 .4 4 .4 1.9 .4-11.8 .4 4 .4 .9 .4-5.2 .4 9.2 .4 6.3 .4-6 .4 1.9 .4-14.6 .4 6.7 .4-4.1 .4 9.3 .4-4.2 .4-.4 .4 2.8 .4 1.1 .4 3.8 .4-1.3 .4-2.1 .4-11.8 .4 12.9 .4-5.4 .4-7.5 .4 7.5 .4-2 .4 .5 .4 4.7 .4-10.8 .4 9 .4 2.4 .4-10.9 .4 11.5 .4-9.7 .4-.5 .4 7.6 .4-4.6 .4-8.6 .4 5.4 .4 6 .4-5.9 .4 .2 .4 2 .4-.2 .4-3.3 .4-1.3 .4 6.2 .4 3.5 .4-17.6 .4 13.5 .4 2.6 .4-9 .4 10.7 .4-14 .4 11.4 .4 3 .4-.5 .4-19.3 .4 11.9 .4-5.2 .4 6.5 .4 4.6 .4-4.9 .4 5.6 .4-16 .4 3.8 .4 1.2 .4 5.5 .4 2.4 .4-10.1 .4-.7 .4 8.5 .4-11 .4 8.8 .4-7 .4 3.1 .4 10.2 .4-11.8 .4 1.1 .4-4.7 .4 6.2 .4 4.3 .4-4.9 .4-10.2 .4 7.7 .4 5.5 .4-13.2 .4 3.5 .4-4.5 .4 1.2 .4-2.7 .4-2.5 .4 8.8 .4-3.4 .4-11.7 .4 5.2 .4 1 .4-2.7 .4 5.8 .4-2.5 .4 2.3 .4-9.9 .4 2.5 .4 .9 .4-.5 .4-.5 .4-3 .4 2.7 .4 9 .4-13.9 .4-5.7 .4 9.9 .4-7.5 .4 8.8 .4 .5 .4 2.8 .4-9.5 .4-11.4 .4 17.7 .4-5 .4 .9 .4-8.2 .4-4 .4 .7 .4-12.8 .4 15.4 .4-11.2 .4-1.4 .4 4.6 .4-8.9 .4 9.1 .4-10.2 .4 17.4 .4-8.2 .4-4.8 .4-3.4 .4-2.8 .4-4.6 .4-10.1 .4 8 .4-2.3 .4 1.2 .4 3.3 .4-13.4 .4 3.8 .4 3.6 .4 1.4 .4 9.2 .4 10.7 .4-17.1 .4 5.8 .4-3.7 .4 2.6 .4 10.5 .4-9.2 .4 3.7 .4-2.2 .4-2.8 .4 12.3 .4-6.2 .4 11.9 .4-14.3 .4 11.4 .4 9.1 .4-12.3 .4 7.4 .4 8.1 .4-4.7 .4-5.8 .4 4.2 .4 5.1 .4-3.8 .4 2.3 .4 4.3 .4-6.6 .4 17.2 .4-11.6 .4 4 .4 1.4 .4 7.9 .4-9.3 .4 13.6 .4-.6 .4-5.8 .4-11.2 .4 .5 .4 5.8 .4 2.9 .4 1.9 .4 3.1 .4-4.3 .4-2.3 .4 1.7 .4-13.4 .4 17.2 .4-14.8 .4-2.5 .4 6.5 .4 1.3 .4-4.5 .4 5.4 .4 1.4 .4 2.9 .4-1.4 .4-5.1 .4 3.3 .4 6.3 .4-8.5 .4 .5 .4-11 .4 13.2 .4 9.5 .4-7.4 .4-5.5 .4 7.9 .4-.2 .4 .3 .4-14.3 .4-.3 .4 10 .4-1.4 .4-.9 .4-11.3 .4 12.2 .4 5.9 .4-4.7 .4 6.8 .4-12 .4-2.6 .4 9.1 .4-5.2 .4-19.7 .4 3.6 .4 9.8 .4-5.2 .4 12.9 .4-2 .4-2.4 .4-10.3 .4-.2 .4 5.2 .4-7.5 .4 5.3 .4-3.2 .4 2.1 .4-4.9 .4-6.3 .4-11.6 .4 6.3 .4-1.5 .4 12.4 .4-13.9 .4 4.5 .4 6.1 .4 .6 .4 1.5 .4-4.4 .4 6.4 .4-14.3 .4 10.6 .4-16.9 .4 5.5 .4 4.8 .4 .9 .4-6.3 .4-2.8 .4-4.2 .4-7.1 .4 1.9 .4 23.3 .4-22.6 .4 1.5 .4-.5 .4 9.1 .4 .1 .4-2 .4-4.5 .4 7.7 .4-8.2 .4 11.7 .4 7.8 .4-15.8 .4 7.9 .4-4.5 .4 .9 .4-5.9 .4 9.4 .4-.3 .4 8.7 .4 7.6 .4-22.1 .4 14.6 .4-12.2 .4 2.3 .4-3.7 .4 11.1 .4 5 .4-8.2 .4 2.4 .4-6.3 .4 3.4 .4-6.1 .4 8.1 .4-12.2 .4 27.5 .4-6.3 .4-11.4 .4 .8 .4 .6 .4 3.6 .4 1 .4 10.6 .4-14.7 .4-8.9 .4 13.9 .4 1.1 .4-7.6 .4 10.5 .4-6.1 .4-3.7 .4 4.6 .4-7.3 .4 5.7 .4 13.4 .4-3 .4-3.6 .4-2.8 .4 1.2 .4-8.9 .4 8.5 .4-5.4 .4 .9 .4 13.7 .4-14.2 .4 5.1 .4 .3 .4 5.8 .4-7.5 .4 4.7 .4-.5 .4-3.4 .4-2.3 .4-2.7 .4 13.1 .4-11.7 .4 12.5 .4 3.3 .4-13.5 .4-2.4 .4-.1 .4 3.1 .4 11.4 .4-12.8 .4-1.6 .4-3.4 .4 10.7 .4 2.3 .4 6.5 .4-7.4 .4-1.7 .4 .1 .4 15.4 .4-5.3 .4-4.1 .4-7.4 .4 1 .4 .7 .4 0 .4 3.6 .4-7 .4 15.6 .4-17.2 .4 10 .4 .7 .4 1.3 .4 2.5 .4-6.2 .4-.5 .4 7.5 .4-.8 .4-7.7 .4 5.2 .4-12.3 .4 9.7 .4-14.9 .4 20 .4-11.1 .4 9.4 .4-2.8 .4-6.2 .4 8.7 .4 4.8 .4-15.1 .4 16.6 .4-8.9 .4-7.7 .4 3.8 .4 3.8 .4 2.1 .4-9.1 .4 2.5 .4 5.2 .4-1.3 .4 10.1 .4-6.9 .4 .4 .4-10.8 .4 0 .4-1 .4 5.9 .4 4 .4 6.3 .4-4.3 .4-10.9 .4 4.5 .4 13.2 .4-12.2 .4 2.3 .4-11.5 .4-.2 .4 5.4 .4 1.2 .4 4.7 .4-4.1 .4-9.5 .4 24.7 .4-12.3 .4-12.5 .4 20.1 .4-5.1 .4-6.2 .4 1.2 .4 2.7 .4-16.9 .4 19.7 .4-4.5 .4 2.4 .4-7.7 .4-.3 .4 13.3 .4-25.2 .4 22.8 .4-.5 .4-16.9 .4 8.3 .4-2.9 .4 .7 .4-4.4 .4-.5 .4 8.5 .4-2.3 .4 5.1 .4 1 .4-8.1 .4 16.1 .4-2.9 .4-19.5 .4 8.4 .4-1.3 .4 4.7 .4-8.8 .4 15.7 .4-12.2 .4 15.3 .4-17.8 .4 16.6 .4-9.6 .4 3.1 .4-3.7 .4 0 .4-8.4 .4 4.9 .4-3.4 .4 3.1 .4-1.1 .4 6.9 .4-3.1 .4-3.6 .4-9 .4 16.4 .4-10.4 .4 2.1 .4 4.9 .4-3.1 .4 .7 .4 .1 .4-12.4 .4 15.9 .4-5.7 .4 5.9 .4-4.4 .4-3.2 .4 11.4 .4-8.2 .4 5.3 .4-2.5 .4 1 .4 1.4 .4-2.7 .4-9.7 .4 4.1 .4 9.8 .4-9.4 .4-1.5 .4 2.3 .4 5.5 .4-11.1 .4 4.6 .4-2.5 .4-1.6 .4 8.8 .4-8.3 .4 3.6 .4 2 .4 .4 .4-.1 .4 1.6 .4-9.3 .4-10.7 .4 20.4 .4 4.8 .4-12.9 .4 2.5 .4 5.1 .4-10.6 .4 4.6 .4-2.5 .4 6 .4-3.2 .4 9.8 .4-16.1 .4 1.1 .4-4.5 .4 10 .4-2.3 .4-.8 .4 5 .4-10 .4-3 .4 22.1 .4-13.4 .4-6.3 .4 12.6 .4-5.8 .4-7 .4 8 .4 4.4 .4-2.1 .4-5.2 .4 11 .4-16.2 .4 4.3 .4 4 .4-9.5 .4 10.7 .4-2 .4 3.8 .4-4.3 .4 10.5 .4-21.2 .4 6.1 .4-.9 .4 3.3 .4 4 .4-10.8 .4 13 .4 .8 .4-6.3 .4-9.5 .4 12.7 .4-1.2 .4-8.7 .4 1.7 .4 1.1 .4-5.6 .4 11.4 .4 4.8 .4-4.8 .4-6.4 .4 4.1 .4 .3 .4 11.9 .4-14.3 .4 6 .4-4.9 .4 9.4 .4-12.3 .4 8.5 .4-5.4 .4 6.2 .4-12.5 .4 8.5 .4 7.6 .4-2.5 .4-10.6 .4 22.3 .4-12.5 .4-4.2 .4-.5 .4-3.3 .4 15.6 .4-1.4 .4 1.3 .4-15.1 .4-5.1 .4-1.5 .4 4.5 .4 5.9 .4-3.6 .4-2.8 .4 13.7 .4-7.2 .4 6.5 .4 5.8 .4-12.2 .4 2 .4 11.1 .4-16.8 .4 6.6 .4-3.9 .4 5.9 .4-2.3 .4 5.2 .4-3.9 .4 10.2 .4-11.8 .4 4.4 .4 4.8 .4-9.3 .4 1.7 .4 3.3 .4-1.5 .4 7.4 .4-9 .4-4.6 .4 13.2 .4-8.7 .4 1.3 .4 2.4 .4 8.5 .4-1.8 .4-3.5 .4 .7 .4-3.9 .4 12.9 .4-3.8 .4-11.1 .4 10.7 .4-13.2 .4 3.3 .4 .9 .4 13.9 .4 2.5 .4-11.4 .4-2.9 .4 11.1 .4-10.9 .4 12.9 .4-14.9 .4 11.6 .4-10.2 .4 15.2 .4-9.3 .4-4.3 .4 4.7 .4-14.4 .4 14.6 .4 3.8 .4 10.1 .4-19.8 .4 13.6 .4 .6 .4-3 .4-5.8 .4 3.1 .4-5.4 .4 6.6 .4-8.1 .4 4.1 .4 3.7 .4-5.4 .4-1.9 .4 7.2 .4 2.4 .4 2.3 .4-1.1 .4 7.4 .4-9.4 .4 8 .4-13 .4 9.8 .4 .7 .4 6.7 .4-13.7 .4 14.2 .4-10.7 .4-1.5 .4-6.6 .4 14.7 .4-7.8 .4 8.1 .4-3.5 .4 3.8 .4-3.8 .4-3.8 .4 1.7 .4 2.7 .4 2.8 .4-6.4 .4 9.7 .4-15.9 .4 4.3 .4 11.2 .4-1.7 .4 9.7 .4-5 .4-10.9 .4-.2 .4 6.3 .4-.2 .4 4.7 .4-6.5 .4-.7 .4 .2 .4 4.1 .4-4.1 .4 4.2 .4 5 .4-4.6 .4-4.5 .4 8.9 .4 1.7 .4-8.5 .4 2.8 .4-6 .4 3.2 .4-.1 .4-1 .4 4.2 .4 13.8 .4-3.7 .4-8.1 .4 4.9 .4-1.6 .4 .4 .4-10.6 .4 9.8 .4-4.9 .4 3.9 .4 2.1 .4-11.9 .4 .2 .4 15.1 .4 5.1 .4-2.2 .4-10.1 .4 4 .4 5.5 .4-4.1 .4-10 .4 15.5 .4-7.1 .4 3.5 .4-8.7 .4 3.4 .4 12.2 .4-8.3 .4 5 .4 6.1 .4-7.9 .4 .2 .4-1.3 .4 5.8 .4-2.2 .4 .6 .4 5.9 .4-5.2 .4 3.9 .4-10.3 .4 3.1 .4 4.9 .4-7.2 .4-2.9 .4 6.9 .4-1.9 .4 4.6 .4 6.3 .4-10.1 .4-2.9 .4 4.1 .4-1.3 .4 .5 .4 8.4 .4-2.6 .4-.7 .4-3 .4 6.2 .4-5.1 .4 9.1 .4-8.3 .4-.2 .4 4 .4 7.1 .4-18.8 .4 11 .4-8 .4-2 .4 6 .4 6.4 .4-12 .4 6.2 .4 11 .4-2.6 .4-7.7 .4 5.1 .4-2.8 .4-3 .4-1 .4 10.1 .4-9.2 .4 2.7 .4-1.7 .4-4.6 .4 6.3 .4 10.1 .4-13.8 .4 4.7 .4 6.2 .4-3.4 .4-2.2 .4 3 .4-1.3 .4-1.7 .4-3.5 .4 1.9 .4-6.1 .4 9.1 .4-1.6 .4-1.9 .4-4.5 .4 5.2 .4-6.2 .4 11.8 .4-8.5 .4 9.9 .4-8.2 .4 7.5 .4-.5 .4 1.5 .4-5.5 .4-7.5 .4 11.1 .4-4.8 .4-4.2 .4 2.2 .4 6.6 .4 1.8 .4-1.2 .4 1.8 .4 1.8 .4-6.6 .4 1.6 .4-1 .4-.1 .4 .8 .4 1.6 .4-3.2 .4 3.1 .4 3.7 .4-5.6 .4 4 .4-6.7 .4 .3 .4 12 .4-8.6 .4 6.4 .4-14.9 .4-1.9 .4 11 .4-1 .4-9.5 .4 14.1 .4-.4 .4-6.2 .4 6 .4 .2 .4-2.5 .4-3.1 .4 5.7 .4-5 .4-.4 .4-4 .4 6.9 .4 5.3 .4-8.1 .4-.1 .4-3.8 .4 5.1 .4 4.9 .4-4.6 .4 3.5 .4 2.3 .4-9.3 .4 1.4 .4 5.6 .4-4.2 .4-3.6 .4 4.9 .4 1.9 .4 3.2 .4-9.1 .4 5.5 .4 .7 .4-13.5 .4 14.7 .4-3.8 .4-7.2 .4 15.9 .4-6.4 .4-.7 .4 9.8 .4-6.1 .4-9.6 .4 4.8 .4 8 .4-2.3 .4 1.5 .4-7.3 .4 5.4 .4-8.1 .4 2 .4 3.8 .4-3.5 .4 3.4 .4-3.4 .4 2 .4 8.5 .4-7 .4 2.5 .4-11.8 .4 3.9 .4 7.1 .4-11.8 .4 5.7 .4 .4 .4 7.1 .4-13.6 .4 5.8 .4 2.5 .4 .5 .4-8 .4 13.2 .4-2.4 .4 2.9 .4-3.3 .4 .3 .4-4.1 .4 0 .4-4.3 .4 7.7 .4-7.6 .4 10.9 .4-2.8 .4-5.1 .4 3.6 .4-8.1 .4 2.6 .4 1.7 .4-3.3 .4 3.7 .4 1.9 .4-2.1 .4-.8 .4-1.5 .4-3.5 .4 11.7 .4-4.5 .4 7.6 .4-10.8 .4 3 .4 5.4 .4 3.5 .4-1.9 .4-.4 .4-10.4 .4 8.9 .4 6.1 .4-18.3 .4 11.5 .4 8.6 .4-15 .4 6.2 .4 7.8 .4-6.3 .4-1.8 .4 3.2 .4-4.6 .4 4.2 .4-3.9 .4 4.5 .4-7.7 .4 3.4 .4 1.3 .4-10.8 .4 14.5 .4-5.7 .4-1.1 .4-3.7 .4 6 .4-3.7 .4 7.2 .4 4.5 .4-9.3 .4-1.1 .4 2.7 .4-.6 .4 3.5 .4-11.3 .4 11.6 .4-2.5 .4-2.4 .4-4.4 .4 11.2 .4 .9 .4-3.5 .4 1.8 .4 .7 .4-2.9 .4 2.9 .4-8.3 .4 8.3 .4-14.5 .4 16.2 .4 2.1 .4-1.9 .4-9 .4 2.6 .4 3.8 .4-6.4 .4 5.7 .4-2 .4 7.1 .4-8.9 .4-.3 .4 5.1 .4 2.2 .4-6.2 .4-4.8 .4 .4 .4-1.3 .4 7.6 .4-5 .4 4.7 .4-6.4 .4 5.1 .4 3.8 .4-7.3 .4 9.9 .4-4.8 .4-3.8 .4 2.1 .4 1.3 .4-3.5 .4 1.1 .4 3.8 .4-9.7 .4 19.6 .4-7.1 .4 1.7 .4 4.7 .4-6.9 .4-3.4 .4-.4 .4 3.1 .4 3.9 .4-10.3 .4 11.8 .4-9.5 .4-3.1 .4 10.7 .4-8.3 .4 5.6 .4-9.3 .4 9.2 .4-5.3 .4 7.5 .4-12.4 .4 4 .4-1.3 .4 5.4 .4-5.5 .4 3 .4 1.4 .4-1.8 .4 2.6 .4 .6 .4-8.4 .4 11.8 .4-9.6 .4 1.4 .4 11.3 .4-10.8 .4 2.4 .4 3.9 .4-6.1 .4 2.4 .4-.8 .4 .5 .4-4.4 .4 9.9 .4-4.5 .4 2.6 .4-2.5 .4-2.9 .4 7.9 .4-8.5 .4 7.7 .4-7.6 .4 .1 .4 3.6 .4 10 .4-6.3 .4-3.5 .4 1.4 .4 3.2 .4-7.2 .4-6.4 .4 3.9 .4 4.4 .4-3 .4 2.1 .4 7.6 .4-7.6 .4-1.5 .4 2.9 .4 5.2 .4 2.2 .4-4.5 .4-4.3 .4-.7 .4-3 .4 2.3 .4 6.8 .4-1.5 .4-1.2 .4-5.9 .4 4.2 .4-2.7 .4 9.8 .4-6.6 .4-.6 .4 .4 .4 .1 .4 .4 .4-2.7 .4 3.5 .4-.8 .4 3.6 .4-1.5 .4 .6 .4-5.2 .4 2.3 .4-9.8 .4 6 .4 2 .4-8.8 .4 15.8 .4-.9 .4-3.5 .4 9.7 .4-17.3 .4 7.2 .4 .3 .4-2.7 .4 8.8 .4-1.8 .4-2.7 .4-6.2 .4 5.2 .4-.8 .4 2 .4-8.5 .4 1.8 .4 9.4 .4-4.5 .4-.7 .4 .2 .4-10.6 .4 17.1 .4-12.8 .4 1.1 .4 7.8 .4 3.7 .4-.7 .4-7.5 .4-1.4 .4 6.4 .4-1.7 .4-8.9 .4 13.8 .4-14.3 .4 10.2 .4-.3 .4 1.8 .4-2.7 .4 3.3 .4-2.4 .4-5.2 .4 1.2 .4 8.8 .4-14.4 .4 11.5 .4-5.7 .4-5 .4 3.8 .4 5.9 .4-12.8 .4 14.7 .4 1.5 .4-7.2 .4 .3 .4 1.8 .4 3.7 .4-8.4 .4 2.4 .4 3.7 .4-8.1 .4 8 .4-1.7 .4 3.8 .4-8.4 .4 4.7 .4 2 .4-1.5 .4-4.9 .4 9.7 .4-5.4 .4 1.1 .4-.4 .4 2.8 .4-2.6 .4-3.4 .4 6.7 .4-4 .4 .9 .4 .4 .4-6 .4 5.5 .4 1 .4-7.6 .4 5 .4 1 .4 3.4 .4-4.4 .4 1.7 .4 2.5 .4-8.1 .4 2.1 .4 2 .4 4.4 .4 2.8 .4-5.4 .4-.9 .4-1.6 .4 2.6 .4 6.8 .4-7.8 .4-1.7 .4 9.2 .4-7.4 .4-.3 .4-2.9 .4 8.4 .4-5.6 .4-7 .4-1.3 .4 10.7 .4-3.7 .4 4.4 .4 .1 .4 4.5 .4-.4 .4-10.9 .4 3.4 .4-2.1 .4 7.2 .4-10.2 .4 9.1 .4-10.1 .4 11.9 .4 .5 .4-12.1 .4 7.2 .4-2.7 .4-4.6 .4 11.2 .4-7.4 .4 7.9 .4-2.5 .4 5.9 .4-9.9 .4 5.6 .4-2.7 .4-2.5 .4 6.2 .4-4.3 .4-2.2 .4 2.7 .4-6.5 .4 10.4 .4 2.6 .4-13.8 .4 7 .4-2.1 .4-1.6 .4 6.7 .4 3.9 .4-6.1 .4-2.7 .4 8.7 .4-8.9 .4-1.6 .4 .5 .4 6.5 .4-3.8 .4 .4 .4-3.4 .4 4.2 .4-1.7 .4 7.9 .4-7.9 .4-4.3 .4 11.8 .4-6.2 .4-1.3 .4 2.1 .4-1.9 .4-9.6 .4 9.3 .4 5.6 .4-1.5 .4-7.4 .4 1.9 .4 3.5 .4 7 .4-7.5 .4-.6 .4-3.6 .4 .8 .4-.5 .4 2.2 .4-4.2 .4 2.4 .4-3.3 .4 10 .4-2.1 .4-3.6 .4-.4 .4 4.5 .4-2.6 .4-2.9 .4-8.8 .4 2.7 .4 11 .4-3.7 .4-2.5 .4-4.6 .4 10.7 .4-7.9 .4 5.7 .4-1 .4-2 .4-2.7 .4 6.4 .4-7.4 .4 3.3 .4 2.1 .4 5.5 .4-6.8 .4 2.4 .4 2.1 .4-13.3 .4 6.5 .4 2.6 .4-1.7 .4 6.8 .4-5.9 .4 4.9 .4 1.4 .4-5.3 .4 2.8 .4 4.8 .4-2.2 .4-3.9 .4-7.7 .4 4.5 .4 2.6 .4 1.8 .4-.7 .4-.8 .4-4.4 .4 7.1 .4 1.5 .4-4.4 .4 .5 .4 3.3 .4-5.3 .4 3.5 .4 2.5 .4-7.3 .4 2.7 .4-3.1 .4-1.4 .4-3.5 .4 9.7 .4 9.5 .4-12.4 .4 8.3 .4-2.2 .4-6.3 .4 5.7 .4-5.8 .4-7.3 .4 12.9 .4-5 .4 .3 .4 4.1 .4 1.2 .4-5.2 .4 2.1 .4 .2 .4-5.1 .4 7 .4-5.8 .4 4.2 .4 2.4 .4 .2 .4-12.8 .4 5.3 .4 1.8 .4-2.1 .4 2.8 .4 .2 .4 .8 .4 9.6 .4-8.9 .4-.8 .4-3.6 .4 2.3 .4 .1 .4 3.7 .4-8.1 .4 4.4 .4-3.7 .4-2.8 .4 10.6 .4-4 .4 2.4 .4 5.7 .4-.9 .4-6.7 .4 1.8 .4-3.6 .4 1.2 .4-5.9 .4 10.1 .4-2.8 .4 4 .4 3.5 .4-11.7 .4 4.5 .4-1.7 .4 6.4 .4-6.5 .4 8.5 .4 2.8 .4-1.2 .4-.3 .4-7.1 .4-1.4 .4-6.2 .4 6.9 .4-7.9 .4 2.8 .4 9.6 .4-1.1 .4-9.1 .4 14.5 .4-14.5 .4 0 .4 11.2 .4 .7 .4-7.9 .4 3.6 .4-9.6 .4 10.4 .4-5.8 .4 6.6 .4-7.1 .4 .6 .4 5.3 .4-.2 .4-4.6 .4-4.8 .4 7.9 .4 4.7 .4-2.7 .4-9.3 .4 6.4 .4 .6 .4 5.7 .4-7.5 .4-.4 .4 8.2 .4-12.5 .4 2.4 .4-1.1 .4 9.1 .4-8.2 .4 6.1 .4-6.1 .4 9.6 .4-4 .4-5.1 .4 5.7 .4-1.4 .4-1.4 .4-4.2 .4 12.5 .4-7.8 .4-2.1 .4 2.2 .4-.8 .4-5.1 .4 10 .4-11.6 .4 10.8 .4-12.1 .4 2.2 .4 11.2 .4-11.7 .4 6.6 .4 1 .4 4.7 .4 1.8 .4-3.9 .4-1.4 .4 2.6 .4-.7 .4-11.3 .4 9.6 .4-6.5 .4 14.5 .4-5.5 .4-8.4 .4 11.1 .4-12.2 .4 6.4 .4-7.9 .4 3.8 .4 2.5 .4-6.9 .4 8.3 .4 2 .4 2.3 .4-2.4 .4-3 .4 1.8 .4-7.3 .4 1.2 .4 8.2 .4-11.1 .4 2.3 .4 6.3 .4-4.6 .4-5 .4 2.5 .4-.6 .4-2.5 .4 2.7 .4 5.7 .4-5.9 .4 3.2 .4-4.1 .4 2 .4 3.8 .4-1.6 .4-2.8 .4-.5 .4 5.9 .4-6.8 .4-5 .4 9.4 .4-.4 .4-3.8 .4-2.3 .4 8.3 .4-.6 .4-4.3 .4-2.2 .4 3 .4 4.3 .4-11.2 .4 6.4 .4-13.7 .4 6.6 .4 5.1 .4-2.5 .4-6.5 .4 9 .4-.8 .4 .1 .4-5.7 .4 .6 .4-.3 .4 2.1 .4-.9 .4-1 .4 3.9 .4 2.1 .4-4.7 .4 5.5 .4-13.8 .4 19.8 .4-15.6 .4 2.3 .4 4.3 .4 2.8 .4-3.6 .4-8.2 .4 6 .4-3.7 .4 10 .4-6 .4-9 .4 7.9 .4 4.9 .4-6.2 .4 7.5 .4-9.6 .4 6.6 .4 6 .4-4.1 .4-4.4 .4 1.4 .4 8.1 .4-1.1 .4-1.3 .4 2 .4-3.5 .4 .7 .4-.4 .4-1.2 .4 7.2 .4-9.1 .4 14.4 .4-6.2 .4-4.4 .4 7.7 .4 1.3 .4-6 .4-6.6 .4 6 .4-.2 .4-2.6 .4-3.6 .4 2.5 .4 4.9 .4-1.4 .4 5 .4-9.4 .4 8.4 .4-6.3 .4 5.6 .4-1 .4 5.5 .4-3.7 .4-3.6 .4 2 .4-7.1 .4 6.6 .4 2.2 .4-1 .4-3.4 .4 3.6 .4-.1 .4 .4 .4-5.6 .4 7.6 .4-3.5 .4-5 .4 4.4 .4 5.7 .4 1.7 .4-7.9 .4-2.2 .4 2 .4 4.5 .4 2.9 .4-5.2 .4-1.7 .4 7.3 .4-4.3 .4-5.3 .4 2.3 .4 5.1 .4-5.4 .4 1.5 .4-3.1 .4 5.3 .4 4 .4-1 .4-7 .4-3.1 .4 11.1 .4-3.2 .4-9.7 .4 12.8 .4-8.2 .4-.6 .4 2.7 .4-6 .4 1.1 .4 11 .4-7.3 .4 3.3 .4 3.7 .4-4.2 .4-2 .4 2.9 .4 4.7 .4-5 .4-3.8 .4 10.2 .4-2.2 .4-11.4 .4 6.8 .4 8.6 .4-16.4 .4 .2 .4 9.1 .4-5.3 .4-4.5 .4 13.3 .4-7.1 .4 2.4 .4 3.5 .4-4.1 .4-5 .4 13.7 .4-5.5 .4-4.1 .4-1.7 .4-4.4 .4 9 .4-8.7 .4 13.5 .4-16.2 .4 12.1 .4-8.4 .4 .3 .4 7.5 .4-2.6 .4 2.7 .4-7.9 .4 4.1 .4-.8 .4 2.6 .4 2.7 .4-4.4 .4-3.5 .4 4.5 .4-7.6 .4 4.5 .4 8.2 .4-7.8 .4 6.1 .4-5.4 .4-2.3 .4 4.6 .4 1.6 .4-2.8 .4 1.7 .4 6.2 .4-7.2 .4 1.5 .4-4.9 .4 6.9 .4-6.6 .4 3.9 .4-2.9 .4 5 .4-.6 .4 2.3 .4-4.2 .4 2.4 .4 5.4 .4-12.1 .4 0 .4 7.6 .4-3 .4-.2 .4-10.9 .4 9.6 .4 5.1 .4-1.9 .4-2.1 .4-.8 .4-2.3 .4 1.2 .4 2 .4-8.3 .4 13.7 .4-10.7 .4 10.5 .4-2.1 .4-6.7"/>
</g>
<text x="284.6" y="196.0" font-size="93.0" style="letter-spacing:2.00px"><tspan>(d)</tspan></text>
<text x="271.4" y="721.0" font-size="93.0" style="letter-spacing:1.75px"><tspan>(c)</tspan></text>
<text x="293.2" y="1305.3" font-size="93.0" style="letter-spacing:1.75px"><tspan>(b)</tspan></text>
<text x="257.4" y="1874.3" font-size="93.0" style="letter-spacing:2.25px"><tspan>(a)</tspan></text>
<text x="1286.2" y="183.5" font-size="75.0" style="letter-spacing:-0.58px"><tspan>hex-WS</tspan><tspan font-size="44.0" dy="26.5">2</tspan></text>
<text x="934.0" y="293.0" font-size="75.0" style="letter-spacing:-0.33px"><tspan>WCl</tspan><tspan font-size="44.0" dy="24.5">6</tspan><tspan dy="-24.5">:Cysteine (1:4)</tspan></text>
<text x="742.2" y="726.8" font-size="75.0" style="letter-spacing:-0.65px"><tspan>JCPDS:008-0237</tspan></text>
<text x="1321.3" y="719.0" font-size="75.0" style="letter-spacing:-0.08px"><tspan>hex-WS</tspan><tspan font-size="44.0" dy="25.0">2</tspan></text>
<text x="934.5" y="795.3" font-size="75.0" style="letter-spacing:-0.33px"><tspan>WCl</tspan><tspan font-size="44.0" dy="24.5">6</tspan><tspan dy="-24.5">:Cysteine (1:2)</tspan></text>
<text x="1013.9" y="1302.0" font-size="75.0" style="letter-spacing:-0.54px"><tspan>JCPDS:033-1387</tspan></text>
<text x="1306.5" y="1381.8" font-size="75.0" style="letter-spacing:-0.42px"><tspan>hex-WO</tspan><tspan font-size="44.0" dy="24.5">3</tspan></text>
<text x="919.0" y="1868.5" font-size="75.0" style="letter-spacing:-0.75px"><tspan>JCPDS:01-084-1516</tspan></text>
<text x="1375.0" y="1957.5" font-size="75.0" style="letter-spacing:-0.80px"><tspan>W</tspan><tspan font-size="44.0" dy="25.0">18</tspan><tspan dy="-25.0">O</tspan><tspan font-size="44.0" dy="25.0">49</tspan></text>
<text x="166.2" y="2456.5" font-size="96.0" style="letter-spacing:-4.00px"><tspan>10</tspan></text>
<text x="366.4" y="2456.5" font-size="96.0" style="letter-spacing:1.00px"><tspan>20</tspan></text>
<text x="571.8" y="2456.5" font-size="96.0" style="letter-spacing:-1.50px"><tspan>30</tspan></text>
<text x="776.2" y="2456.5" font-size="96.0" style="letter-spacing:-1.00px"><tspan>40</tspan></text>
<text x="982.0" y="2456.5" font-size="96.0" style="letter-spacing:-1.50px"><tspan>50</tspan></text>
<text x="1183.4" y="2456.5" font-size="96.0" style="letter-spacing:1.00px"><tspan>60</tspan></text>
<text x="1390.6" y="2456.5" font-size="96.0" style="letter-spacing:-1.50px"><tspan>70</tspan></text>
<text x="1593.0" y="2456.5" font-size="96.0" style="letter-spacing:1.00px"><tspan>80</tspan></text>
<text x="605.5" y="2575.0" font-size="127.0" style="letter-spacing:0.65px"><tspan>2</tspan><tspan font-family="Liberation Serif, serif">θ</tspan><tspan> (degree)</tspan></text>
<text transform="translate(127.2 1202.5) rotate(-90)" font-size="127.0" text-anchor="middle" style="letter-spacing:-0.20px">Intensity (a.u.)</text>
<text transform="translate(382.7 864.8) rotate(-90)" font-size="73.0" text-anchor="middle" style="letter-spacing:1.50px">(002)</text>
<text transform="translate(647.3 730.8) rotate(-90)" font-size="73.0" text-anchor="middle" style="letter-spacing:1.25px">(100)</text>
<text transform="translate(729.0 734.5) rotate(-90)" font-size="73.0" text-anchor="middle" style="letter-spacing:0.38px">(101)</text>
<text transform="translate(856.5 886.1) rotate(-90)" font-size="73.0" text-anchor="middle" style="letter-spacing:1.13px">(103)</text>
<text transform="translate(1189.3 906.5) rotate(-90)" font-size="73.0" text-anchor="middle" style="letter-spacing:2.12px">(110)</text>
<text transform="translate(334.4 1507.0) rotate(-90)" font-size="73.0" text-anchor="middle" style="letter-spacing:0.75px">(100)</text>
<text transform="translate(511.0 1376.6) rotate(-90)" font-size="73.0" text-anchor="middle" style="letter-spacing:0.87px">(001)</text>
<text transform="translate(660.0 1336.3) rotate(-90)" font-size="73.0" text-anchor="middle" style="letter-spacing:1.12px">(200)</text>
<text transform="translate(726.0 1548.3) rotate(-90)" font-size="73.0" text-anchor="middle" style="letter-spacing:3.50px">(111)</text>
<text transform="translate(802.3 1382.8) rotate(-90)" font-size="73.0" text-anchor="middle" style="letter-spacing:1.50px">(201)</text>
<text transform="translate(887.6 1592.7) rotate(-90)" font-size="73.0" text-anchor="middle" style="letter-spacing:0.37px">(300)</text>
<text transform="translate(964.6 1589.5) rotate(-90)" font-size="73.0" text-anchor="middle" style="letter-spacing:1.88px">(211)</text>
<text transform="translate(1033.0 1510.8) rotate(-90)" font-size="73.0" text-anchor="middle" style="letter-spacing:0.75px">(220)</text>
<text transform="translate(1126.5 1519.8) rotate(-90)" font-size="73.0" text-anchor="middle" style="letter-spacing:0.75px">(221)</text>
<text transform="translate(1208.6 1519.8) rotate(-90)" font-size="73.0" text-anchor="middle" style="letter-spacing:0.75px">(202)</text>
<text transform="translate(1316.4 1554.2) rotate(-90)" font-size="73.0" text-anchor="middle" style="letter-spacing:0.62px">(401)</text>
<text transform="translate(457.0 1936.0) rotate(-90)" font-size="73.0" text-anchor="middle" style="letter-spacing:0.75px">(010)</text>
<text transform="translate(530.0 1862.5) rotate(-90)" font-size="73.0" text-anchor="middle" style="letter-spacing:0.38px">(103)</text>
<text transform="translate(608.4 1969.0) rotate(-90)" font-size="73.0" text-anchor="middle" style="letter-spacing:0.50px">(-104)</text>
<text transform="translate(755.7 2084.3) rotate(-90)" font-size="73.0" text-anchor="middle" style="letter-spacing:1.50px">(-114)</text>
<text transform="translate(1000.1 2105.0) rotate(-90)" font-size="73.0" text-anchor="middle" style="letter-spacing:0.75px">(020)</text>
<text transform="translate(1072.0 2116.6) rotate(-90)" font-size="73.0" text-anchor="middle" style="letter-spacing:0.62px">(007)</text>
<text transform="translate(1177.1 2105.0) rotate(-90)" font-size="73.0" text-anchor="middle" style="letter-spacing:1.00px">(-124)</text>
</svg></body></html>
